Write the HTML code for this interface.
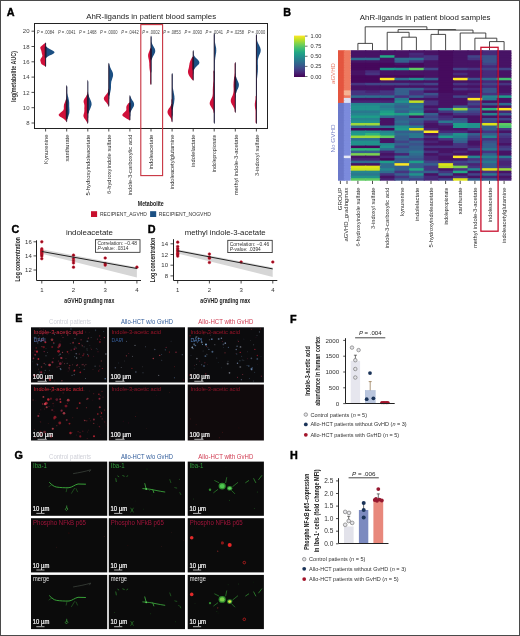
<!DOCTYPE html>
<html><head><meta charset="utf-8"><title>Figure</title>
<style>
html,body{margin:0;padding:0;background:#fff;}
body{width:520px;height:636px;overflow:hidden;}
svg{display:block;}
text{font-family:'Liberation Sans', Arial, Helvetica, sans-serif;}
</style></head><body>
<svg width="520" height="636" viewBox="0 0 520 636">
<rect x="0" y="0" width="520" height="636" fill="#fff"/>
<g id="panelA">
<text x="6.8" y="15.9" font-size="10.8" fill="#000" text-anchor="start" font-weight="bold" stroke="#000" stroke-width="0.4">A</text>
<text x="151.2" y="19" font-size="7.6" fill="#222" text-anchor="middle" textLength="130" lengthAdjust="spacingAndGlyphs">AhR-ligands in patient blood samples</text>
<rect x="34.5" y="23.5" width="233" height="105" fill="none" stroke="#222" stroke-width="1"/>
<line x1="31.5" y1="31.2" x2="34.5" y2="31.2" stroke="#222" stroke-width="0.8"/>
<text x="29.5" y="33.3" font-size="6" fill="#444" text-anchor="end">20</text>
<line x1="31.5" y1="46.5" x2="34.5" y2="46.5" stroke="#222" stroke-width="0.8"/>
<text x="29.5" y="48.6" font-size="6" fill="#444" text-anchor="end">18</text>
<line x1="31.5" y1="61.8" x2="34.5" y2="61.8" stroke="#222" stroke-width="0.8"/>
<text x="29.5" y="63.9" font-size="6" fill="#444" text-anchor="end">16</text>
<line x1="31.5" y1="77.1" x2="34.5" y2="77.1" stroke="#222" stroke-width="0.8"/>
<text x="29.5" y="79.2" font-size="6" fill="#444" text-anchor="end">14</text>
<line x1="31.5" y1="92.4" x2="34.5" y2="92.4" stroke="#222" stroke-width="0.8"/>
<text x="29.5" y="94.5" font-size="6" fill="#444" text-anchor="end">12</text>
<line x1="31.5" y1="107.7" x2="34.5" y2="107.7" stroke="#222" stroke-width="0.8"/>
<text x="29.5" y="109.8" font-size="6" fill="#444" text-anchor="end">10</text>
<line x1="31.5" y1="123.0" x2="34.5" y2="123.0" stroke="#222" stroke-width="0.8"/>
<text x="29.5" y="125.1" font-size="6" fill="#444" text-anchor="end">8</text>
<text x="16.3" y="76.6" font-size="6.6" fill="#333" text-anchor="middle" font-weight="bold" textLength="51" lengthAdjust="spacingAndGlyphs" transform="rotate(-90 16.3 76.6)">log(metabolite AUC)</text>
<line x1="45.6" y1="129" x2="45.6" y2="131.5" stroke="#222" stroke-width="0.8"/>
<text x="47.8" y="134.6" font-size="6.2" fill="#2a2a2a" text-anchor="end" textLength="29.3" lengthAdjust="spacingAndGlyphs" transform="rotate(-90 47.8 134.6)">Kynurenine</text>
<text x="45.6" y="33.7" font-size="5" fill="#444" text-anchor="middle" textLength="17.5" lengthAdjust="spacingAndGlyphs"><tspan font-style="italic">P</tspan> = .0084</text>
<line x1="66.7" y1="129" x2="66.7" y2="131.5" stroke="#222" stroke-width="0.8"/>
<text x="68.88" y="134.6" font-size="6.2" fill="#2a2a2a" text-anchor="end" textLength="27" lengthAdjust="spacingAndGlyphs" transform="rotate(-90 68.88 134.6)">xanthurate</text>
<text x="66.7" y="33.7" font-size="5" fill="#444" text-anchor="middle" textLength="17.5" lengthAdjust="spacingAndGlyphs"><tspan font-style="italic">P</tspan> = .0041</text>
<line x1="87.8" y1="129" x2="87.8" y2="131.5" stroke="#222" stroke-width="0.8"/>
<text x="89.96" y="134.6" font-size="6.2" fill="#2a2a2a" text-anchor="end" textLength="60.8" lengthAdjust="spacingAndGlyphs" transform="rotate(-90 89.96 134.6)">5-hydroxyindoleacetate</text>
<text x="87.8" y="33.7" font-size="5" fill="#444" text-anchor="middle" textLength="17.5" lengthAdjust="spacingAndGlyphs"><tspan font-style="italic">P</tspan> = .1468</text>
<line x1="108.8" y1="129" x2="108.8" y2="131.5" stroke="#222" stroke-width="0.8"/>
<text x="111.04" y="134.6" font-size="6.2" fill="#2a2a2a" text-anchor="end" textLength="59.3" lengthAdjust="spacingAndGlyphs" transform="rotate(-90 111.04 134.6)">6-hydroxyindole sulfate</text>
<text x="108.8" y="33.7" font-size="5" fill="#444" text-anchor="middle" textLength="17.5" lengthAdjust="spacingAndGlyphs"><tspan font-style="italic">P</tspan> = .0000</text>
<line x1="129.9" y1="129" x2="129.9" y2="131.5" stroke="#222" stroke-width="0.8"/>
<text x="132.12" y="134.6" font-size="6.2" fill="#2a2a2a" text-anchor="end" textLength="61" lengthAdjust="spacingAndGlyphs" transform="rotate(-90 132.12 134.6)">indole-3-carboxylic acid</text>
<text x="129.9" y="33.7" font-size="5" fill="#444" text-anchor="middle" textLength="17.5" lengthAdjust="spacingAndGlyphs"><tspan font-style="italic">P</tspan> = .0442</text>
<line x1="151.0" y1="129" x2="151.0" y2="131.5" stroke="#222" stroke-width="0.8"/>
<text x="153.2" y="134.6" font-size="6.2" fill="#2a2a2a" text-anchor="end" textLength="35" lengthAdjust="spacingAndGlyphs" transform="rotate(-90 153.2 134.6)">indoleacetate</text>
<text x="151.0" y="33.7" font-size="5" fill="#444" text-anchor="middle" textLength="17.5" lengthAdjust="spacingAndGlyphs"><tspan font-style="italic">P</tspan> = .0002</text>
<line x1="172.1" y1="129" x2="172.1" y2="131.5" stroke="#222" stroke-width="0.8"/>
<text x="174.28" y="134.6" font-size="6.2" fill="#2a2a2a" text-anchor="end" textLength="54.6" lengthAdjust="spacingAndGlyphs" transform="rotate(-90 174.28 134.6)">indoleacetylglutamine</text>
<text x="172.1" y="33.7" font-size="5" fill="#444" text-anchor="middle" textLength="17.5" lengthAdjust="spacingAndGlyphs"><tspan font-style="italic">P</tspan> = .0853</text>
<line x1="193.2" y1="129" x2="193.2" y2="131.5" stroke="#222" stroke-width="0.8"/>
<text x="195.36" y="134.6" font-size="6.2" fill="#2a2a2a" text-anchor="end" textLength="32.4" lengthAdjust="spacingAndGlyphs" transform="rotate(-90 195.36 134.6)">indolelactate</text>
<text x="193.2" y="33.7" font-size="5" fill="#444" text-anchor="middle" textLength="17.5" lengthAdjust="spacingAndGlyphs"><tspan font-style="italic">P</tspan> = .0093</text>
<line x1="214.2" y1="129" x2="214.2" y2="131.5" stroke="#222" stroke-width="0.8"/>
<text x="216.44" y="134.6" font-size="6.2" fill="#2a2a2a" text-anchor="end" textLength="37.4" lengthAdjust="spacingAndGlyphs" transform="rotate(-90 216.44 134.6)">indolepropionate</text>
<text x="214.2" y="33.7" font-size="5" fill="#444" text-anchor="middle" textLength="17.5" lengthAdjust="spacingAndGlyphs"><tspan font-style="italic">P</tspan> = .0041</text>
<line x1="235.3" y1="129" x2="235.3" y2="131.5" stroke="#222" stroke-width="0.8"/>
<text x="237.52" y="134.6" font-size="6.2" fill="#2a2a2a" text-anchor="end" textLength="60.7" lengthAdjust="spacingAndGlyphs" transform="rotate(-90 237.52 134.6)">methyl indole-3-acetate</text>
<text x="235.3" y="33.7" font-size="5" fill="#444" text-anchor="middle" textLength="17.5" lengthAdjust="spacingAndGlyphs"><tspan font-style="italic">P</tspan> = .0258</text>
<line x1="256.4" y1="129" x2="256.4" y2="131.5" stroke="#222" stroke-width="0.8"/>
<text x="258.6" y="134.6" font-size="6.2" fill="#2a2a2a" text-anchor="end" textLength="41.5" lengthAdjust="spacingAndGlyphs" transform="rotate(-90 258.6 134.6)">3-indoxyl sulfate</text>
<text x="256.4" y="33.7" font-size="5" fill="#444" text-anchor="middle" textLength="17.5" lengthAdjust="spacingAndGlyphs"><tspan font-style="italic">P</tspan> = .0000</text>
<path d="M45.6,42.4 45.6,43.3 45.6,44.3 45.6,45.2 45.6,46.2 45.6,47.1 45.6,48.1 45.6,49.0 45.6,50.0 45.6,50.9 45.6,51.9 45.6,52.8 45.6,53.8 45.6,54.7 45.6,55.6 45.6,56.6 45.6,57.5 45.6,58.5 45.6,59.4 45.6,60.4 45.6,61.3 45.6,62.3 45.6,63.2 45.6,64.2 45.6,65.1 45.6,66.1 45.6,67.0 45.6,67.0 45.6,66.1 45.6,65.1 45.6,64.2 45.6,63.2 45.6,62.3 45.6,61.3 45.6,60.4 45.6,59.4 45.6,58.5 46.4,57.5 47.9,56.6 49.5,55.6 51.5,54.7 53.3,53.8 54.4,52.8 54.5,51.9 53.4,50.9 51.6,50.0 49.7,49.0 48.0,48.1 46.7,47.1 45.7,46.2 45.6,45.2 45.6,44.3 45.6,43.3 45.6,42.4Z" fill="#1b4f82"/>
<path d="M45.6,42.4 44.9,43.3 43.5,44.3 42.4,45.2 41.2,46.2 40.4,47.1 40.3,48.1 40.6,49.0 41.0,50.0 41.4,50.9 41.5,51.9 41.7,52.8 41.9,53.8 42.2,54.7 42.4,55.6 42.2,56.6 41.6,57.5 40.9,58.5 40.4,59.4 40.3,60.4 40.5,61.3 40.8,62.3 41.0,63.2 41.7,64.2 42.9,65.1 44.8,66.1 45.6,67.0 45.6,67.0 45.6,66.1 45.6,65.1 45.6,64.2 45.6,63.2 45.6,62.3 45.6,61.3 45.6,60.4 45.6,59.4 45.6,58.5 45.6,57.5 45.6,56.6 45.6,55.6 45.6,54.7 45.6,53.8 45.6,52.8 45.6,51.9 45.6,50.9 45.6,50.0 45.6,49.0 45.6,48.1 45.6,47.1 45.6,46.2 45.6,45.2 45.6,44.3 45.6,43.3 45.6,42.4Z" fill="#d0103a"/>
<path d="M45.6,42.4 45.1,43.3 45.1,44.3 45.1,45.2 45.1,46.2 44.7,47.1 44.7,48.1 44.7,49.0 44.7,50.0 44.7,50.9 44.7,51.9 44.7,52.8 44.7,53.8 44.7,54.7 44.7,55.6 44.7,56.6 44.8,57.5 45.1,58.5 45.1,59.4 45.1,60.4 45.1,61.3 45.1,62.3 45.1,63.2 45.1,64.2 45.1,65.1 45.1,66.1 45.6,67.0 45.6,67.0 46.1,66.1 46.1,65.1 46.1,64.2 46.1,63.2 46.1,62.3 46.1,61.3 46.1,60.4 46.1,59.4 46.1,58.5 46.4,57.5 46.5,56.6 46.5,55.6 46.5,54.7 46.5,53.8 46.5,52.8 46.5,51.9 46.5,50.9 46.5,50.0 46.5,49.0 46.5,48.1 46.5,47.1 46.1,46.2 46.1,45.2 46.1,44.3 46.1,43.3 45.6,42.4Z" fill="#241630"/>
<path d="M66.7,85.0 66.7,85.9 66.7,86.9 66.7,87.8 66.7,88.7 66.7,89.7 66.7,90.6 66.7,91.5 66.7,92.5 66.7,93.4 66.7,94.3 66.7,95.3 66.7,96.2 66.7,97.1 66.7,98.1 66.7,99.0 66.7,99.9 66.7,100.9 66.7,101.8 66.7,102.7 66.7,103.7 66.7,104.6 66.7,105.5 66.7,106.4 66.7,107.4 66.7,108.3 66.7,109.2 66.7,110.2 66.7,111.1 66.7,112.0 66.7,113.0 66.7,113.9 66.7,114.8 66.7,115.8 66.7,116.7 66.7,117.6 66.7,118.6 66.7,119.5 66.7,120.4 66.7,121.4 66.7,122.3 66.7,122.3 66.7,121.4 66.7,120.4 67.1,119.5 67.5,118.6 67.8,117.6 68.2,116.7 68.5,115.8 68.8,114.8 69.1,113.9 69.3,113.0 69.4,112.0 69.4,111.1 69.4,110.2 69.4,109.2 69.3,108.3 69.3,107.4 69.2,106.4 69.2,105.5 69.2,104.6 69.2,103.7 69.2,102.7 69.1,101.8 69.0,100.9 68.8,99.9 68.6,99.0 68.4,98.1 68.2,97.1 67.9,96.2 67.7,95.3 67.5,94.3 67.3,93.4 67.2,92.5 67.2,91.5 67.2,90.6 67.2,89.7 67.2,88.7 67.2,87.8 67.2,86.9 67.0,85.9 66.7,85.0Z" fill="#1b4f82"/>
<path d="M66.7,85.0 66.7,85.9 66.7,86.9 66.7,87.8 66.7,88.7 66.7,89.7 66.7,90.6 66.7,91.5 66.7,92.5 66.7,93.4 66.7,94.3 66.7,95.3 66.7,96.2 66.6,97.1 66.2,98.1 66.1,99.0 65.8,99.9 65.5,100.9 65.1,101.8 64.7,102.7 64.3,103.7 64.0,104.6 63.9,105.5 63.8,106.4 63.8,107.4 63.9,108.3 63.7,109.2 63.3,110.2 62.5,111.1 61.3,112.0 60.1,113.0 59.1,113.9 58.6,114.8 59.0,115.8 60.1,116.7 61.6,117.6 63.2,118.6 64.5,119.5 65.5,120.4 66.3,121.4 66.7,122.3 66.7,122.3 66.7,121.4 66.7,120.4 66.7,119.5 66.7,118.6 66.7,117.6 66.7,116.7 66.7,115.8 66.7,114.8 66.7,113.9 66.7,113.0 66.7,112.0 66.7,111.1 66.7,110.2 66.7,109.2 66.7,108.3 66.7,107.4 66.7,106.4 66.7,105.5 66.7,104.6 66.7,103.7 66.7,102.7 66.7,101.8 66.7,100.9 66.7,99.9 66.7,99.0 66.7,98.1 66.7,97.1 66.7,96.2 66.7,95.3 66.7,94.3 66.7,93.4 66.7,92.5 66.7,91.5 66.7,90.6 66.7,89.7 66.7,88.7 66.7,87.8 66.7,86.9 66.7,85.9 66.7,85.0Z" fill="#d0103a"/>
<path d="M66.7,85.0 66.4,85.9 66.2,86.9 66.2,87.8 66.2,88.7 66.2,89.7 66.2,90.6 66.2,91.5 66.2,92.5 66.2,93.4 66.2,94.3 66.2,95.3 66.2,96.2 66.2,97.1 66.2,98.1 66.1,99.0 65.8,99.9 65.8,100.9 65.8,101.8 65.8,102.7 65.8,103.7 65.8,104.6 65.8,105.5 65.8,106.4 65.8,107.4 65.8,108.3 65.8,109.2 65.8,110.2 65.8,111.1 65.8,112.0 65.8,113.0 65.8,113.9 65.8,114.8 65.8,115.8 65.8,116.7 65.8,117.6 65.8,118.6 66.2,119.5 66.2,120.4 66.3,121.4 66.7,122.3 66.7,122.3 67.1,121.4 67.2,120.4 67.2,119.5 67.5,118.6 67.6,117.6 67.6,116.7 67.6,115.8 67.6,114.8 67.6,113.9 67.6,113.0 67.6,112.0 67.6,111.1 67.6,110.2 67.6,109.2 67.6,108.3 67.6,107.4 67.6,106.4 67.6,105.5 67.6,104.6 67.6,103.7 67.6,102.7 67.6,101.8 67.6,100.9 67.6,99.9 67.3,99.0 67.2,98.1 67.2,97.1 67.2,96.2 67.2,95.3 67.2,94.3 67.2,93.4 67.2,92.5 67.2,91.5 67.2,90.6 67.2,89.7 67.2,88.7 67.2,87.8 67.2,86.9 67.0,85.9 66.7,85.0Z" fill="#241630"/>
<path d="M87.8,79.8 87.8,80.7 87.8,81.7 87.8,82.6 87.8,83.6 87.8,84.5 87.8,85.4 87.8,86.4 87.8,87.3 87.8,88.3 87.8,89.2 87.8,90.1 87.8,91.1 87.8,92.0 87.8,93.0 87.8,93.9 87.8,94.8 87.8,95.8 87.8,96.7 87.8,97.7 87.8,98.6 87.8,99.5 87.8,100.5 87.8,101.4 87.8,102.4 87.8,103.3 87.8,104.3 87.8,105.2 87.8,106.1 87.8,107.1 87.8,108.0 87.8,109.0 87.8,109.9 87.8,110.8 87.8,111.8 87.8,112.7 87.8,113.7 87.8,114.6 87.8,115.5 87.8,116.5 87.8,117.4 87.8,118.4 87.8,119.3 87.8,120.2 87.8,121.2 87.8,122.1 87.8,123.1 87.8,124.0 87.8,124.0 87.8,123.1 87.8,122.1 87.8,121.2 87.8,120.2 87.8,119.3 87.9,118.4 88.2,117.4 88.2,116.5 88.2,115.5 88.2,114.6 88.3,113.7 88.6,112.7 88.9,111.8 89.3,110.8 89.7,109.9 90.1,109.0 90.5,108.0 90.9,107.1 91.2,106.1 91.5,105.2 91.6,104.3 91.5,103.3 91.4,102.4 91.1,101.4 90.7,100.5 90.3,99.5 89.9,98.6 89.5,97.7 89.1,96.7 88.7,95.8 88.5,94.8 88.3,93.9 88.2,93.0 88.2,92.0 88.2,91.1 88.2,90.1 88.2,89.2 88.2,88.3 88.2,87.3 88.2,86.4 88.2,85.4 88.2,84.5 88.2,83.6 88.2,82.6 88.2,81.7 88.0,80.7 87.8,79.8Z" fill="#1b4f82"/>
<path d="M87.8,79.8 87.8,80.7 87.8,81.7 87.8,82.6 87.8,83.6 87.8,84.5 87.8,85.4 87.8,86.4 87.8,87.3 87.8,88.3 87.8,89.2 87.8,90.1 87.8,91.1 87.6,92.0 87.3,93.0 87.2,93.9 86.9,94.8 86.4,95.8 85.9,96.7 85.2,97.7 84.6,98.6 84.1,99.5 83.7,100.5 83.6,101.4 83.7,102.4 84.0,103.3 84.2,104.3 84.4,105.2 84.4,106.1 84.4,107.1 84.3,108.0 84.3,109.0 84.4,109.9 84.3,110.8 84.3,111.8 84.1,112.7 83.8,113.7 83.6,114.6 83.4,115.5 83.5,116.5 83.9,117.4 84.4,118.4 85.1,119.3 85.7,120.2 86.4,121.2 86.8,122.1 87.4,123.1 87.8,124.0 87.8,124.0 87.8,123.1 87.8,122.1 87.8,121.2 87.8,120.2 87.8,119.3 87.8,118.4 87.8,117.4 87.8,116.5 87.8,115.5 87.8,114.6 87.8,113.7 87.8,112.7 87.8,111.8 87.8,110.8 87.8,109.9 87.8,109.0 87.8,108.0 87.8,107.1 87.8,106.1 87.8,105.2 87.8,104.3 87.8,103.3 87.8,102.4 87.8,101.4 87.8,100.5 87.8,99.5 87.8,98.6 87.8,97.7 87.8,96.7 87.8,95.8 87.8,94.8 87.8,93.9 87.8,93.0 87.8,92.0 87.8,91.1 87.8,90.1 87.8,89.2 87.8,88.3 87.8,87.3 87.8,86.4 87.8,85.4 87.8,84.5 87.8,83.6 87.8,82.6 87.8,81.7 87.8,80.7 87.8,79.8Z" fill="#d0103a"/>
<path d="M87.8,79.8 87.5,80.7 87.4,81.7 87.4,82.6 87.4,83.6 87.4,84.5 87.4,85.4 87.4,86.4 87.4,87.3 87.4,88.3 87.4,89.2 87.4,90.1 87.4,91.1 87.4,92.0 87.3,93.0 87.3,93.9 87.0,94.8 86.9,95.8 86.9,96.7 86.9,97.7 86.9,98.6 86.9,99.5 86.9,100.5 86.9,101.4 86.9,102.4 86.9,103.3 86.9,104.3 86.9,105.2 86.9,106.1 86.9,107.1 86.9,108.0 86.9,109.0 86.9,109.9 86.9,110.8 86.9,111.8 86.9,112.7 87.2,113.7 87.3,114.6 87.3,115.5 87.3,116.5 87.3,117.4 87.3,118.4 87.3,119.3 87.3,120.2 87.3,121.2 87.3,122.1 87.4,123.1 87.8,124.0 87.8,124.0 88.1,123.1 88.3,122.1 88.3,121.2 88.3,120.2 88.3,119.3 88.3,118.4 88.3,117.4 88.3,116.5 88.3,115.5 88.3,114.6 88.3,113.7 88.6,112.7 88.7,111.8 88.7,110.8 88.7,109.9 88.7,109.0 88.7,108.0 88.7,107.1 88.7,106.1 88.7,105.2 88.7,104.3 88.7,103.3 88.7,102.4 88.7,101.4 88.7,100.5 88.7,99.5 88.7,98.6 88.7,97.7 88.7,96.7 88.7,95.8 88.5,94.8 88.3,93.9 88.3,93.0 88.2,92.0 88.2,91.1 88.2,90.1 88.2,89.2 88.2,88.3 88.2,87.3 88.2,86.4 88.2,85.4 88.2,84.5 88.2,83.6 88.2,82.6 88.2,81.7 88.0,80.7 87.8,79.8Z" fill="#241630"/>
<path d="M108.8,62.8 108.8,63.7 108.8,64.7 108.8,65.6 108.8,66.6 108.8,67.5 108.8,68.4 108.8,69.4 108.8,70.3 108.8,71.3 108.8,72.2 108.8,73.1 108.8,74.1 108.8,75.0 108.8,76.0 108.8,76.9 108.8,77.8 108.8,78.8 108.8,79.7 108.8,80.7 108.8,81.6 108.8,82.5 108.8,83.5 108.8,84.4 108.8,85.4 108.8,86.3 108.8,87.3 108.8,88.2 108.8,89.1 108.8,90.1 108.8,91.0 108.8,92.0 108.8,92.9 108.8,93.8 108.8,94.8 108.8,95.7 108.8,96.7 108.8,97.6 108.8,98.5 108.8,99.5 108.8,100.4 108.8,101.4 108.8,102.3 108.8,103.2 108.8,104.2 108.8,105.1 108.8,106.1 108.8,107.0 108.8,107.0 108.8,106.1 108.8,105.1 108.8,104.2 108.8,103.2 108.8,102.3 108.8,101.4 108.8,100.4 109.0,99.5 109.3,98.5 109.3,97.6 109.3,96.7 109.4,95.7 109.6,94.8 109.9,93.8 110.1,92.9 110.3,92.0 110.5,91.0 110.7,90.1 110.9,89.1 110.9,88.2 111.0,87.3 111.0,86.3 111.0,85.4 111.0,84.4 111.1,83.5 111.2,82.5 111.3,81.6 111.6,80.7 111.9,79.7 112.2,78.8 112.5,77.8 112.8,76.9 113.0,76.0 113.1,75.0 113.0,74.1 112.9,73.1 112.6,72.2 112.2,71.3 111.7,70.3 111.2,69.4 110.8,68.4 110.3,67.5 110.0,66.6 109.6,65.6 109.4,64.7 109.2,63.7 108.8,62.8Z" fill="#1b4f82"/>
<path d="M108.8,62.8 108.8,63.7 108.8,64.7 108.8,65.6 108.8,66.6 108.8,67.5 108.8,68.4 108.8,69.4 108.8,70.3 108.8,71.3 108.8,72.2 108.8,73.1 108.8,74.1 108.8,75.0 108.8,76.0 108.8,76.9 108.8,77.8 108.8,78.8 108.8,79.7 108.8,80.7 108.8,81.6 108.8,82.5 108.8,83.5 108.8,84.4 108.8,85.4 108.8,86.3 108.8,87.3 108.8,88.2 108.5,89.1 108.2,90.1 108.2,91.0 108.0,92.0 107.5,92.9 106.8,93.8 106.0,94.8 105.2,95.7 104.5,96.7 104.0,97.6 103.8,98.5 104.0,99.5 104.5,100.4 105.3,101.4 106.1,102.3 106.8,103.2 107.5,104.2 108.0,105.1 108.5,106.1 108.8,107.0 108.8,107.0 108.8,106.1 108.8,105.1 108.8,104.2 108.8,103.2 108.8,102.3 108.8,101.4 108.8,100.4 108.8,99.5 108.8,98.5 108.8,97.6 108.8,96.7 108.8,95.7 108.8,94.8 108.8,93.8 108.8,92.9 108.8,92.0 108.8,91.0 108.8,90.1 108.8,89.1 108.8,88.2 108.8,87.3 108.8,86.3 108.8,85.4 108.8,84.4 108.8,83.5 108.8,82.5 108.8,81.6 108.8,80.7 108.8,79.7 108.8,78.8 108.8,77.8 108.8,76.9 108.8,76.0 108.8,75.0 108.8,74.1 108.8,73.1 108.8,72.2 108.8,71.3 108.8,70.3 108.8,69.4 108.8,68.4 108.8,67.5 108.8,66.6 108.8,65.6 108.8,64.7 108.8,63.7 108.8,62.8Z" fill="#d0103a"/>
<path d="M108.8,62.8 108.5,63.7 108.3,64.7 108.3,65.6 108.3,66.6 108.3,67.5 108.3,68.4 108.3,69.4 108.3,70.3 108.3,71.3 108.3,72.2 108.3,73.1 108.3,74.1 108.3,75.0 108.3,76.0 108.3,76.9 108.3,77.8 108.3,78.8 108.3,79.7 108.3,80.7 108.3,81.6 108.3,82.5 108.3,83.5 108.3,84.4 108.3,85.4 108.3,86.3 108.3,87.3 108.3,88.2 108.3,89.1 108.2,90.1 108.2,91.0 108.0,92.0 107.9,92.9 107.9,93.8 108.0,94.8 108.2,95.7 108.3,96.7 108.3,97.6 108.3,98.5 108.3,99.5 108.3,100.4 108.3,101.4 108.3,102.3 108.3,103.2 108.3,104.2 108.3,105.1 108.5,106.1 108.8,107.0 108.8,107.0 109.2,106.1 109.3,105.1 109.3,104.2 109.3,103.2 109.3,102.3 109.3,101.4 109.3,100.4 109.3,99.5 109.3,98.5 109.3,97.6 109.3,96.7 109.4,95.7 109.6,94.8 109.7,93.8 109.7,92.9 109.7,92.0 109.4,91.0 109.4,90.1 109.3,89.1 109.3,88.2 109.3,87.3 109.3,86.3 109.3,85.4 109.3,84.4 109.3,83.5 109.3,82.5 109.3,81.6 109.3,80.7 109.3,79.7 109.3,78.8 109.3,77.8 109.3,76.9 109.3,76.0 109.3,75.0 109.3,74.1 109.3,73.1 109.3,72.2 109.3,71.3 109.3,70.3 109.3,69.4 109.3,68.4 109.3,67.5 109.3,66.6 109.3,65.6 109.3,64.7 109.2,63.7 108.8,62.8Z" fill="#241630"/>
<path d="M129.9,95.0 129.9,95.9 129.9,96.9 129.9,97.8 129.9,98.8 129.9,99.7 129.9,100.7 129.9,101.6 129.9,102.6 129.9,103.5 129.9,104.5 129.9,105.4 129.9,106.4 129.9,107.3 129.9,108.3 129.9,109.2 129.9,110.2 129.9,111.1 129.9,112.1 129.9,113.0 129.9,114.0 129.9,114.9 129.9,115.9 129.9,116.8 129.9,117.8 129.9,118.7 129.9,119.7 129.9,120.6 129.9,120.6 129.9,119.7 129.9,118.7 129.9,117.8 130.0,116.8 130.3,115.9 130.4,114.9 130.4,114.0 130.4,113.0 130.6,112.1 131.0,111.1 131.5,110.2 132.0,109.2 132.6,108.3 133.2,107.3 133.7,106.4 134.0,105.4 134.1,104.5 134.0,103.5 133.7,102.6 133.2,101.6 132.6,100.7 132.0,99.7 131.4,98.8 131.0,97.8 130.6,96.9 130.2,95.9 129.9,95.0Z" fill="#1b4f82"/>
<path d="M129.9,95.0 129.9,95.9 129.9,96.9 129.9,97.8 129.9,98.8 129.9,99.7 129.9,100.7 129.9,101.6 129.5,102.6 128.1,103.5 127.5,104.5 126.8,105.4 126.4,106.4 126.3,107.3 126.3,108.3 126.4,109.2 126.2,110.2 125.7,111.1 124.7,112.1 123.6,113.0 122.7,114.0 122.3,114.9 122.7,115.9 123.8,116.8 125.3,117.8 126.8,118.7 128.7,119.7 129.9,120.6 129.9,120.6 129.9,119.7 129.9,118.7 129.9,117.8 129.9,116.8 129.9,115.9 129.9,114.9 129.9,114.0 129.9,113.0 129.9,112.1 129.9,111.1 129.9,110.2 129.9,109.2 129.9,108.3 129.9,107.3 129.9,106.4 129.9,105.4 129.9,104.5 129.9,103.5 129.9,102.6 129.9,101.6 129.9,100.7 129.9,99.7 129.9,98.8 129.9,97.8 129.9,96.9 129.9,95.9 129.9,95.0Z" fill="#d0103a"/>
<path d="M129.9,95.0 129.6,95.9 129.4,96.9 129.4,97.8 129.4,98.8 129.4,99.7 129.4,100.7 129.4,101.6 129.4,102.6 129.0,103.5 129.0,104.5 129.0,105.4 129.0,106.4 129.0,107.3 129.0,108.3 129.0,109.2 129.0,110.2 129.0,111.1 129.2,112.1 129.4,113.0 129.4,114.0 129.4,114.9 129.4,115.9 129.4,116.8 129.4,117.8 129.4,118.7 129.4,119.7 129.9,120.6 129.9,120.6 130.4,119.7 130.4,118.7 130.4,117.8 130.4,116.8 130.4,115.9 130.4,114.9 130.4,114.0 130.4,113.0 130.6,112.1 130.8,111.1 130.8,110.2 130.8,109.2 130.8,108.3 130.8,107.3 130.8,106.4 130.8,105.4 130.8,104.5 130.8,103.5 130.4,102.6 130.4,101.6 130.4,100.7 130.4,99.7 130.4,98.8 130.4,97.8 130.4,96.9 130.2,95.9 129.9,95.0Z" fill="#241630"/>
<path d="M151.0,35.6 151.0,36.5 151.0,37.5 151.0,38.4 151.0,39.3 151.0,40.3 151.0,41.2 151.0,42.1 151.0,43.1 151.0,44.0 151.0,44.9 151.0,45.9 151.0,46.8 151.0,47.7 151.0,48.6 151.0,49.6 151.0,50.5 151.0,51.4 151.0,52.4 151.0,53.3 151.0,54.2 151.0,55.2 151.0,56.1 151.0,57.0 151.0,58.0 151.0,58.9 151.0,59.8 151.0,60.8 151.0,61.7 151.0,62.6 151.0,63.6 151.0,64.5 151.0,65.4 151.0,66.4 151.0,67.3 151.0,68.2 151.0,69.2 151.0,70.1 151.0,71.0 151.0,72.0 151.0,72.9 151.0,73.8 151.0,74.7 151.0,75.7 151.0,76.6 151.0,77.5 151.0,78.5 151.0,79.4 151.0,80.3 151.0,81.3 151.0,82.2 151.0,83.1 151.0,84.1 151.0,85.0 151.0,85.0 151.0,84.1 151.0,83.1 151.0,82.2 151.0,81.3 151.0,80.3 151.0,79.4 151.0,78.5 151.0,77.5 151.0,76.6 151.0,75.7 151.0,74.7 151.0,73.8 151.0,72.9 151.3,72.0 151.5,71.0 151.5,70.1 151.5,69.2 151.5,68.2 151.5,67.3 151.5,66.4 151.5,65.4 151.5,64.5 151.5,63.6 151.5,62.6 151.5,61.7 151.5,60.8 151.6,59.8 151.9,58.9 152.3,58.0 152.7,57.0 153.2,56.1 153.7,55.2 154.2,54.2 154.7,53.3 155.0,52.4 155.2,51.4 155.2,50.5 155.0,49.6 154.7,48.6 154.2,47.7 153.7,46.8 153.2,45.9 152.7,44.9 152.2,44.0 151.9,43.1 151.6,42.1 151.5,41.2 151.5,40.3 151.5,39.3 151.5,38.4 151.5,37.5 151.3,36.5 151.0,35.6Z" fill="#1b4f82"/>
<path d="M151.0,35.6 151.0,36.5 151.0,37.5 151.0,38.4 151.0,39.3 151.0,40.3 151.0,41.2 151.0,42.1 151.0,43.1 151.0,44.0 151.0,44.9 151.0,45.9 151.0,46.8 150.9,47.7 150.4,48.6 149.9,49.6 149.6,50.5 149.2,51.4 148.8,52.4 148.5,53.3 148.2,54.2 148.1,55.2 148.1,56.1 148.2,57.0 148.4,58.0 148.6,58.9 148.8,59.8 149.0,60.8 149.1,61.7 149.2,62.6 149.3,63.6 149.3,64.5 149.3,65.4 149.4,66.4 149.4,67.3 149.5,68.2 149.6,69.2 149.7,70.1 149.9,71.0 150.0,72.0 150.2,72.9 150.2,73.8 150.2,74.7 150.2,75.7 150.2,76.6 150.2,77.5 150.2,78.5 150.2,79.4 150.2,80.3 150.2,81.3 150.2,82.2 150.2,83.1 150.5,84.1 151.0,85.0 151.0,85.0 151.0,84.1 151.0,83.1 151.0,82.2 151.0,81.3 151.0,80.3 151.0,79.4 151.0,78.5 151.0,77.5 151.0,76.6 151.0,75.7 151.0,74.7 151.0,73.8 151.0,72.9 151.0,72.0 151.0,71.0 151.0,70.1 151.0,69.2 151.0,68.2 151.0,67.3 151.0,66.4 151.0,65.4 151.0,64.5 151.0,63.6 151.0,62.6 151.0,61.7 151.0,60.8 151.0,59.8 151.0,58.9 151.0,58.0 151.0,57.0 151.0,56.1 151.0,55.2 151.0,54.2 151.0,53.3 151.0,52.4 151.0,51.4 151.0,50.5 151.0,49.6 151.0,48.6 151.0,47.7 151.0,46.8 151.0,45.9 151.0,44.9 151.0,44.0 151.0,43.1 151.0,42.1 151.0,41.2 151.0,40.3 151.0,39.3 151.0,38.4 151.0,37.5 151.0,36.5 151.0,35.6Z" fill="#d0103a"/>
<path d="M151.0,35.6 150.7,36.5 150.5,37.5 150.5,38.4 150.5,39.3 150.5,40.3 150.5,41.2 150.5,42.1 150.5,43.1 150.5,44.0 150.5,44.9 150.5,45.9 150.5,46.8 150.5,47.7 150.4,48.6 150.1,49.6 150.1,50.5 150.1,51.4 150.1,52.4 150.1,53.3 150.1,54.2 150.1,55.2 150.1,56.1 150.1,57.0 150.1,58.0 150.1,58.9 150.4,59.8 150.5,60.8 150.5,61.7 150.5,62.6 150.5,63.6 150.5,64.5 150.5,65.4 150.5,66.4 150.5,67.3 150.5,68.2 150.5,69.2 150.5,70.1 150.5,71.0 150.5,72.0 150.5,72.9 150.5,73.8 150.5,74.7 150.5,75.7 150.5,76.6 150.5,77.5 150.5,78.5 150.5,79.4 150.5,80.3 150.5,81.3 150.5,82.2 150.5,83.1 150.5,84.1 151.0,85.0 151.0,85.0 151.5,84.1 151.5,83.1 151.5,82.2 151.5,81.3 151.5,80.3 151.5,79.4 151.5,78.5 151.5,77.5 151.5,76.6 151.5,75.7 151.5,74.7 151.5,73.8 151.5,72.9 151.5,72.0 151.5,71.0 151.5,70.1 151.5,69.2 151.5,68.2 151.5,67.3 151.5,66.4 151.5,65.4 151.5,64.5 151.5,63.6 151.5,62.6 151.5,61.7 151.5,60.8 151.6,59.8 151.9,58.9 151.9,58.0 151.9,57.0 151.9,56.1 151.9,55.2 151.9,54.2 151.9,53.3 151.9,52.4 151.9,51.4 151.9,50.5 151.9,49.6 151.6,48.6 151.5,47.7 151.5,46.8 151.5,45.9 151.5,44.9 151.5,44.0 151.5,43.1 151.5,42.1 151.5,41.2 151.5,40.3 151.5,39.3 151.5,38.4 151.5,37.5 151.3,36.5 151.0,35.6Z" fill="#241630"/>
<path d="M172.1,73.0 172.1,73.9 172.1,74.9 172.1,75.8 172.1,76.7 172.1,77.7 172.1,78.6 172.1,79.5 172.1,80.4 172.1,81.4 172.1,82.3 172.1,83.2 172.1,84.2 172.1,85.1 172.1,86.0 172.1,87.0 172.1,87.9 172.1,88.8 172.1,89.7 172.1,90.7 172.1,91.6 172.1,92.5 172.1,93.5 172.1,94.4 172.1,95.3 172.1,96.3 172.1,97.2 172.1,98.1 172.1,99.0 172.1,100.0 172.1,100.9 172.1,101.8 172.1,102.8 172.1,103.7 172.1,104.6 172.1,105.6 172.1,106.5 172.1,107.4 172.1,108.3 172.1,109.3 172.1,110.2 172.1,111.1 172.1,112.1 172.1,113.0 172.1,113.9 172.1,114.9 172.1,115.8 172.1,116.7 172.1,117.6 172.1,118.6 172.1,119.5 172.1,120.4 172.1,121.4 172.1,122.3 172.1,122.3 172.1,121.4 172.1,120.4 172.1,119.5 172.1,118.6 172.1,117.6 172.3,116.7 172.6,115.8 172.7,114.9 172.7,113.9 172.7,113.0 172.7,112.1 172.7,111.1 172.7,110.2 172.8,109.3 173.0,108.3 173.1,107.4 173.3,106.5 173.5,105.6 173.7,104.6 173.9,103.7 174.1,102.8 174.2,101.8 174.3,100.9 174.4,100.0 174.5,99.0 174.5,98.1 174.4,97.2 174.4,96.3 174.2,95.3 174.1,94.4 173.9,93.5 173.7,92.5 173.6,91.6 173.4,90.7 173.2,89.7 173.0,88.8 172.8,87.9 172.7,87.0 172.7,86.0 172.7,85.1 172.7,84.2 172.7,83.2 172.7,82.3 172.7,81.4 172.7,80.4 172.7,79.5 172.7,78.6 172.7,77.7 172.7,76.7 172.7,75.8 172.7,74.9 172.5,73.9 172.1,73.0Z" fill="#1b4f82"/>
<path d="M172.1,73.0 172.1,73.9 172.1,74.9 172.1,75.8 172.1,76.7 172.1,77.7 172.1,78.6 172.1,79.5 172.1,80.4 172.1,81.4 172.1,82.3 172.1,83.2 172.1,84.2 172.1,85.1 172.1,86.0 172.1,87.0 172.1,87.9 172.1,88.8 172.1,89.7 172.1,90.7 172.1,91.6 172.1,92.5 172.1,93.5 172.1,94.4 172.1,95.3 172.1,96.3 172.1,97.2 172.1,98.1 171.9,99.0 171.5,100.0 171.5,100.9 171.5,101.8 171.5,102.8 171.5,103.7 171.2,104.6 170.8,105.6 170.3,106.5 169.7,107.4 169.0,108.3 168.4,109.3 167.9,110.2 167.6,111.1 167.5,112.1 167.6,113.0 168.0,113.9 168.5,114.9 169.1,115.8 169.8,116.7 170.4,117.6 170.9,118.6 171.3,119.5 171.5,120.4 171.7,121.4 172.1,122.3 172.1,122.3 172.1,121.4 172.1,120.4 172.1,119.5 172.1,118.6 172.1,117.6 172.1,116.7 172.1,115.8 172.1,114.9 172.1,113.9 172.1,113.0 172.1,112.1 172.1,111.1 172.1,110.2 172.1,109.3 172.1,108.3 172.1,107.4 172.1,106.5 172.1,105.6 172.1,104.6 172.1,103.7 172.1,102.8 172.1,101.8 172.1,100.9 172.1,100.0 172.1,99.0 172.1,98.1 172.1,97.2 172.1,96.3 172.1,95.3 172.1,94.4 172.1,93.5 172.1,92.5 172.1,91.6 172.1,90.7 172.1,89.7 172.1,88.8 172.1,87.9 172.1,87.0 172.1,86.0 172.1,85.1 172.1,84.2 172.1,83.2 172.1,82.3 172.1,81.4 172.1,80.4 172.1,79.5 172.1,78.6 172.1,77.7 172.1,76.7 172.1,75.8 172.1,74.9 172.1,73.9 172.1,73.0Z" fill="#d0103a"/>
<path d="M172.1,73.0 171.7,73.9 171.6,74.9 171.6,75.8 171.6,76.7 171.6,77.7 171.6,78.6 171.6,79.5 171.6,80.4 171.6,81.4 171.6,82.3 171.6,83.2 171.6,84.2 171.6,85.1 171.6,86.0 171.6,87.0 171.6,87.9 171.6,88.8 171.6,89.7 171.6,90.7 171.6,91.6 171.6,92.5 171.6,93.5 171.6,94.4 171.6,95.3 171.6,96.3 171.6,97.2 171.6,98.1 171.6,99.0 171.5,100.0 171.5,100.9 171.5,101.8 171.5,102.8 171.5,103.7 171.2,104.6 171.2,105.6 171.2,106.5 171.2,107.4 171.2,108.3 171.3,109.3 171.5,110.2 171.5,111.1 171.5,112.1 171.5,113.0 171.5,113.9 171.5,114.9 171.5,115.8 171.6,116.7 171.6,117.6 171.6,118.6 171.6,119.5 171.6,120.4 171.7,121.4 172.1,122.3 172.1,122.3 172.5,121.4 172.6,120.4 172.6,119.5 172.6,118.6 172.6,117.6 172.6,116.7 172.6,115.8 172.7,114.9 172.7,113.9 172.7,113.0 172.7,112.1 172.7,111.1 172.7,110.2 172.8,109.3 173.0,108.3 173.0,107.4 173.0,106.5 173.0,105.6 172.9,104.6 172.7,103.7 172.7,102.8 172.7,101.8 172.7,100.9 172.7,100.0 172.6,99.0 172.6,98.1 172.6,97.2 172.6,96.3 172.6,95.3 172.6,94.4 172.6,93.5 172.6,92.5 172.6,91.6 172.6,90.7 172.6,89.7 172.6,88.8 172.6,87.9 172.6,87.0 172.6,86.0 172.6,85.1 172.6,84.2 172.6,83.2 172.6,82.3 172.6,81.4 172.6,80.4 172.6,79.5 172.6,78.6 172.6,77.7 172.6,76.7 172.6,75.8 172.6,74.9 172.5,73.9 172.1,73.0Z" fill="#241630"/>
<path d="M193.2,50.0 193.2,51.0 193.2,51.9 193.2,52.9 193.2,53.8 193.2,54.8 193.2,55.8 193.2,56.7 193.2,57.7 193.2,58.6 193.2,59.6 193.2,60.6 193.2,61.5 193.2,62.5 193.2,63.4 193.2,64.4 193.2,65.3 193.2,66.3 193.2,67.3 193.2,68.2 193.2,69.2 193.2,70.1 193.2,71.1 193.2,72.1 193.2,73.0 193.2,74.0 193.2,74.9 193.2,75.9 193.2,76.9 193.2,77.8 193.2,78.8 193.2,79.7 193.2,80.7 193.2,80.7 193.2,79.7 193.2,78.8 193.2,77.8 193.2,76.9 193.2,75.9 193.2,74.9 193.4,74.0 193.7,73.0 193.7,72.1 193.7,71.1 193.8,70.1 194.3,69.2 194.9,68.2 195.7,67.3 196.7,66.3 197.7,65.3 198.6,64.4 199.2,63.4 199.4,62.5 199.1,61.5 198.5,60.6 197.6,59.6 196.6,58.6 195.7,57.7 194.9,56.7 194.2,55.8 193.8,54.8 193.7,53.8 193.7,52.9 193.7,51.9 193.5,51.0 193.2,50.0Z" fill="#1b4f82"/>
<path d="M193.2,50.0 193.2,51.0 193.2,51.9 193.2,52.9 193.2,53.8 193.2,54.8 193.2,55.8 192.7,56.7 191.9,57.7 191.5,58.6 191.0,59.6 190.5,60.6 190.1,61.5 189.8,62.5 189.5,63.4 189.4,64.4 189.2,65.3 189.1,66.3 188.9,67.3 188.7,68.2 188.4,69.2 188.2,70.1 188.0,71.1 188.0,72.1 188.1,73.0 188.4,74.0 188.8,74.9 189.4,75.9 190.0,76.9 190.7,77.8 191.3,78.8 192.3,79.7 193.2,80.7 193.2,80.7 193.2,79.7 193.2,78.8 193.2,77.8 193.2,76.9 193.2,75.9 193.2,74.9 193.2,74.0 193.2,73.0 193.2,72.1 193.2,71.1 193.2,70.1 193.2,69.2 193.2,68.2 193.2,67.3 193.2,66.3 193.2,65.3 193.2,64.4 193.2,63.4 193.2,62.5 193.2,61.5 193.2,60.6 193.2,59.6 193.2,58.6 193.2,57.7 193.2,56.7 193.2,55.8 193.2,54.8 193.2,53.8 193.2,52.9 193.2,51.9 193.2,51.0 193.2,50.0Z" fill="#d0103a"/>
<path d="M193.2,50.0 192.8,51.0 192.7,51.9 192.7,52.9 192.7,53.8 192.7,54.8 192.7,55.8 192.7,56.7 192.3,57.7 192.3,58.6 192.3,59.6 192.3,60.6 192.3,61.5 192.3,62.5 192.3,63.4 192.3,64.4 192.3,65.3 192.3,66.3 192.3,67.3 192.3,68.2 192.3,69.2 192.5,70.1 192.7,71.1 192.7,72.1 192.7,73.0 192.7,74.0 192.7,74.9 192.7,75.9 192.7,76.9 192.7,77.8 192.7,78.8 192.7,79.7 193.2,80.7 193.2,80.7 193.7,79.7 193.7,78.8 193.7,77.8 193.7,76.9 193.7,75.9 193.7,74.9 193.7,74.0 193.7,73.0 193.7,72.1 193.7,71.1 193.8,70.1 194.1,69.2 194.1,68.2 194.1,67.3 194.1,66.3 194.1,65.3 194.1,64.4 194.1,63.4 194.1,62.5 194.1,61.5 194.1,60.6 194.1,59.6 194.1,58.6 194.1,57.7 193.7,56.7 193.7,55.8 193.7,54.8 193.7,53.8 193.7,52.9 193.7,51.9 193.5,51.0 193.2,50.0Z" fill="#241630"/>
<path d="M214.2,33.0 214.2,33.9 214.2,34.8 214.2,35.8 214.2,36.7 214.2,37.6 214.2,38.5 214.2,39.4 214.2,40.4 214.2,41.3 214.2,42.2 214.2,43.1 214.2,44.0 214.2,44.9 214.2,45.9 214.2,46.8 214.2,47.7 214.2,48.6 214.2,49.5 214.2,50.5 214.2,51.4 214.2,52.3 214.2,53.2 214.2,54.1 214.2,55.1 214.2,56.0 214.2,56.9 214.2,57.8 214.2,58.7 214.2,59.7 214.2,60.6 214.2,61.5 214.2,62.4 214.2,63.3 214.2,64.3 214.2,65.2 214.2,66.1 214.2,67.0 214.2,67.9 214.2,68.8 214.2,69.8 214.2,70.7 214.2,71.6 214.2,72.5 214.2,73.4 214.2,74.4 214.2,75.3 214.2,76.2 214.2,77.1 214.2,78.0 214.2,79.0 214.2,79.9 214.2,80.8 214.2,81.7 214.2,82.6 214.2,83.6 214.2,84.5 214.2,85.4 214.2,86.3 214.2,87.2 214.2,88.2 214.2,89.1 214.2,90.0 214.2,90.9 214.2,91.8 214.2,92.7 214.2,93.7 214.2,94.6 214.2,95.5 214.2,96.4 214.2,97.3 214.2,98.3 214.2,99.2 214.2,100.1 214.2,101.0 214.2,101.9 214.2,102.9 214.2,103.8 214.2,104.7 214.2,105.6 214.2,106.5 214.2,107.5 214.2,108.4 214.2,109.3 214.2,110.2 214.2,111.1 214.2,112.1 214.2,113.0 214.2,113.9 214.2,114.8 214.2,115.7 214.2,116.6 214.2,117.6 214.2,118.5 214.2,119.4 214.2,120.3 214.2,121.2 214.2,122.2 214.2,123.1 214.2,124.0 214.2,124.0 214.6,123.1 214.8,122.2 214.8,121.2 214.8,120.3 214.8,119.4 214.8,118.5 214.8,117.6 214.8,116.6 214.8,115.7 214.8,114.8 214.8,113.9 214.8,113.0 214.8,112.1 214.8,111.1 214.8,110.2 214.8,109.3 214.8,108.4 214.8,107.5 214.8,106.5 214.8,105.6 214.8,104.7 214.8,103.8 214.8,102.9 214.8,101.9 214.8,101.0 214.8,100.1 214.8,99.2 214.8,98.3 214.8,97.3 214.8,96.4 214.8,95.5 214.8,94.6 214.8,93.7 214.8,92.7 214.8,91.8 214.8,90.9 214.8,90.0 214.8,89.1 214.8,88.2 214.8,87.2 214.8,86.3 214.8,85.4 214.8,84.5 214.8,83.6 214.8,82.6 214.8,81.7 214.8,80.8 214.9,79.9 214.9,79.0 214.9,78.0 214.9,77.1 214.9,76.2 214.9,75.3 214.9,74.4 214.9,73.4 214.9,72.5 214.9,71.6 214.9,70.7 214.9,69.8 214.9,68.8 214.9,67.9 214.9,67.0 214.9,66.1 214.9,65.2 214.9,64.3 214.9,63.3 215.0,62.4 215.0,61.5 215.0,60.6 215.1,59.7 215.2,58.7 215.3,57.8 215.4,56.9 215.6,56.0 215.7,55.1 215.9,54.1 216.0,53.2 216.2,52.3 216.2,51.4 216.3,50.5 216.2,49.5 216.2,48.6 216.1,47.7 215.9,46.8 215.7,45.9 215.5,44.9 215.3,44.0 215.1,43.1 215.0,42.2 214.8,41.3 214.8,40.4 214.8,39.4 214.8,38.5 214.8,37.6 214.8,36.7 214.8,35.8 214.8,34.8 214.6,33.9 214.2,33.0Z" fill="#1b4f82"/>
<path d="M214.2,33.0 214.2,33.9 214.2,34.8 214.2,35.8 214.2,36.7 214.2,37.6 214.2,38.5 214.2,39.4 214.2,40.4 214.2,41.3 214.2,42.2 214.2,43.1 214.2,44.0 214.2,44.9 214.2,45.9 214.2,46.8 214.2,47.7 214.2,48.6 214.2,49.5 214.2,50.5 214.2,51.4 214.2,52.3 214.2,53.2 214.2,54.1 214.2,55.1 214.2,56.0 214.2,56.9 214.2,57.8 214.2,58.7 214.2,59.7 214.2,60.6 214.2,61.5 214.2,62.4 214.2,63.3 214.2,64.3 214.2,65.2 214.2,66.1 214.2,67.0 214.2,67.9 214.2,68.8 214.2,69.8 213.7,70.7 213.5,71.6 213.5,72.5 213.5,73.4 213.5,74.4 213.5,75.3 213.5,76.2 213.5,77.1 213.5,78.0 213.5,79.0 213.5,79.9 213.5,80.8 213.4,81.7 213.3,82.6 213.2,83.6 213.1,84.5 213.1,85.4 213.0,86.3 212.9,87.2 212.9,88.2 212.8,89.1 212.8,90.0 212.8,90.9 212.8,91.8 212.8,92.7 212.8,93.7 212.7,94.6 212.6,95.5 212.4,96.4 212.1,97.3 211.7,98.3 211.2,99.2 210.7,100.1 210.3,101.0 209.9,101.9 209.7,102.9 209.7,103.8 209.9,104.7 210.3,105.6 210.9,106.5 211.5,107.5 212.1,108.4 212.6,109.3 213.1,110.2 213.5,111.1 213.5,112.1 213.9,113.0 214.2,113.9 214.2,114.8 214.2,115.7 214.2,116.6 214.2,117.6 214.2,118.5 214.2,119.4 214.2,120.3 214.2,121.2 214.2,122.2 214.2,123.1 214.2,124.0 214.2,124.0 214.2,123.1 214.2,122.2 214.2,121.2 214.2,120.3 214.2,119.4 214.2,118.5 214.2,117.6 214.2,116.6 214.2,115.7 214.2,114.8 214.2,113.9 214.2,113.0 214.2,112.1 214.2,111.1 214.2,110.2 214.2,109.3 214.2,108.4 214.2,107.5 214.2,106.5 214.2,105.6 214.2,104.7 214.2,103.8 214.2,102.9 214.2,101.9 214.2,101.0 214.2,100.1 214.2,99.2 214.2,98.3 214.2,97.3 214.2,96.4 214.2,95.5 214.2,94.6 214.2,93.7 214.2,92.7 214.2,91.8 214.2,90.9 214.2,90.0 214.2,89.1 214.2,88.2 214.2,87.2 214.2,86.3 214.2,85.4 214.2,84.5 214.2,83.6 214.2,82.6 214.2,81.7 214.2,80.8 214.2,79.9 214.2,79.0 214.2,78.0 214.2,77.1 214.2,76.2 214.2,75.3 214.2,74.4 214.2,73.4 214.2,72.5 214.2,71.6 214.2,70.7 214.2,69.8 214.2,68.8 214.2,67.9 214.2,67.0 214.2,66.1 214.2,65.2 214.2,64.3 214.2,63.3 214.2,62.4 214.2,61.5 214.2,60.6 214.2,59.7 214.2,58.7 214.2,57.8 214.2,56.9 214.2,56.0 214.2,55.1 214.2,54.1 214.2,53.2 214.2,52.3 214.2,51.4 214.2,50.5 214.2,49.5 214.2,48.6 214.2,47.7 214.2,46.8 214.2,45.9 214.2,44.9 214.2,44.0 214.2,43.1 214.2,42.2 214.2,41.3 214.2,40.4 214.2,39.4 214.2,38.5 214.2,37.6 214.2,36.7 214.2,35.8 214.2,34.8 214.2,33.9 214.2,33.0Z" fill="#d0103a"/>
<path d="M214.2,33.0 213.9,33.9 213.7,34.8 213.7,35.8 213.7,36.7 213.7,37.6 213.7,38.5 213.7,39.4 213.7,40.4 213.7,41.3 213.7,42.2 213.7,43.1 213.7,44.0 213.7,44.9 213.7,45.9 213.7,46.8 213.7,47.7 213.7,48.6 213.7,49.5 213.7,50.5 213.7,51.4 213.7,52.3 213.7,53.2 213.7,54.1 213.7,55.1 213.7,56.0 213.7,56.9 213.7,57.8 213.7,58.7 213.7,59.7 213.7,60.6 213.7,61.5 213.7,62.4 213.7,63.3 213.7,64.3 213.7,65.2 213.7,66.1 213.7,67.0 213.7,67.9 213.7,68.8 213.7,69.8 213.7,70.7 213.5,71.6 213.5,72.5 213.6,73.4 213.6,74.4 213.6,75.3 213.6,76.2 213.6,77.1 213.6,78.0 213.6,79.0 213.6,79.9 213.6,80.8 213.6,81.7 213.6,82.6 213.6,83.6 213.6,84.5 213.6,85.4 213.6,86.3 213.6,87.2 213.6,88.2 213.6,89.1 213.6,90.0 213.6,90.9 213.6,91.8 213.6,92.7 213.6,93.7 213.6,94.6 213.6,95.5 213.6,96.4 213.6,97.3 213.6,98.3 213.6,99.2 213.6,100.1 213.6,101.0 213.6,101.9 213.6,102.9 213.6,103.8 213.6,104.7 213.6,105.6 213.6,106.5 213.6,107.5 213.6,108.4 213.6,109.3 213.6,110.2 213.6,111.1 213.6,112.1 213.7,113.0 213.7,113.9 213.7,114.8 213.7,115.7 213.7,116.6 213.7,117.6 213.7,118.5 213.7,119.4 213.7,120.3 213.7,121.2 213.7,122.2 213.9,123.1 214.2,124.0 214.2,124.0 214.6,123.1 214.7,122.2 214.7,121.2 214.7,120.3 214.7,119.4 214.7,118.5 214.7,117.6 214.7,116.6 214.7,115.7 214.7,114.8 214.7,113.9 214.7,113.0 214.8,112.1 214.8,111.1 214.8,110.2 214.8,109.3 214.8,108.4 214.8,107.5 214.8,106.5 214.8,105.6 214.8,104.7 214.8,103.8 214.8,102.9 214.8,101.9 214.8,101.0 214.8,100.1 214.8,99.2 214.8,98.3 214.8,97.3 214.8,96.4 214.8,95.5 214.8,94.6 214.8,93.7 214.8,92.7 214.8,91.8 214.8,90.9 214.8,90.0 214.8,89.1 214.8,88.2 214.8,87.2 214.8,86.3 214.8,85.4 214.8,84.5 214.8,83.6 214.8,82.6 214.8,81.7 214.8,80.8 214.9,79.9 214.9,79.0 214.9,78.0 214.9,77.1 214.9,76.2 214.9,75.3 214.9,74.4 214.9,73.4 214.9,72.5 214.9,71.6 214.7,70.7 214.7,69.8 214.7,68.8 214.7,67.9 214.7,67.0 214.7,66.1 214.7,65.2 214.7,64.3 214.7,63.3 214.7,62.4 214.7,61.5 214.7,60.6 214.7,59.7 214.7,58.7 214.7,57.8 214.7,56.9 214.7,56.0 214.7,55.1 214.7,54.1 214.7,53.2 214.7,52.3 214.7,51.4 214.7,50.5 214.7,49.5 214.7,48.6 214.7,47.7 214.7,46.8 214.7,45.9 214.7,44.9 214.7,44.0 214.7,43.1 214.7,42.2 214.7,41.3 214.7,40.4 214.7,39.4 214.7,38.5 214.7,37.6 214.7,36.7 214.7,35.8 214.7,34.8 214.6,33.9 214.2,33.0Z" fill="#241630"/>
<path d="M235.3,62.0 235.3,62.9 235.3,63.9 235.3,64.8 235.3,65.7 235.3,66.6 235.3,67.6 235.3,68.5 235.3,69.4 235.3,70.3 235.3,71.3 235.3,72.2 235.3,73.1 235.3,74.1 235.3,75.0 235.3,75.9 235.3,76.8 235.3,77.8 235.3,78.7 235.3,79.6 235.3,80.5 235.3,81.5 235.3,82.4 235.3,83.3 235.3,84.3 235.3,85.2 235.3,86.1 235.3,87.0 235.3,88.0 235.3,88.9 235.3,89.8 235.3,90.7 235.3,91.7 235.3,92.6 235.3,93.5 235.3,94.5 235.3,95.4 235.3,96.3 235.3,97.2 235.3,98.2 235.3,99.1 235.3,100.0 235.3,100.9 235.3,101.9 235.3,102.8 235.3,103.7 235.3,104.7 235.3,105.6 235.3,106.5 235.3,107.4 235.3,108.4 235.3,109.3 235.3,110.2 235.3,111.1 235.3,112.1 235.3,113.0 235.3,113.0 235.3,112.1 235.3,111.1 235.3,110.2 235.3,109.3 235.3,108.4 235.3,107.4 235.3,106.5 235.3,105.6 235.3,104.7 235.3,103.7 235.3,102.8 235.3,101.9 235.3,100.9 235.3,100.0 235.3,99.1 235.4,98.2 235.7,97.2 235.8,96.3 235.8,95.4 235.8,94.5 235.9,93.5 236.2,92.6 236.5,91.7 236.9,90.7 237.3,89.8 237.8,88.9 238.2,88.0 238.6,87.0 238.8,86.1 238.9,85.2 238.9,84.3 238.7,83.3 238.4,82.4 238.0,81.5 237.5,80.5 237.1,79.6 236.7,78.7 236.3,77.8 236.0,76.8 235.8,75.9 235.8,75.0 235.7,74.1 235.4,73.1 235.3,72.2 235.3,71.3 235.3,70.3 235.3,69.4 235.3,68.5 235.3,67.6 235.3,66.6 235.3,65.7 235.3,64.8 235.3,63.9 235.3,62.9 235.3,62.0Z" fill="#1b4f82"/>
<path d="M235.3,62.0 234.9,62.9 234.7,63.9 234.7,64.8 234.7,65.7 234.7,66.6 234.7,67.6 234.7,68.5 234.7,69.4 234.7,70.3 234.7,71.3 234.7,72.2 234.7,73.1 234.6,74.1 234.5,75.0 234.4,75.9 234.3,76.8 234.1,77.8 234.0,78.7 233.9,79.6 233.8,80.5 233.7,81.5 233.6,82.4 233.6,83.3 233.5,84.3 233.5,85.2 233.5,86.1 233.5,87.0 233.6,88.0 233.6,88.9 233.6,89.8 233.6,90.7 233.5,91.7 233.4,92.6 233.2,93.5 232.9,94.5 232.6,95.4 232.2,96.3 231.7,97.2 231.3,98.2 231.0,99.1 230.8,100.0 230.8,100.9 230.9,101.9 231.2,102.8 231.6,103.7 232.1,104.7 232.7,105.6 233.2,106.5 233.7,107.4 234.2,108.4 234.5,109.3 234.7,110.2 234.7,111.1 234.9,112.1 235.3,113.0 235.3,113.0 235.3,112.1 235.3,111.1 235.3,110.2 235.3,109.3 235.3,108.4 235.3,107.4 235.3,106.5 235.3,105.6 235.3,104.7 235.3,103.7 235.3,102.8 235.3,101.9 235.3,100.9 235.3,100.0 235.3,99.1 235.3,98.2 235.3,97.2 235.3,96.3 235.3,95.4 235.3,94.5 235.3,93.5 235.3,92.6 235.3,91.7 235.3,90.7 235.3,89.8 235.3,88.9 235.3,88.0 235.3,87.0 235.3,86.1 235.3,85.2 235.3,84.3 235.3,83.3 235.3,82.4 235.3,81.5 235.3,80.5 235.3,79.6 235.3,78.7 235.3,77.8 235.3,76.8 235.3,75.9 235.3,75.0 235.3,74.1 235.3,73.1 235.3,72.2 235.3,71.3 235.3,70.3 235.3,69.4 235.3,68.5 235.3,67.6 235.3,66.6 235.3,65.7 235.3,64.8 235.3,63.9 235.3,62.9 235.3,62.0Z" fill="#d0103a"/>
<path d="M235.3,62.0 234.9,62.9 234.8,63.9 234.8,64.8 234.8,65.7 234.8,66.6 234.8,67.6 234.8,68.5 234.8,69.4 234.8,70.3 234.8,71.3 234.8,72.2 234.8,73.1 234.8,74.1 234.8,75.0 234.8,75.9 234.6,76.8 234.4,77.8 234.4,78.7 234.4,79.6 234.4,80.5 234.4,81.5 234.4,82.4 234.4,83.3 234.4,84.3 234.4,85.2 234.4,86.1 234.4,87.0 234.4,88.0 234.4,88.9 234.4,89.8 234.4,90.7 234.4,91.7 234.5,92.6 234.7,93.5 234.8,94.5 234.8,95.4 234.8,96.3 234.8,97.2 234.8,98.2 234.8,99.1 234.8,100.0 234.8,100.9 234.8,101.9 234.8,102.8 234.8,103.7 234.8,104.7 234.8,105.6 234.8,106.5 234.8,107.4 234.8,108.4 234.8,109.3 234.8,110.2 234.8,111.1 234.9,112.1 235.3,113.0 235.3,113.0 235.7,112.1 235.8,111.1 235.8,110.2 235.8,109.3 235.8,108.4 235.8,107.4 235.8,106.5 235.8,105.6 235.8,104.7 235.8,103.7 235.8,102.8 235.8,101.9 235.8,100.9 235.8,100.0 235.8,99.1 235.8,98.2 235.8,97.2 235.8,96.3 235.8,95.4 235.8,94.5 235.9,93.5 236.2,92.6 236.2,91.7 236.2,90.7 236.2,89.8 236.2,88.9 236.2,88.0 236.2,87.0 236.2,86.1 236.2,85.2 236.2,84.3 236.2,83.3 236.2,82.4 236.2,81.5 236.2,80.5 236.2,79.6 236.2,78.7 236.2,77.8 236.0,76.8 235.8,75.9 235.8,75.0 235.8,74.1 235.8,73.1 235.8,72.2 235.8,71.3 235.8,70.3 235.8,69.4 235.8,68.5 235.8,67.6 235.8,66.6 235.8,65.7 235.8,64.8 235.8,63.9 235.7,62.9 235.3,62.0Z" fill="#241630"/>
<path d="M256.4,34.0 256.4,34.9 256.4,35.8 256.4,36.8 256.4,37.7 256.4,38.6 256.4,39.5 256.4,40.4 256.4,41.3 256.4,42.3 256.4,43.2 256.4,44.1 256.4,45.0 256.4,45.9 256.4,46.9 256.4,47.8 256.4,48.7 256.4,49.6 256.4,50.5 256.4,51.4 256.4,52.4 256.4,53.3 256.4,54.2 256.4,55.1 256.4,56.0 256.4,57.0 256.4,57.9 256.4,58.8 256.4,59.7 256.4,60.6 256.4,61.6 256.4,62.5 256.4,63.4 256.4,64.3 256.4,65.2 256.4,66.1 256.4,67.1 256.4,68.0 256.4,68.9 256.4,69.8 256.4,70.7 256.4,71.7 256.4,72.6 256.4,73.5 256.4,74.4 256.4,75.3 256.4,76.2 256.4,77.2 256.4,78.1 256.4,79.0 256.4,79.9 256.4,80.8 256.4,81.8 256.4,82.7 256.4,83.6 256.4,84.5 256.4,85.4 256.4,86.3 256.4,87.3 256.4,88.2 256.4,89.1 256.4,90.0 256.4,90.9 256.4,91.9 256.4,92.8 256.4,93.7 256.4,94.6 256.4,95.5 256.4,96.4 256.4,97.4 256.4,98.3 256.4,99.2 256.4,100.1 256.4,101.0 256.4,102.0 256.4,102.9 256.4,103.8 256.4,104.7 256.4,105.6 256.4,106.6 256.4,107.5 256.4,108.4 256.4,109.3 256.4,110.2 256.4,111.1 256.4,112.1 256.4,113.0 256.4,113.9 256.4,114.8 256.4,115.7 256.4,116.7 256.4,117.6 256.4,118.5 256.4,119.4 256.4,120.3 256.4,121.2 256.4,122.2 256.4,123.1 256.4,124.0 256.4,124.0 256.4,123.1 256.4,122.2 256.4,121.2 256.4,120.3 256.4,119.4 256.4,118.5 256.4,117.6 256.4,116.7 256.4,115.7 256.4,114.8 256.4,113.9 256.4,113.0 256.4,112.1 256.4,111.1 256.4,110.2 256.4,109.3 256.4,108.4 256.4,107.5 256.4,106.6 256.4,105.6 256.4,104.7 256.4,103.8 256.4,102.9 256.4,102.0 256.4,101.0 256.4,100.1 256.4,99.2 256.4,98.3 256.4,97.4 256.6,96.4 257.0,95.5 257.0,94.6 257.0,93.7 257.0,92.8 257.0,91.9 257.0,90.9 257.0,90.0 257.0,89.1 257.0,88.2 257.0,87.3 257.0,86.3 257.0,85.4 257.0,84.5 257.0,83.6 257.0,82.7 257.0,81.8 257.0,80.8 257.0,79.9 257.0,79.0 257.1,78.1 257.2,77.2 257.3,76.2 257.4,75.3 257.5,74.4 257.6,73.5 257.7,72.6 257.8,71.7 257.8,70.7 257.9,69.8 257.9,68.9 257.9,68.0 257.9,67.1 257.9,66.1 257.9,65.2 257.8,64.3 257.8,63.4 257.8,62.5 257.8,61.6 257.8,60.6 257.9,59.7 258.1,58.8 258.3,57.9 258.6,57.0 258.9,56.0 259.3,55.1 259.7,54.2 260.1,53.3 260.4,52.4 260.6,51.4 260.7,50.5 260.7,49.6 260.5,48.7 260.3,47.8 259.9,46.9 259.5,45.9 259.0,45.0 258.5,44.1 258.1,43.2 257.7,42.3 257.3,41.3 257.1,40.4 257.0,39.5 257.0,38.6 257.0,37.7 257.0,36.8 257.0,35.8 256.8,34.9 256.4,34.0Z" fill="#1b4f82"/>
<path d="M256.4,34.0 256.4,34.9 256.4,35.8 256.4,36.8 256.4,37.7 256.4,38.6 256.4,39.5 256.4,40.4 256.4,41.3 256.4,42.3 256.4,43.2 256.4,44.1 256.4,45.0 256.4,45.9 256.4,46.9 256.4,47.8 256.4,48.7 256.4,49.6 256.4,50.5 256.4,51.4 256.4,52.4 256.4,53.3 256.4,54.2 256.4,55.1 256.4,56.0 256.4,57.0 256.4,57.9 256.4,58.8 256.4,59.7 256.4,60.6 256.4,61.6 256.4,62.5 256.4,63.4 256.4,64.3 256.4,65.2 256.4,66.1 256.4,67.1 256.4,68.0 256.4,68.9 256.4,69.8 256.4,70.7 256.4,71.7 256.4,72.6 256.4,73.5 256.4,74.4 256.4,75.3 256.4,76.2 256.4,77.2 256.4,78.1 256.4,79.0 256.4,79.9 256.4,80.8 256.4,81.8 256.4,82.7 256.4,83.6 256.4,84.5 256.4,85.4 256.4,86.3 256.4,87.3 256.4,88.2 256.4,89.1 256.4,90.0 256.4,90.9 256.4,91.9 256.4,92.8 256.4,93.7 256.4,94.6 256.1,95.5 255.6,96.4 255.6,97.4 255.6,98.3 255.6,99.2 255.4,100.1 255.2,101.0 255.1,102.0 254.9,102.9 254.8,103.8 254.8,104.7 254.8,105.6 254.9,106.6 255.0,107.5 255.1,108.4 255.3,109.3 255.5,110.2 255.6,111.1 255.6,112.1 255.6,113.0 255.6,113.9 255.6,114.8 255.6,115.7 255.6,116.7 255.6,117.6 255.6,118.5 255.6,119.4 255.6,120.3 255.6,121.2 255.6,122.2 255.9,123.1 256.4,124.0 256.4,124.0 256.4,123.1 256.4,122.2 256.4,121.2 256.4,120.3 256.4,119.4 256.4,118.5 256.4,117.6 256.4,116.7 256.4,115.7 256.4,114.8 256.4,113.9 256.4,113.0 256.4,112.1 256.4,111.1 256.4,110.2 256.4,109.3 256.4,108.4 256.4,107.5 256.4,106.6 256.4,105.6 256.4,104.7 256.4,103.8 256.4,102.9 256.4,102.0 256.4,101.0 256.4,100.1 256.4,99.2 256.4,98.3 256.4,97.4 256.4,96.4 256.4,95.5 256.4,94.6 256.4,93.7 256.4,92.8 256.4,91.9 256.4,90.9 256.4,90.0 256.4,89.1 256.4,88.2 256.4,87.3 256.4,86.3 256.4,85.4 256.4,84.5 256.4,83.6 256.4,82.7 256.4,81.8 256.4,80.8 256.4,79.9 256.4,79.0 256.4,78.1 256.4,77.2 256.4,76.2 256.4,75.3 256.4,74.4 256.4,73.5 256.4,72.6 256.4,71.7 256.4,70.7 256.4,69.8 256.4,68.9 256.4,68.0 256.4,67.1 256.4,66.1 256.4,65.2 256.4,64.3 256.4,63.4 256.4,62.5 256.4,61.6 256.4,60.6 256.4,59.7 256.4,58.8 256.4,57.9 256.4,57.0 256.4,56.0 256.4,55.1 256.4,54.2 256.4,53.3 256.4,52.4 256.4,51.4 256.4,50.5 256.4,49.6 256.4,48.7 256.4,47.8 256.4,46.9 256.4,45.9 256.4,45.0 256.4,44.1 256.4,43.2 256.4,42.3 256.4,41.3 256.4,40.4 256.4,39.5 256.4,38.6 256.4,37.7 256.4,36.8 256.4,35.8 256.4,34.9 256.4,34.0Z" fill="#d0103a"/>
<path d="M256.4,34.0 256.0,34.9 255.9,35.8 255.9,36.8 255.9,37.7 255.9,38.6 255.9,39.5 255.9,40.4 255.9,41.3 255.9,42.3 255.9,43.2 255.9,44.1 255.9,45.0 255.9,45.9 255.9,46.9 255.9,47.8 255.9,48.7 255.9,49.6 255.9,50.5 255.9,51.4 255.9,52.4 255.9,53.3 255.9,54.2 255.9,55.1 255.9,56.0 255.9,57.0 255.9,57.9 255.9,58.8 255.9,59.7 255.9,60.6 255.9,61.6 255.9,62.5 255.9,63.4 255.9,64.3 255.9,65.2 255.9,66.1 255.9,67.1 255.9,68.0 255.9,68.9 255.9,69.8 255.9,70.7 255.9,71.7 255.9,72.6 255.9,73.5 255.9,74.4 255.9,75.3 255.9,76.2 255.9,77.2 255.9,78.1 255.9,79.0 255.9,79.9 255.9,80.8 255.9,81.8 255.9,82.7 255.9,83.6 255.9,84.5 255.9,85.4 255.9,86.3 255.9,87.3 255.9,88.2 255.9,89.1 255.9,90.0 255.9,90.9 255.9,91.9 255.9,92.8 255.9,93.7 255.9,94.6 255.9,95.5 255.9,96.4 255.9,97.4 255.9,98.3 255.9,99.2 255.9,100.1 255.9,101.0 255.9,102.0 255.9,102.9 255.9,103.8 255.9,104.7 255.9,105.6 255.9,106.6 255.9,107.5 255.9,108.4 255.9,109.3 255.9,110.2 255.9,111.1 255.9,112.1 255.9,113.0 255.9,113.9 255.9,114.8 255.9,115.7 255.9,116.7 255.9,117.6 255.9,118.5 255.9,119.4 255.9,120.3 255.9,121.2 255.9,122.2 255.9,123.1 256.4,124.0 256.4,124.0 256.9,123.1 256.9,122.2 256.9,121.2 256.9,120.3 256.9,119.4 256.9,118.5 256.9,117.6 256.9,116.7 256.9,115.7 256.9,114.8 256.9,113.9 256.9,113.0 256.9,112.1 256.9,111.1 256.9,110.2 256.9,109.3 256.9,108.4 256.9,107.5 256.9,106.6 256.9,105.6 256.9,104.7 256.9,103.8 256.9,102.9 256.9,102.0 256.9,101.0 256.9,100.1 256.9,99.2 256.9,98.3 256.9,97.4 256.9,96.4 256.9,95.5 256.9,94.6 256.9,93.7 256.9,92.8 256.9,91.9 256.9,90.9 256.9,90.0 256.9,89.1 256.9,88.2 256.9,87.3 256.9,86.3 256.9,85.4 256.9,84.5 256.9,83.6 256.9,82.7 256.9,81.8 256.9,80.8 256.9,79.9 256.9,79.0 256.9,78.1 256.9,77.2 256.9,76.2 256.9,75.3 256.9,74.4 256.9,73.5 256.9,72.6 256.9,71.7 256.9,70.7 256.9,69.8 256.9,68.9 256.9,68.0 256.9,67.1 256.9,66.1 256.9,65.2 256.9,64.3 256.9,63.4 256.9,62.5 256.9,61.6 256.9,60.6 256.9,59.7 256.9,58.8 256.9,57.9 256.9,57.0 256.9,56.0 256.9,55.1 256.9,54.2 256.9,53.3 256.9,52.4 256.9,51.4 256.9,50.5 256.9,49.6 256.9,48.7 256.9,47.8 256.9,46.9 256.9,45.9 256.9,45.0 256.9,44.1 256.9,43.2 256.9,42.3 256.9,41.3 256.9,40.4 256.9,39.5 256.9,38.6 256.9,37.7 256.9,36.8 256.9,35.8 256.8,34.9 256.4,34.0Z" fill="#241630"/>
<rect x="140.8" y="24.6" width="21.8" height="151" fill="none" stroke="#c8323f" stroke-width="1.1"/>
<text x="150.8" y="206" font-size="7" fill="#222" text-anchor="middle" font-weight="bold" textLength="26" lengthAdjust="spacingAndGlyphs">Metabolite</text>
<rect x="91" y="211.2" width="6.1" height="5.8" fill="#c8102e"/>
<text x="99.9" y="216.2" font-size="5.7" fill="#333" text-anchor="start" textLength="47" lengthAdjust="spacingAndGlyphs">RECIPIENT_AGVHD</text>
<rect x="150.1" y="211.2" width="6.1" height="5.8" fill="#1b4f82"/>
<text x="158.8" y="216.2" font-size="5.7" fill="#333" text-anchor="start" textLength="52" lengthAdjust="spacingAndGlyphs">RECIPIENT_NOGVHD</text>
</g>
<g id="panelB">
<text x="283.2" y="15.8" font-size="10.8" fill="#000" text-anchor="start" font-weight="bold" stroke="#000" stroke-width="0.4">B</text>
<text x="425.2" y="19.5" font-size="7.6" fill="#222" text-anchor="middle" textLength="130.7" lengthAdjust="spacingAndGlyphs">AhR-ligands in patient blood samples</text>
<defs><linearGradient id="vgrad" x1="0" y1="1" x2="0" y2="0">
<stop offset="0.00" stop-color="#440154"/>
<stop offset="0.10" stop-color="#482475"/>
<stop offset="0.20" stop-color="#414487"/>
<stop offset="0.30" stop-color="#355f8d"/>
<stop offset="0.40" stop-color="#2a788e"/>
<stop offset="0.50" stop-color="#21918c"/>
<stop offset="0.60" stop-color="#22a884"/>
<stop offset="0.70" stop-color="#44bf70"/>
<stop offset="0.80" stop-color="#7ad151"/>
<stop offset="0.90" stop-color="#bddf26"/>
<stop offset="1.00" stop-color="#fde725"/>
</linearGradient></defs>
<rect x="294" y="35.6" width="11" height="41.4" fill="url(#vgrad)"/>
<line x1="305" y1="76.5" x2="307.5" y2="76.5" stroke="#333" stroke-width="0.7"/>
<text x="310.5" y="78.5" font-size="5.6" fill="#333" text-anchor="start">0.00</text>
<line x1="305" y1="66.4" x2="307.5" y2="66.4" stroke="#333" stroke-width="0.7"/>
<text x="310.5" y="68.4" font-size="5.6" fill="#333" text-anchor="start">0.25</text>
<line x1="305" y1="56.3" x2="307.5" y2="56.3" stroke="#333" stroke-width="0.7"/>
<text x="310.5" y="58.3" font-size="5.6" fill="#333" text-anchor="start">0.50</text>
<line x1="305" y1="46.2" x2="307.5" y2="46.2" stroke="#333" stroke-width="0.7"/>
<text x="310.5" y="48.2" font-size="5.6" fill="#333" text-anchor="start">0.75</text>
<line x1="305" y1="36.1" x2="307.5" y2="36.1" stroke="#333" stroke-width="0.7"/>
<text x="310.5" y="38.1" font-size="5.6" fill="#333" text-anchor="start">1.00</text>
<rect x="350.60" y="50.20" width="15.62" height="3.51" fill="#471365"/>
<rect x="365.22" y="50.20" width="15.62" height="3.51" fill="#471365"/>
<rect x="379.84" y="50.20" width="15.62" height="3.51" fill="#471365"/>
<rect x="394.46" y="50.20" width="15.62" height="3.51" fill="#471365"/>
<rect x="409.08" y="50.20" width="15.62" height="3.51" fill="#471365"/>
<rect x="423.70" y="50.20" width="15.62" height="3.51" fill="#471365"/>
<rect x="438.32" y="50.20" width="15.62" height="3.51" fill="#460b5e"/>
<rect x="452.94" y="50.20" width="15.62" height="3.51" fill="#471365"/>
<rect x="467.56" y="50.20" width="15.62" height="3.51" fill="#471365"/>
<rect x="482.18" y="50.20" width="15.62" height="3.51" fill="#472a7a"/>
<rect x="496.80" y="50.20" width="14.62" height="3.51" fill="#471365"/>
<rect x="350.60" y="52.71" width="15.62" height="3.51" fill="#471365"/>
<rect x="365.22" y="52.71" width="15.62" height="3.51" fill="#471365"/>
<rect x="379.84" y="52.71" width="15.62" height="3.51" fill="#471365"/>
<rect x="394.46" y="52.71" width="15.62" height="3.51" fill="#471365"/>
<rect x="409.08" y="52.71" width="15.62" height="3.51" fill="#472a7a"/>
<rect x="423.70" y="52.71" width="15.62" height="3.51" fill="#471365"/>
<rect x="438.32" y="52.71" width="15.62" height="3.51" fill="#460b5e"/>
<rect x="452.94" y="52.71" width="15.62" height="3.51" fill="#471365"/>
<rect x="467.56" y="52.71" width="15.62" height="3.51" fill="#471365"/>
<rect x="482.18" y="52.71" width="15.62" height="3.51" fill="#472a7a"/>
<rect x="496.80" y="52.71" width="14.62" height="3.51" fill="#471365"/>
<rect x="350.60" y="55.22" width="15.62" height="3.51" fill="#471365"/>
<rect x="365.22" y="55.22" width="15.62" height="3.51" fill="#471365"/>
<rect x="379.84" y="55.22" width="15.62" height="3.51" fill="#22a884"/>
<rect x="394.46" y="55.22" width="15.62" height="3.51" fill="#471365"/>
<rect x="409.08" y="55.22" width="15.62" height="3.51" fill="#482475"/>
<rect x="423.70" y="55.22" width="15.62" height="3.51" fill="#463480"/>
<rect x="438.32" y="55.22" width="15.62" height="3.51" fill="#460b5e"/>
<rect x="452.94" y="55.22" width="15.62" height="3.51" fill="#471365"/>
<rect x="467.56" y="55.22" width="15.62" height="3.51" fill="#414487"/>
<rect x="482.18" y="55.22" width="15.62" height="3.51" fill="#3b528b"/>
<rect x="496.80" y="55.22" width="14.62" height="3.51" fill="#471365"/>
<rect x="350.60" y="57.73" width="15.62" height="3.51" fill="#2f6c8e"/>
<rect x="365.22" y="57.73" width="15.62" height="3.51" fill="#2f6c8e"/>
<rect x="379.84" y="57.73" width="15.62" height="3.51" fill="#471365"/>
<rect x="394.46" y="57.73" width="15.62" height="3.51" fill="#2f6c8e"/>
<rect x="409.08" y="57.73" width="15.62" height="3.51" fill="#2f6c8e"/>
<rect x="423.70" y="57.73" width="15.62" height="3.51" fill="#463480"/>
<rect x="438.32" y="57.73" width="15.62" height="3.51" fill="#460b5e"/>
<rect x="452.94" y="57.73" width="15.62" height="3.51" fill="#471365"/>
<rect x="467.56" y="57.73" width="15.62" height="3.51" fill="#463480"/>
<rect x="482.18" y="57.73" width="15.62" height="3.51" fill="#3b528b"/>
<rect x="496.80" y="57.73" width="14.62" height="3.51" fill="#471365"/>
<rect x="350.60" y="60.24" width="15.62" height="3.51" fill="#471365"/>
<rect x="365.22" y="60.24" width="15.62" height="3.51" fill="#471365"/>
<rect x="379.84" y="60.24" width="15.62" height="3.51" fill="#471365"/>
<rect x="394.46" y="60.24" width="15.62" height="3.51" fill="#355f8d"/>
<rect x="409.08" y="60.24" width="15.62" height="3.51" fill="#463480"/>
<rect x="423.70" y="60.24" width="15.62" height="3.51" fill="#471365"/>
<rect x="438.32" y="60.24" width="15.62" height="3.51" fill="#460b5e"/>
<rect x="452.94" y="60.24" width="15.62" height="3.51" fill="#471365"/>
<rect x="467.56" y="60.24" width="15.62" height="3.51" fill="#471365"/>
<rect x="482.18" y="60.24" width="15.62" height="3.51" fill="#3b528b"/>
<rect x="496.80" y="60.24" width="14.62" height="3.51" fill="#471365"/>
<rect x="350.60" y="62.75" width="15.62" height="3.51" fill="#46085c"/>
<rect x="365.22" y="62.75" width="15.62" height="3.51" fill="#46085c"/>
<rect x="379.84" y="62.75" width="15.62" height="3.51" fill="#46085c"/>
<rect x="394.46" y="62.75" width="15.62" height="3.51" fill="#471365"/>
<rect x="409.08" y="62.75" width="15.62" height="3.51" fill="#46085c"/>
<rect x="423.70" y="62.75" width="15.62" height="3.51" fill="#471365"/>
<rect x="438.32" y="62.75" width="15.62" height="3.51" fill="#460b5e"/>
<rect x="452.94" y="62.75" width="15.62" height="3.51" fill="#471365"/>
<rect x="467.56" y="62.75" width="15.62" height="3.51" fill="#471365"/>
<rect x="482.18" y="62.75" width="15.62" height="3.51" fill="#414487"/>
<rect x="496.80" y="62.75" width="14.62" height="3.51" fill="#471365"/>
<rect x="350.60" y="65.26" width="15.62" height="3.51" fill="#46085c"/>
<rect x="365.22" y="65.26" width="15.62" height="3.51" fill="#46085c"/>
<rect x="379.84" y="65.26" width="15.62" height="3.51" fill="#46085c"/>
<rect x="394.46" y="65.26" width="15.62" height="3.51" fill="#46085c"/>
<rect x="409.08" y="65.26" width="15.62" height="3.51" fill="#46085c"/>
<rect x="423.70" y="65.26" width="15.62" height="3.51" fill="#471365"/>
<rect x="438.32" y="65.26" width="15.62" height="3.51" fill="#460b5e"/>
<rect x="452.94" y="65.26" width="15.62" height="3.51" fill="#471365"/>
<rect x="467.56" y="65.26" width="15.62" height="3.51" fill="#471365"/>
<rect x="482.18" y="65.26" width="15.62" height="3.51" fill="#472a7a"/>
<rect x="496.80" y="65.26" width="14.62" height="3.51" fill="#471365"/>
<rect x="350.60" y="67.77" width="15.62" height="3.51" fill="#46085c"/>
<rect x="365.22" y="67.77" width="15.62" height="3.51" fill="#46085c"/>
<rect x="379.84" y="67.77" width="15.62" height="3.51" fill="#1e9c89"/>
<rect x="394.46" y="67.77" width="15.62" height="3.51" fill="#21918c"/>
<rect x="409.08" y="67.77" width="15.62" height="3.51" fill="#5ec962"/>
<rect x="423.70" y="67.77" width="15.62" height="3.51" fill="#414487"/>
<rect x="438.32" y="67.77" width="15.62" height="3.51" fill="#460b5e"/>
<rect x="452.94" y="67.77" width="15.62" height="3.51" fill="#414487"/>
<rect x="467.56" y="67.77" width="15.62" height="3.51" fill="#463480"/>
<rect x="482.18" y="67.77" width="15.62" height="3.51" fill="#414487"/>
<rect x="496.80" y="67.77" width="14.62" height="3.51" fill="#414487"/>
<rect x="350.60" y="70.28" width="15.62" height="3.51" fill="#471365"/>
<rect x="365.22" y="70.28" width="15.62" height="3.51" fill="#472a7a"/>
<rect x="379.84" y="70.28" width="15.62" height="3.51" fill="#471365"/>
<rect x="394.46" y="70.28" width="15.62" height="3.51" fill="#471365"/>
<rect x="409.08" y="70.28" width="15.62" height="3.51" fill="#471365"/>
<rect x="423.70" y="70.28" width="15.62" height="3.51" fill="#471365"/>
<rect x="438.32" y="70.28" width="15.62" height="3.51" fill="#460b5e"/>
<rect x="452.94" y="70.28" width="15.62" height="3.51" fill="#471365"/>
<rect x="467.56" y="70.28" width="15.62" height="3.51" fill="#471365"/>
<rect x="482.18" y="70.28" width="15.62" height="3.51" fill="#472a7a"/>
<rect x="496.80" y="70.28" width="14.62" height="3.51" fill="#471365"/>
<rect x="350.60" y="72.79" width="15.62" height="3.51" fill="#471365"/>
<rect x="365.22" y="72.79" width="15.62" height="3.51" fill="#463480"/>
<rect x="379.84" y="72.79" width="15.62" height="3.51" fill="#471365"/>
<rect x="394.46" y="72.79" width="15.62" height="3.51" fill="#471365"/>
<rect x="409.08" y="72.79" width="15.62" height="3.51" fill="#471365"/>
<rect x="423.70" y="72.79" width="15.62" height="3.51" fill="#471365"/>
<rect x="438.32" y="72.79" width="15.62" height="3.51" fill="#460b5e"/>
<rect x="452.94" y="72.79" width="15.62" height="3.51" fill="#472a7a"/>
<rect x="467.56" y="72.79" width="15.62" height="3.51" fill="#471365"/>
<rect x="482.18" y="72.79" width="15.62" height="3.51" fill="#472a7a"/>
<rect x="496.80" y="72.79" width="14.62" height="3.51" fill="#471365"/>
<rect x="350.60" y="75.30" width="15.62" height="3.51" fill="#46085c"/>
<rect x="365.22" y="75.30" width="15.62" height="3.51" fill="#46085c"/>
<rect x="379.84" y="75.30" width="15.62" height="3.51" fill="#46085c"/>
<rect x="394.46" y="75.30" width="15.62" height="3.51" fill="#46085c"/>
<rect x="409.08" y="75.30" width="15.62" height="3.51" fill="#46085c"/>
<rect x="423.70" y="75.30" width="15.62" height="3.51" fill="#471365"/>
<rect x="438.32" y="75.30" width="15.62" height="3.51" fill="#460b5e"/>
<rect x="452.94" y="75.30" width="15.62" height="3.51" fill="#471365"/>
<rect x="467.56" y="75.30" width="15.62" height="3.51" fill="#471365"/>
<rect x="482.18" y="75.30" width="15.62" height="3.51" fill="#472a7a"/>
<rect x="496.80" y="75.30" width="14.62" height="3.51" fill="#471365"/>
<rect x="350.60" y="77.81" width="15.62" height="3.51" fill="#46085c"/>
<rect x="365.22" y="77.81" width="15.62" height="3.51" fill="#46085c"/>
<rect x="379.84" y="77.81" width="15.62" height="3.51" fill="#fde725"/>
<rect x="394.46" y="77.81" width="15.62" height="3.51" fill="#2f6c8e"/>
<rect x="409.08" y="77.81" width="15.62" height="3.51" fill="#21918c"/>
<rect x="423.70" y="77.81" width="15.62" height="3.51" fill="#355f8d"/>
<rect x="438.32" y="77.81" width="15.62" height="3.51" fill="#460b5e"/>
<rect x="452.94" y="77.81" width="15.62" height="3.51" fill="#fde725"/>
<rect x="467.56" y="77.81" width="15.62" height="3.51" fill="#3b528b"/>
<rect x="482.18" y="77.81" width="15.62" height="3.51" fill="#2f6c8e"/>
<rect x="496.80" y="77.81" width="14.62" height="3.51" fill="#44bf70"/>
<rect x="350.60" y="80.32" width="15.62" height="3.51" fill="#46085c"/>
<rect x="365.22" y="80.32" width="15.62" height="3.51" fill="#46085c"/>
<rect x="379.84" y="80.32" width="15.62" height="3.51" fill="#471365"/>
<rect x="394.46" y="80.32" width="15.62" height="3.51" fill="#471365"/>
<rect x="409.08" y="80.32" width="15.62" height="3.51" fill="#471365"/>
<rect x="423.70" y="80.32" width="15.62" height="3.51" fill="#471365"/>
<rect x="438.32" y="80.32" width="15.62" height="3.51" fill="#460b5e"/>
<rect x="452.94" y="80.32" width="15.62" height="3.51" fill="#471365"/>
<rect x="467.56" y="80.32" width="15.62" height="3.51" fill="#471365"/>
<rect x="482.18" y="80.32" width="15.62" height="3.51" fill="#472a7a"/>
<rect x="496.80" y="80.32" width="14.62" height="3.51" fill="#471365"/>
<rect x="350.60" y="82.83" width="15.62" height="3.51" fill="#463480"/>
<rect x="365.22" y="82.83" width="15.62" height="3.51" fill="#414487"/>
<rect x="379.84" y="82.83" width="15.62" height="3.51" fill="#414487"/>
<rect x="394.46" y="82.83" width="15.62" height="3.51" fill="#414487"/>
<rect x="409.08" y="82.83" width="15.62" height="3.51" fill="#463480"/>
<rect x="423.70" y="82.83" width="15.62" height="3.51" fill="#414487"/>
<rect x="438.32" y="82.83" width="15.62" height="3.51" fill="#460b5e"/>
<rect x="452.94" y="82.83" width="15.62" height="3.51" fill="#463480"/>
<rect x="467.56" y="82.83" width="15.62" height="3.51" fill="#482475"/>
<rect x="482.18" y="82.83" width="15.62" height="3.51" fill="#414487"/>
<rect x="496.80" y="82.83" width="14.62" height="3.51" fill="#463480"/>
<rect x="350.60" y="85.34" width="15.62" height="3.51" fill="#471365"/>
<rect x="365.22" y="85.34" width="15.62" height="3.51" fill="#471365"/>
<rect x="379.84" y="85.34" width="15.62" height="3.51" fill="#471365"/>
<rect x="394.46" y="85.34" width="15.62" height="3.51" fill="#471365"/>
<rect x="409.08" y="85.34" width="15.62" height="3.51" fill="#471365"/>
<rect x="423.70" y="85.34" width="15.62" height="3.51" fill="#471365"/>
<rect x="438.32" y="85.34" width="15.62" height="3.51" fill="#460b5e"/>
<rect x="452.94" y="85.34" width="15.62" height="3.51" fill="#471365"/>
<rect x="467.56" y="85.34" width="15.62" height="3.51" fill="#471365"/>
<rect x="482.18" y="85.34" width="15.62" height="3.51" fill="#472a7a"/>
<rect x="496.80" y="85.34" width="14.62" height="3.51" fill="#471365"/>
<rect x="350.60" y="87.85" width="15.62" height="3.51" fill="#471365"/>
<rect x="365.22" y="87.85" width="15.62" height="3.51" fill="#471365"/>
<rect x="379.84" y="87.85" width="15.62" height="3.51" fill="#471365"/>
<rect x="394.46" y="87.85" width="15.62" height="3.51" fill="#355f8d"/>
<rect x="409.08" y="87.85" width="15.62" height="3.51" fill="#355f8d"/>
<rect x="423.70" y="87.85" width="15.62" height="3.51" fill="#463480"/>
<rect x="438.32" y="87.85" width="15.62" height="3.51" fill="#460b5e"/>
<rect x="452.94" y="87.85" width="15.62" height="3.51" fill="#463480"/>
<rect x="467.56" y="87.85" width="15.62" height="3.51" fill="#482475"/>
<rect x="482.18" y="87.85" width="15.62" height="3.51" fill="#3b528b"/>
<rect x="496.80" y="87.85" width="14.62" height="3.51" fill="#471365"/>
<rect x="350.60" y="90.36" width="15.62" height="3.51" fill="#463480"/>
<rect x="365.22" y="90.36" width="15.62" height="3.51" fill="#482475"/>
<rect x="379.84" y="90.36" width="15.62" height="3.51" fill="#463480"/>
<rect x="394.46" y="90.36" width="15.62" height="3.51" fill="#355f8d"/>
<rect x="409.08" y="90.36" width="15.62" height="3.51" fill="#463480"/>
<rect x="423.70" y="90.36" width="15.62" height="3.51" fill="#471365"/>
<rect x="438.32" y="90.36" width="15.62" height="3.51" fill="#460b5e"/>
<rect x="452.94" y="90.36" width="15.62" height="3.51" fill="#471365"/>
<rect x="467.56" y="90.36" width="15.62" height="3.51" fill="#471365"/>
<rect x="482.18" y="90.36" width="15.62" height="3.51" fill="#3b528b"/>
<rect x="496.80" y="90.36" width="14.62" height="3.51" fill="#471365"/>
<rect x="350.60" y="92.87" width="15.62" height="3.51" fill="#463480"/>
<rect x="365.22" y="92.87" width="15.62" height="3.51" fill="#463480"/>
<rect x="379.84" y="92.87" width="15.62" height="3.51" fill="#463480"/>
<rect x="394.46" y="92.87" width="15.62" height="3.51" fill="#355f8d"/>
<rect x="409.08" y="92.87" width="15.62" height="3.51" fill="#463480"/>
<rect x="423.70" y="92.87" width="15.62" height="3.51" fill="#3b528b"/>
<rect x="438.32" y="92.87" width="15.62" height="3.51" fill="#471365"/>
<rect x="452.94" y="92.87" width="15.62" height="3.51" fill="#471365"/>
<rect x="467.56" y="92.87" width="15.62" height="3.51" fill="#482475"/>
<rect x="482.18" y="92.87" width="15.62" height="3.51" fill="#463480"/>
<rect x="496.80" y="92.87" width="14.62" height="3.51" fill="#482475"/>
<rect x="350.60" y="95.38" width="15.62" height="3.51" fill="#2f6c8e"/>
<rect x="365.22" y="95.38" width="15.62" height="3.51" fill="#2f6c8e"/>
<rect x="379.84" y="95.38" width="15.62" height="3.51" fill="#2f6c8e"/>
<rect x="394.46" y="95.38" width="15.62" height="3.51" fill="#463480"/>
<rect x="409.08" y="95.38" width="15.62" height="3.51" fill="#355f8d"/>
<rect x="423.70" y="95.38" width="15.62" height="3.51" fill="#463480"/>
<rect x="438.32" y="95.38" width="15.62" height="3.51" fill="#471365"/>
<rect x="452.94" y="95.38" width="15.62" height="3.51" fill="#414487"/>
<rect x="467.56" y="95.38" width="15.62" height="3.51" fill="#482475"/>
<rect x="482.18" y="95.38" width="15.62" height="3.51" fill="#25848e"/>
<rect x="496.80" y="95.38" width="14.62" height="3.51" fill="#1e9c89"/>
<rect x="350.60" y="97.89" width="15.62" height="3.51" fill="#471365"/>
<rect x="365.22" y="97.89" width="15.62" height="3.51" fill="#471365"/>
<rect x="379.84" y="97.89" width="15.62" height="3.51" fill="#471365"/>
<rect x="394.46" y="97.89" width="15.62" height="3.51" fill="#2a788e"/>
<rect x="409.08" y="97.89" width="15.62" height="3.51" fill="#471365"/>
<rect x="423.70" y="97.89" width="15.62" height="3.51" fill="#471365"/>
<rect x="438.32" y="97.89" width="15.62" height="3.51" fill="#471365"/>
<rect x="452.94" y="97.89" width="15.62" height="3.51" fill="#471365"/>
<rect x="467.56" y="97.89" width="15.62" height="3.51" fill="#fde725"/>
<rect x="482.18" y="97.89" width="15.62" height="3.51" fill="#2a788e"/>
<rect x="496.80" y="97.89" width="14.62" height="3.51" fill="#471365"/>
<rect x="350.60" y="100.40" width="15.62" height="3.51" fill="#482475"/>
<rect x="365.22" y="100.40" width="15.62" height="3.51" fill="#482475"/>
<rect x="379.84" y="100.40" width="15.62" height="3.51" fill="#482475"/>
<rect x="394.46" y="100.40" width="15.62" height="3.51" fill="#21918c"/>
<rect x="409.08" y="100.40" width="15.62" height="3.51" fill="#bddf26"/>
<rect x="423.70" y="100.40" width="15.62" height="3.51" fill="#463480"/>
<rect x="438.32" y="100.40" width="15.62" height="3.51" fill="#471365"/>
<rect x="452.94" y="100.40" width="15.62" height="3.51" fill="#471365"/>
<rect x="467.56" y="100.40" width="15.62" height="3.51" fill="#463480"/>
<rect x="482.18" y="100.40" width="15.62" height="3.51" fill="#471365"/>
<rect x="496.80" y="100.40" width="14.62" height="3.51" fill="#471365"/>
<rect x="350.60" y="102.91" width="15.62" height="3.51" fill="#25848e"/>
<rect x="365.22" y="102.91" width="15.62" height="3.51" fill="#25848e"/>
<rect x="379.84" y="102.91" width="15.62" height="3.51" fill="#25848e"/>
<rect x="394.46" y="102.91" width="15.62" height="3.51" fill="#2f6c8e"/>
<rect x="409.08" y="102.91" width="15.62" height="3.51" fill="#2f6c8e"/>
<rect x="423.70" y="102.91" width="15.62" height="3.51" fill="#463480"/>
<rect x="438.32" y="102.91" width="15.62" height="3.51" fill="#471365"/>
<rect x="452.94" y="102.91" width="15.62" height="3.51" fill="#471365"/>
<rect x="467.56" y="102.91" width="15.62" height="3.51" fill="#414487"/>
<rect x="482.18" y="102.91" width="15.62" height="3.51" fill="#355f8d"/>
<rect x="496.80" y="102.91" width="14.62" height="3.51" fill="#2f6c8e"/>
<rect x="350.60" y="105.42" width="15.62" height="3.51" fill="#21918c"/>
<rect x="365.22" y="105.42" width="15.62" height="3.51" fill="#21918c"/>
<rect x="379.84" y="105.42" width="15.62" height="3.51" fill="#2a788e"/>
<rect x="394.46" y="105.42" width="15.62" height="3.51" fill="#355f8d"/>
<rect x="409.08" y="105.42" width="15.62" height="3.51" fill="#2a788e"/>
<rect x="423.70" y="105.42" width="15.62" height="3.51" fill="#471365"/>
<rect x="438.32" y="105.42" width="15.62" height="3.51" fill="#471365"/>
<rect x="452.94" y="105.42" width="15.62" height="3.51" fill="#3b528b"/>
<rect x="467.56" y="105.42" width="15.62" height="3.51" fill="#482475"/>
<rect x="482.18" y="105.42" width="15.62" height="3.51" fill="#471365"/>
<rect x="496.80" y="105.42" width="14.62" height="3.51" fill="#471365"/>
<rect x="350.60" y="107.93" width="15.62" height="3.51" fill="#21918c"/>
<rect x="365.22" y="107.93" width="15.62" height="3.51" fill="#21918c"/>
<rect x="379.84" y="107.93" width="15.62" height="3.51" fill="#25848e"/>
<rect x="394.46" y="107.93" width="15.62" height="3.51" fill="#2f6c8e"/>
<rect x="409.08" y="107.93" width="15.62" height="3.51" fill="#2f6c8e"/>
<rect x="423.70" y="107.93" width="15.62" height="3.51" fill="#482475"/>
<rect x="438.32" y="107.93" width="15.62" height="3.51" fill="#25848e"/>
<rect x="452.94" y="107.93" width="15.62" height="3.51" fill="#9bd93c"/>
<rect x="467.56" y="107.93" width="15.62" height="3.51" fill="#355f8d"/>
<rect x="482.18" y="107.93" width="15.62" height="3.51" fill="#2fb47c"/>
<rect x="496.80" y="107.93" width="14.62" height="3.51" fill="#fde725"/>
<rect x="350.60" y="110.44" width="15.62" height="3.51" fill="#2a788e"/>
<rect x="365.22" y="110.44" width="15.62" height="3.51" fill="#2a788e"/>
<rect x="379.84" y="110.44" width="15.62" height="3.51" fill="#1e9c89"/>
<rect x="394.46" y="110.44" width="15.62" height="3.51" fill="#355f8d"/>
<rect x="409.08" y="110.44" width="15.62" height="3.51" fill="#25848e"/>
<rect x="423.70" y="110.44" width="15.62" height="3.51" fill="#471365"/>
<rect x="438.32" y="110.44" width="15.62" height="3.51" fill="#463480"/>
<rect x="452.94" y="110.44" width="15.62" height="3.51" fill="#355f8d"/>
<rect x="467.56" y="110.44" width="15.62" height="3.51" fill="#414487"/>
<rect x="482.18" y="110.44" width="15.62" height="3.51" fill="#471365"/>
<rect x="496.80" y="110.44" width="14.62" height="3.51" fill="#482475"/>
<rect x="350.60" y="112.95" width="15.62" height="3.51" fill="#25848e"/>
<rect x="365.22" y="112.95" width="15.62" height="3.51" fill="#25848e"/>
<rect x="379.84" y="112.95" width="15.62" height="3.51" fill="#22a884"/>
<rect x="394.46" y="112.95" width="15.62" height="3.51" fill="#1e9c89"/>
<rect x="409.08" y="112.95" width="15.62" height="3.51" fill="#2fb47c"/>
<rect x="423.70" y="112.95" width="15.62" height="3.51" fill="#355f8d"/>
<rect x="438.32" y="112.95" width="15.62" height="3.51" fill="#471365"/>
<rect x="452.94" y="112.95" width="15.62" height="3.51" fill="#463480"/>
<rect x="467.56" y="112.95" width="15.62" height="3.51" fill="#463480"/>
<rect x="482.18" y="112.95" width="15.62" height="3.51" fill="#25848e"/>
<rect x="496.80" y="112.95" width="14.62" height="3.51" fill="#355f8d"/>
<rect x="350.60" y="115.46" width="15.62" height="3.51" fill="#1e9c89"/>
<rect x="365.22" y="115.46" width="15.62" height="3.51" fill="#1e9c89"/>
<rect x="379.84" y="115.46" width="15.62" height="3.51" fill="#2f6c8e"/>
<rect x="394.46" y="115.46" width="15.62" height="3.51" fill="#355f8d"/>
<rect x="409.08" y="115.46" width="15.62" height="3.51" fill="#471365"/>
<rect x="423.70" y="115.46" width="15.62" height="3.51" fill="#414487"/>
<rect x="438.32" y="115.46" width="15.62" height="3.51" fill="#472a7a"/>
<rect x="452.94" y="115.46" width="15.62" height="3.51" fill="#471365"/>
<rect x="467.56" y="115.46" width="15.62" height="3.51" fill="#471365"/>
<rect x="482.18" y="115.46" width="15.62" height="3.51" fill="#471365"/>
<rect x="496.80" y="115.46" width="14.62" height="3.51" fill="#471365"/>
<rect x="350.60" y="117.97" width="15.62" height="3.51" fill="#25848e"/>
<rect x="365.22" y="117.97" width="15.62" height="3.51" fill="#25848e"/>
<rect x="379.84" y="117.97" width="15.62" height="3.51" fill="#471365"/>
<rect x="394.46" y="117.97" width="15.62" height="3.51" fill="#355f8d"/>
<rect x="409.08" y="117.97" width="15.62" height="3.51" fill="#355f8d"/>
<rect x="423.70" y="117.97" width="15.62" height="3.51" fill="#3b528b"/>
<rect x="438.32" y="117.97" width="15.62" height="3.51" fill="#463480"/>
<rect x="452.94" y="117.97" width="15.62" height="3.51" fill="#3b528b"/>
<rect x="467.56" y="117.97" width="15.62" height="3.51" fill="#471365"/>
<rect x="482.18" y="117.97" width="15.62" height="3.51" fill="#3b528b"/>
<rect x="496.80" y="117.97" width="14.62" height="3.51" fill="#414487"/>
<rect x="350.60" y="120.48" width="15.62" height="3.51" fill="#21918c"/>
<rect x="365.22" y="120.48" width="15.62" height="3.51" fill="#21918c"/>
<rect x="379.84" y="120.48" width="15.62" height="3.51" fill="#471365"/>
<rect x="394.46" y="120.48" width="15.62" height="3.51" fill="#2f6c8e"/>
<rect x="409.08" y="120.48" width="15.62" height="3.51" fill="#3b528b"/>
<rect x="423.70" y="120.48" width="15.62" height="3.51" fill="#482475"/>
<rect x="438.32" y="120.48" width="15.62" height="3.51" fill="#2a788e"/>
<rect x="452.94" y="120.48" width="15.62" height="3.51" fill="#355f8d"/>
<rect x="467.56" y="120.48" width="15.62" height="3.51" fill="#471365"/>
<rect x="482.18" y="120.48" width="15.62" height="3.51" fill="#414487"/>
<rect x="496.80" y="120.48" width="14.62" height="3.51" fill="#471365"/>
<rect x="350.60" y="122.99" width="15.62" height="3.51" fill="#9bd93c"/>
<rect x="365.22" y="122.99" width="15.62" height="3.51" fill="#9bd93c"/>
<rect x="379.84" y="122.99" width="15.62" height="3.51" fill="#471365"/>
<rect x="394.46" y="122.99" width="15.62" height="3.51" fill="#355f8d"/>
<rect x="409.08" y="122.99" width="15.62" height="3.51" fill="#414487"/>
<rect x="423.70" y="122.99" width="15.62" height="3.51" fill="#471365"/>
<rect x="438.32" y="122.99" width="15.62" height="3.51" fill="#463480"/>
<rect x="452.94" y="122.99" width="15.62" height="3.51" fill="#1e9c89"/>
<rect x="467.56" y="122.99" width="15.62" height="3.51" fill="#21918c"/>
<rect x="482.18" y="122.99" width="15.62" height="3.51" fill="#dfe318"/>
<rect x="496.80" y="122.99" width="14.62" height="3.51" fill="#5ec962"/>
<rect x="350.60" y="125.50" width="15.62" height="3.51" fill="#2f6c8e"/>
<rect x="365.22" y="125.50" width="15.62" height="3.51" fill="#2f6c8e"/>
<rect x="379.84" y="125.50" width="15.62" height="3.51" fill="#2f6c8e"/>
<rect x="394.46" y="125.50" width="15.62" height="3.51" fill="#21918c"/>
<rect x="409.08" y="125.50" width="15.62" height="3.51" fill="#2a788e"/>
<rect x="423.70" y="125.50" width="15.62" height="3.51" fill="#471365"/>
<rect x="438.32" y="125.50" width="15.62" height="3.51" fill="#471365"/>
<rect x="452.94" y="125.50" width="15.62" height="3.51" fill="#1e9c89"/>
<rect x="467.56" y="125.50" width="15.62" height="3.51" fill="#21918c"/>
<rect x="482.18" y="125.50" width="15.62" height="3.51" fill="#355f8d"/>
<rect x="496.80" y="125.50" width="14.62" height="3.51" fill="#44bf70"/>
<rect x="350.60" y="128.01" width="15.62" height="3.51" fill="#46085c"/>
<rect x="365.22" y="128.01" width="15.62" height="3.51" fill="#46085c"/>
<rect x="379.84" y="128.01" width="15.62" height="3.51" fill="#46085c"/>
<rect x="394.46" y="128.01" width="15.62" height="3.51" fill="#1e9c89"/>
<rect x="409.08" y="128.01" width="15.62" height="3.51" fill="#dfe318"/>
<rect x="423.70" y="128.01" width="15.62" height="3.51" fill="#482475"/>
<rect x="438.32" y="128.01" width="15.62" height="3.51" fill="#471365"/>
<rect x="452.94" y="128.01" width="15.62" height="3.51" fill="#471365"/>
<rect x="467.56" y="128.01" width="15.62" height="3.51" fill="#463480"/>
<rect x="482.18" y="128.01" width="15.62" height="3.51" fill="#355f8d"/>
<rect x="496.80" y="128.01" width="14.62" height="3.51" fill="#463480"/>
<rect x="350.60" y="130.52" width="15.62" height="3.51" fill="#21918c"/>
<rect x="365.22" y="130.52" width="15.62" height="3.51" fill="#21918c"/>
<rect x="379.84" y="130.52" width="15.62" height="3.51" fill="#25848e"/>
<rect x="394.46" y="130.52" width="15.62" height="3.51" fill="#355f8d"/>
<rect x="409.08" y="130.52" width="15.62" height="3.51" fill="#355f8d"/>
<rect x="423.70" y="130.52" width="15.62" height="3.51" fill="#fde725"/>
<rect x="438.32" y="130.52" width="15.62" height="3.51" fill="#472a7a"/>
<rect x="452.94" y="130.52" width="15.62" height="3.51" fill="#472a7a"/>
<rect x="467.56" y="130.52" width="15.62" height="3.51" fill="#471365"/>
<rect x="482.18" y="130.52" width="15.62" height="3.51" fill="#463480"/>
<rect x="496.80" y="130.52" width="14.62" height="3.51" fill="#471365"/>
<rect x="350.60" y="133.03" width="15.62" height="3.51" fill="#1e9c89"/>
<rect x="365.22" y="133.03" width="15.62" height="3.51" fill="#2fb47c"/>
<rect x="379.84" y="133.03" width="15.62" height="3.51" fill="#21918c"/>
<rect x="394.46" y="133.03" width="15.62" height="3.51" fill="#2f6c8e"/>
<rect x="409.08" y="133.03" width="15.62" height="3.51" fill="#2a788e"/>
<rect x="423.70" y="133.03" width="15.62" height="3.51" fill="#471365"/>
<rect x="438.32" y="133.03" width="15.62" height="3.51" fill="#355f8d"/>
<rect x="452.94" y="133.03" width="15.62" height="3.51" fill="#21918c"/>
<rect x="467.56" y="133.03" width="15.62" height="3.51" fill="#355f8d"/>
<rect x="482.18" y="133.03" width="15.62" height="3.51" fill="#355f8d"/>
<rect x="496.80" y="133.03" width="14.62" height="3.51" fill="#414487"/>
<rect x="350.60" y="135.54" width="15.62" height="3.51" fill="#9bd93c"/>
<rect x="365.22" y="135.54" width="15.62" height="3.51" fill="#9bd93c"/>
<rect x="379.84" y="135.54" width="15.62" height="3.51" fill="#5ec962"/>
<rect x="394.46" y="135.54" width="15.62" height="3.51" fill="#355f8d"/>
<rect x="409.08" y="135.54" width="15.62" height="3.51" fill="#2a788e"/>
<rect x="423.70" y="135.54" width="15.62" height="3.51" fill="#463480"/>
<rect x="438.32" y="135.54" width="15.62" height="3.51" fill="#1e9c89"/>
<rect x="452.94" y="135.54" width="15.62" height="3.51" fill="#25848e"/>
<rect x="467.56" y="135.54" width="15.62" height="3.51" fill="#414487"/>
<rect x="482.18" y="135.54" width="15.62" height="3.51" fill="#25848e"/>
<rect x="496.80" y="135.54" width="14.62" height="3.51" fill="#463480"/>
<rect x="350.60" y="138.05" width="15.62" height="3.51" fill="#2f6c8e"/>
<rect x="365.22" y="138.05" width="15.62" height="3.51" fill="#2f6c8e"/>
<rect x="379.84" y="138.05" width="15.62" height="3.51" fill="#471365"/>
<rect x="394.46" y="138.05" width="15.62" height="3.51" fill="#355f8d"/>
<rect x="409.08" y="138.05" width="15.62" height="3.51" fill="#463480"/>
<rect x="423.70" y="138.05" width="15.62" height="3.51" fill="#471365"/>
<rect x="438.32" y="138.05" width="15.62" height="3.51" fill="#463480"/>
<rect x="452.94" y="138.05" width="15.62" height="3.51" fill="#2f6c8e"/>
<rect x="467.56" y="138.05" width="15.62" height="3.51" fill="#463480"/>
<rect x="482.18" y="138.05" width="15.62" height="3.51" fill="#463480"/>
<rect x="496.80" y="138.05" width="14.62" height="3.51" fill="#482475"/>
<rect x="350.60" y="140.56" width="15.62" height="3.51" fill="#21918c"/>
<rect x="365.22" y="140.56" width="15.62" height="3.51" fill="#21918c"/>
<rect x="379.84" y="140.56" width="15.62" height="3.51" fill="#471365"/>
<rect x="394.46" y="140.56" width="15.62" height="3.51" fill="#414487"/>
<rect x="409.08" y="140.56" width="15.62" height="3.51" fill="#355f8d"/>
<rect x="423.70" y="140.56" width="15.62" height="3.51" fill="#482475"/>
<rect x="438.32" y="140.56" width="15.62" height="3.51" fill="#471365"/>
<rect x="452.94" y="140.56" width="15.62" height="3.51" fill="#355f8d"/>
<rect x="467.56" y="140.56" width="15.62" height="3.51" fill="#471365"/>
<rect x="482.18" y="140.56" width="15.62" height="3.51" fill="#3b528b"/>
<rect x="496.80" y="140.56" width="14.62" height="3.51" fill="#482475"/>
<rect x="350.60" y="143.07" width="15.62" height="3.51" fill="#21918c"/>
<rect x="365.22" y="143.07" width="15.62" height="3.51" fill="#21918c"/>
<rect x="379.84" y="143.07" width="15.62" height="3.51" fill="#25848e"/>
<rect x="394.46" y="143.07" width="15.62" height="3.51" fill="#355f8d"/>
<rect x="409.08" y="143.07" width="15.62" height="3.51" fill="#3b528b"/>
<rect x="423.70" y="143.07" width="15.62" height="3.51" fill="#471365"/>
<rect x="438.32" y="143.07" width="15.62" height="3.51" fill="#471365"/>
<rect x="452.94" y="143.07" width="15.62" height="3.51" fill="#463480"/>
<rect x="467.56" y="143.07" width="15.62" height="3.51" fill="#471365"/>
<rect x="482.18" y="143.07" width="15.62" height="3.51" fill="#355f8d"/>
<rect x="496.80" y="143.07" width="14.62" height="3.51" fill="#471365"/>
<rect x="350.60" y="145.58" width="15.62" height="3.51" fill="#46085c"/>
<rect x="365.22" y="145.58" width="15.62" height="3.51" fill="#46085c"/>
<rect x="379.84" y="145.58" width="15.62" height="3.51" fill="#21918c"/>
<rect x="394.46" y="145.58" width="15.62" height="3.51" fill="#414487"/>
<rect x="409.08" y="145.58" width="15.62" height="3.51" fill="#355f8d"/>
<rect x="423.70" y="145.58" width="15.62" height="3.51" fill="#463480"/>
<rect x="438.32" y="145.58" width="15.62" height="3.51" fill="#463480"/>
<rect x="452.94" y="145.58" width="15.62" height="3.51" fill="#463480"/>
<rect x="467.56" y="145.58" width="15.62" height="3.51" fill="#482475"/>
<rect x="482.18" y="145.58" width="15.62" height="3.51" fill="#355f8d"/>
<rect x="496.80" y="145.58" width="14.62" height="3.51" fill="#463480"/>
<rect x="350.60" y="148.09" width="15.62" height="3.51" fill="#2fb47c"/>
<rect x="365.22" y="148.09" width="15.62" height="3.51" fill="#2fb47c"/>
<rect x="379.84" y="148.09" width="15.62" height="3.51" fill="#2f6c8e"/>
<rect x="394.46" y="148.09" width="15.62" height="3.51" fill="#355f8d"/>
<rect x="409.08" y="148.09" width="15.62" height="3.51" fill="#355f8d"/>
<rect x="423.70" y="148.09" width="15.62" height="3.51" fill="#471365"/>
<rect x="438.32" y="148.09" width="15.62" height="3.51" fill="#471365"/>
<rect x="452.94" y="148.09" width="15.62" height="3.51" fill="#471365"/>
<rect x="467.56" y="148.09" width="15.62" height="3.51" fill="#414487"/>
<rect x="482.18" y="148.09" width="15.62" height="3.51" fill="#2a788e"/>
<rect x="496.80" y="148.09" width="14.62" height="3.51" fill="#414487"/>
<rect x="350.60" y="150.60" width="15.62" height="3.51" fill="#355f8d"/>
<rect x="365.22" y="150.60" width="15.62" height="3.51" fill="#355f8d"/>
<rect x="379.84" y="150.60" width="15.62" height="3.51" fill="#482475"/>
<rect x="394.46" y="150.60" width="15.62" height="3.51" fill="#355f8d"/>
<rect x="409.08" y="150.60" width="15.62" height="3.51" fill="#2a788e"/>
<rect x="423.70" y="150.60" width="15.62" height="3.51" fill="#463480"/>
<rect x="438.32" y="150.60" width="15.62" height="3.51" fill="#471365"/>
<rect x="452.94" y="150.60" width="15.62" height="3.51" fill="#482475"/>
<rect x="467.56" y="150.60" width="15.62" height="3.51" fill="#471365"/>
<rect x="482.18" y="150.60" width="15.62" height="3.51" fill="#463480"/>
<rect x="496.80" y="150.60" width="14.62" height="3.51" fill="#471365"/>
<rect x="350.60" y="153.11" width="15.62" height="3.51" fill="#7ad151"/>
<rect x="365.22" y="153.11" width="15.62" height="3.51" fill="#7ad151"/>
<rect x="379.84" y="153.11" width="15.62" height="3.51" fill="#471365"/>
<rect x="394.46" y="153.11" width="15.62" height="3.51" fill="#482475"/>
<rect x="409.08" y="153.11" width="15.62" height="3.51" fill="#2f6c8e"/>
<rect x="423.70" y="153.11" width="15.62" height="3.51" fill="#471365"/>
<rect x="438.32" y="153.11" width="15.62" height="3.51" fill="#482475"/>
<rect x="452.94" y="153.11" width="15.62" height="3.51" fill="#471365"/>
<rect x="467.56" y="153.11" width="15.62" height="3.51" fill="#471365"/>
<rect x="482.18" y="153.11" width="15.62" height="3.51" fill="#355f8d"/>
<rect x="496.80" y="153.11" width="14.62" height="3.51" fill="#471365"/>
<rect x="350.60" y="155.62" width="15.62" height="3.51" fill="#471365"/>
<rect x="365.22" y="155.62" width="15.62" height="3.51" fill="#471365"/>
<rect x="379.84" y="155.62" width="15.62" height="3.51" fill="#482475"/>
<rect x="394.46" y="155.62" width="15.62" height="3.51" fill="#2f6c8e"/>
<rect x="409.08" y="155.62" width="15.62" height="3.51" fill="#355f8d"/>
<rect x="423.70" y="155.62" width="15.62" height="3.51" fill="#482475"/>
<rect x="438.32" y="155.62" width="15.62" height="3.51" fill="#471365"/>
<rect x="452.94" y="155.62" width="15.62" height="3.51" fill="#fde725"/>
<rect x="467.56" y="155.62" width="15.62" height="3.51" fill="#25848e"/>
<rect x="482.18" y="155.62" width="15.62" height="3.51" fill="#25848e"/>
<rect x="496.80" y="155.62" width="14.62" height="3.51" fill="#2a788e"/>
<rect x="350.60" y="158.13" width="15.62" height="3.51" fill="#482475"/>
<rect x="365.22" y="158.13" width="15.62" height="3.51" fill="#482475"/>
<rect x="379.84" y="158.13" width="15.62" height="3.51" fill="#46085c"/>
<rect x="394.46" y="158.13" width="15.62" height="3.51" fill="#3b528b"/>
<rect x="409.08" y="158.13" width="15.62" height="3.51" fill="#3b528b"/>
<rect x="423.70" y="158.13" width="15.62" height="3.51" fill="#482475"/>
<rect x="438.32" y="158.13" width="15.62" height="3.51" fill="#471365"/>
<rect x="452.94" y="158.13" width="15.62" height="3.51" fill="#471365"/>
<rect x="467.56" y="158.13" width="15.62" height="3.51" fill="#463480"/>
<rect x="482.18" y="158.13" width="15.62" height="3.51" fill="#355f8d"/>
<rect x="496.80" y="158.13" width="14.62" height="3.51" fill="#463480"/>
<rect x="350.60" y="160.64" width="15.62" height="3.51" fill="#2f6c8e"/>
<rect x="365.22" y="160.64" width="15.62" height="3.51" fill="#2f6c8e"/>
<rect x="379.84" y="160.64" width="15.62" height="3.51" fill="#1e9c89"/>
<rect x="394.46" y="160.64" width="15.62" height="3.51" fill="#355f8d"/>
<rect x="409.08" y="160.64" width="15.62" height="3.51" fill="#1e9c89"/>
<rect x="423.70" y="160.64" width="15.62" height="3.51" fill="#414487"/>
<rect x="438.32" y="160.64" width="15.62" height="3.51" fill="#463480"/>
<rect x="452.94" y="160.64" width="15.62" height="3.51" fill="#414487"/>
<rect x="467.56" y="160.64" width="15.62" height="3.51" fill="#3b528b"/>
<rect x="482.18" y="160.64" width="15.62" height="3.51" fill="#2a788e"/>
<rect x="496.80" y="160.64" width="14.62" height="3.51" fill="#482475"/>
<rect x="350.60" y="163.15" width="15.62" height="3.51" fill="#471365"/>
<rect x="365.22" y="163.15" width="15.62" height="3.51" fill="#471365"/>
<rect x="379.84" y="163.15" width="15.62" height="3.51" fill="#2f6c8e"/>
<rect x="394.46" y="163.15" width="15.62" height="3.51" fill="#fde725"/>
<rect x="409.08" y="163.15" width="15.62" height="3.51" fill="#355f8d"/>
<rect x="423.70" y="163.15" width="15.62" height="3.51" fill="#355f8d"/>
<rect x="438.32" y="163.15" width="15.62" height="3.51" fill="#dfe318"/>
<rect x="452.94" y="163.15" width="15.62" height="3.51" fill="#463480"/>
<rect x="467.56" y="163.15" width="15.62" height="3.51" fill="#482475"/>
<rect x="482.18" y="163.15" width="15.62" height="3.51" fill="#355f8d"/>
<rect x="496.80" y="163.15" width="14.62" height="3.51" fill="#482475"/>
<rect x="350.60" y="165.66" width="15.62" height="3.51" fill="#dfe318"/>
<rect x="365.22" y="165.66" width="15.62" height="3.51" fill="#dfe318"/>
<rect x="379.84" y="165.66" width="15.62" height="3.51" fill="#2f6c8e"/>
<rect x="394.46" y="165.66" width="15.62" height="3.51" fill="#355f8d"/>
<rect x="409.08" y="165.66" width="15.62" height="3.51" fill="#355f8d"/>
<rect x="423.70" y="165.66" width="15.62" height="3.51" fill="#463480"/>
<rect x="438.32" y="165.66" width="15.62" height="3.51" fill="#bddf26"/>
<rect x="452.94" y="165.66" width="15.62" height="3.51" fill="#7ad151"/>
<rect x="467.56" y="165.66" width="15.62" height="3.51" fill="#463480"/>
<rect x="482.18" y="165.66" width="15.62" height="3.51" fill="#355f8d"/>
<rect x="496.80" y="165.66" width="14.62" height="3.51" fill="#463480"/>
<rect x="350.60" y="168.17" width="15.62" height="3.51" fill="#cae11f"/>
<rect x="365.22" y="168.17" width="15.62" height="3.51" fill="#cae11f"/>
<rect x="379.84" y="168.17" width="15.62" height="3.51" fill="#25848e"/>
<rect x="394.46" y="168.17" width="15.62" height="3.51" fill="#355f8d"/>
<rect x="409.08" y="168.17" width="15.62" height="3.51" fill="#22a884"/>
<rect x="423.70" y="168.17" width="15.62" height="3.51" fill="#463480"/>
<rect x="438.32" y="168.17" width="15.62" height="3.51" fill="#471365"/>
<rect x="452.94" y="168.17" width="15.62" height="3.51" fill="#463480"/>
<rect x="467.56" y="168.17" width="15.62" height="3.51" fill="#25848e"/>
<rect x="482.18" y="168.17" width="15.62" height="3.51" fill="#dfe318"/>
<rect x="496.80" y="168.17" width="14.62" height="3.51" fill="#9bd93c"/>
<rect x="350.60" y="170.68" width="15.62" height="3.51" fill="#25848e"/>
<rect x="365.22" y="170.68" width="15.62" height="3.51" fill="#25848e"/>
<rect x="379.84" y="170.68" width="15.62" height="3.51" fill="#2f6c8e"/>
<rect x="394.46" y="170.68" width="15.62" height="3.51" fill="#463480"/>
<rect x="409.08" y="170.68" width="15.62" height="3.51" fill="#355f8d"/>
<rect x="423.70" y="170.68" width="15.62" height="3.51" fill="#355f8d"/>
<rect x="438.32" y="170.68" width="15.62" height="3.51" fill="#463480"/>
<rect x="452.94" y="170.68" width="15.62" height="3.51" fill="#22a884"/>
<rect x="467.56" y="170.68" width="15.62" height="3.51" fill="#471365"/>
<rect x="482.18" y="170.68" width="15.62" height="3.51" fill="#463480"/>
<rect x="496.80" y="170.68" width="14.62" height="3.51" fill="#471365"/>
<rect x="350.60" y="173.19" width="15.62" height="3.51" fill="#2a788e"/>
<rect x="365.22" y="173.19" width="15.62" height="3.51" fill="#2a788e"/>
<rect x="379.84" y="173.19" width="15.62" height="3.51" fill="#463480"/>
<rect x="394.46" y="173.19" width="15.62" height="3.51" fill="#355f8d"/>
<rect x="409.08" y="173.19" width="15.62" height="3.51" fill="#21918c"/>
<rect x="423.70" y="173.19" width="15.62" height="3.51" fill="#471365"/>
<rect x="438.32" y="173.19" width="15.62" height="3.51" fill="#355f8d"/>
<rect x="452.94" y="173.19" width="15.62" height="3.51" fill="#471365"/>
<rect x="467.56" y="173.19" width="15.62" height="3.51" fill="#414487"/>
<rect x="482.18" y="173.19" width="15.62" height="3.51" fill="#2a788e"/>
<rect x="496.80" y="173.19" width="14.62" height="3.51" fill="#463480"/>
<rect x="350.60" y="175.70" width="15.62" height="3.51" fill="#21918c"/>
<rect x="365.22" y="175.70" width="15.62" height="3.51" fill="#21918c"/>
<rect x="379.84" y="175.70" width="15.62" height="3.51" fill="#471365"/>
<rect x="394.46" y="175.70" width="15.62" height="3.51" fill="#463480"/>
<rect x="409.08" y="175.70" width="15.62" height="3.51" fill="#355f8d"/>
<rect x="423.70" y="175.70" width="15.62" height="3.51" fill="#472a7a"/>
<rect x="438.32" y="175.70" width="15.62" height="3.51" fill="#471365"/>
<rect x="452.94" y="175.70" width="15.62" height="3.51" fill="#463480"/>
<rect x="467.56" y="175.70" width="15.62" height="3.51" fill="#471365"/>
<rect x="482.18" y="175.70" width="15.62" height="3.51" fill="#482475"/>
<rect x="496.80" y="175.70" width="14.62" height="3.51" fill="#471365"/>
<rect x="350.60" y="178.21" width="15.62" height="2.51" fill="#5ec962"/>
<rect x="365.22" y="178.21" width="15.62" height="2.51" fill="#5ec962"/>
<rect x="379.84" y="178.21" width="15.62" height="2.51" fill="#482475"/>
<rect x="394.46" y="178.21" width="15.62" height="2.51" fill="#3b528b"/>
<rect x="409.08" y="178.21" width="15.62" height="2.51" fill="#414487"/>
<rect x="423.70" y="178.21" width="15.62" height="2.51" fill="#472a7a"/>
<rect x="438.32" y="178.21" width="15.62" height="2.51" fill="#414487"/>
<rect x="452.94" y="178.21" width="15.62" height="2.51" fill="#dfe318"/>
<rect x="467.56" y="178.21" width="15.62" height="2.51" fill="#355f8d"/>
<rect x="482.18" y="178.21" width="15.62" height="2.51" fill="#355f8d"/>
<rect x="496.80" y="178.21" width="14.62" height="2.51" fill="#482475"/>
<rect x="338" y="50.20" width="6.8" height="3.51" fill="#e4553f"/>
<rect x="343.8" y="50.20" width="6.8" height="3.51" fill="#ee7a60"/>
<rect x="338" y="52.71" width="6.8" height="3.51" fill="#e4553f"/>
<rect x="343.8" y="52.71" width="6.8" height="3.51" fill="#ee7a60"/>
<rect x="338" y="55.22" width="6.8" height="3.51" fill="#e4553f"/>
<rect x="343.8" y="55.22" width="6.8" height="3.51" fill="#ee7a60"/>
<rect x="338" y="57.73" width="6.8" height="3.51" fill="#e4553f"/>
<rect x="343.8" y="57.73" width="6.8" height="3.51" fill="#ee7a60"/>
<rect x="338" y="60.24" width="6.8" height="3.51" fill="#e4553f"/>
<rect x="343.8" y="60.24" width="6.8" height="3.51" fill="#ee7a60"/>
<rect x="338" y="62.75" width="6.8" height="3.51" fill="#e4553f"/>
<rect x="343.8" y="62.75" width="6.8" height="3.51" fill="#ee7a60"/>
<rect x="338" y="65.26" width="6.8" height="3.51" fill="#e4553f"/>
<rect x="343.8" y="65.26" width="6.8" height="3.51" fill="#ee7a60"/>
<rect x="338" y="67.77" width="6.8" height="3.51" fill="#e4553f"/>
<rect x="343.8" y="67.77" width="6.8" height="3.51" fill="#ee7a60"/>
<rect x="338" y="70.28" width="6.8" height="3.51" fill="#e4553f"/>
<rect x="343.8" y="70.28" width="6.8" height="3.51" fill="#ee7a60"/>
<rect x="338" y="72.79" width="6.8" height="3.51" fill="#e4553f"/>
<rect x="343.8" y="72.79" width="6.8" height="3.51" fill="#ee7a60"/>
<rect x="338" y="75.30" width="6.8" height="3.51" fill="#e4553f"/>
<rect x="343.8" y="75.30" width="6.8" height="3.51" fill="#ee7a60"/>
<rect x="338" y="77.81" width="6.8" height="3.51" fill="#e4553f"/>
<rect x="343.8" y="77.81" width="6.8" height="3.51" fill="#ee7a60"/>
<rect x="338" y="80.32" width="6.8" height="3.51" fill="#e4553f"/>
<rect x="343.8" y="80.32" width="6.8" height="3.51" fill="#ee7a60"/>
<rect x="338" y="82.83" width="6.8" height="3.51" fill="#e4553f"/>
<rect x="343.8" y="82.83" width="6.8" height="3.51" fill="#ee7a60"/>
<rect x="338" y="85.34" width="6.8" height="3.51" fill="#e4553f"/>
<rect x="343.8" y="85.34" width="6.8" height="3.51" fill="#ee7a60"/>
<rect x="338" y="87.85" width="6.8" height="3.51" fill="#e4553f"/>
<rect x="343.8" y="87.85" width="6.8" height="3.51" fill="#ee7a60"/>
<rect x="338" y="90.36" width="6.8" height="3.51" fill="#e4553f"/>
<rect x="343.8" y="90.36" width="6.8" height="3.51" fill="#f6b494"/>
<rect x="338" y="92.87" width="6.8" height="3.51" fill="#e4553f"/>
<rect x="343.8" y="92.87" width="6.8" height="3.51" fill="#f6b494"/>
<rect x="338" y="95.38" width="6.8" height="3.51" fill="#e4553f"/>
<rect x="343.8" y="95.38" width="6.8" height="3.51" fill="#ee7a60"/>
<rect x="338" y="97.89" width="6.8" height="3.51" fill="#e4553f"/>
<rect x="343.8" y="97.89" width="6.8" height="3.51" fill="#dde0f2"/>
<rect x="338" y="100.40" width="6.8" height="3.51" fill="#e4553f"/>
<rect x="343.8" y="100.40" width="6.8" height="3.51" fill="#dde0f2"/>
<rect x="338" y="102.91" width="6.8" height="3.51" fill="#6a78c9"/>
<rect x="343.8" y="102.91" width="6.8" height="3.51" fill="#7c8bdc"/>
<rect x="338" y="105.42" width="6.8" height="3.51" fill="#6a78c9"/>
<rect x="343.8" y="105.42" width="6.8" height="3.51" fill="#7c8bdc"/>
<rect x="338" y="107.93" width="6.8" height="3.51" fill="#6a78c9"/>
<rect x="343.8" y="107.93" width="6.8" height="3.51" fill="#7c8bdc"/>
<rect x="338" y="110.44" width="6.8" height="3.51" fill="#6a78c9"/>
<rect x="343.8" y="110.44" width="6.8" height="3.51" fill="#7c8bdc"/>
<rect x="338" y="112.95" width="6.8" height="3.51" fill="#6a78c9"/>
<rect x="343.8" y="112.95" width="6.8" height="3.51" fill="#7c8bdc"/>
<rect x="338" y="115.46" width="6.8" height="3.51" fill="#6a78c9"/>
<rect x="343.8" y="115.46" width="6.8" height="3.51" fill="#7c8bdc"/>
<rect x="338" y="117.97" width="6.8" height="3.51" fill="#6a78c9"/>
<rect x="343.8" y="117.97" width="6.8" height="3.51" fill="#7c8bdc"/>
<rect x="338" y="120.48" width="6.8" height="3.51" fill="#6a78c9"/>
<rect x="343.8" y="120.48" width="6.8" height="3.51" fill="#7c8bdc"/>
<rect x="338" y="122.99" width="6.8" height="3.51" fill="#6a78c9"/>
<rect x="343.8" y="122.99" width="6.8" height="3.51" fill="#7c8bdc"/>
<rect x="338" y="125.50" width="6.8" height="3.51" fill="#6a78c9"/>
<rect x="343.8" y="125.50" width="6.8" height="3.51" fill="#7c8bdc"/>
<rect x="338" y="128.01" width="6.8" height="3.51" fill="#6a78c9"/>
<rect x="343.8" y="128.01" width="6.8" height="3.51" fill="#7c8bdc"/>
<rect x="338" y="130.52" width="6.8" height="3.51" fill="#6a78c9"/>
<rect x="343.8" y="130.52" width="6.8" height="3.51" fill="#7c8bdc"/>
<rect x="338" y="133.03" width="6.8" height="3.51" fill="#6a78c9"/>
<rect x="343.8" y="133.03" width="6.8" height="3.51" fill="#7c8bdc"/>
<rect x="338" y="135.54" width="6.8" height="3.51" fill="#6a78c9"/>
<rect x="343.8" y="135.54" width="6.8" height="3.51" fill="#7c8bdc"/>
<rect x="338" y="138.05" width="6.8" height="3.51" fill="#6a78c9"/>
<rect x="343.8" y="138.05" width="6.8" height="3.51" fill="#7c8bdc"/>
<rect x="338" y="140.56" width="6.8" height="3.51" fill="#6a78c9"/>
<rect x="343.8" y="140.56" width="6.8" height="3.51" fill="#7c8bdc"/>
<rect x="338" y="143.07" width="6.8" height="3.51" fill="#6a78c9"/>
<rect x="343.8" y="143.07" width="6.8" height="3.51" fill="#7c8bdc"/>
<rect x="338" y="145.58" width="6.8" height="3.51" fill="#6a78c9"/>
<rect x="343.8" y="145.58" width="6.8" height="3.51" fill="#7c8bdc"/>
<rect x="338" y="148.09" width="6.8" height="3.51" fill="#6a78c9"/>
<rect x="343.8" y="148.09" width="6.8" height="3.51" fill="#7c8bdc"/>
<rect x="338" y="150.60" width="6.8" height="3.51" fill="#6a78c9"/>
<rect x="343.8" y="150.60" width="6.8" height="3.51" fill="#7c8bdc"/>
<rect x="338" y="153.11" width="6.8" height="3.51" fill="#6a78c9"/>
<rect x="343.8" y="153.11" width="6.8" height="3.51" fill="#7c8bdc"/>
<rect x="338" y="155.62" width="6.8" height="3.51" fill="#6a78c9"/>
<rect x="343.8" y="155.62" width="6.8" height="3.51" fill="#e6e8f6"/>
<rect x="338" y="158.13" width="6.8" height="3.51" fill="#6a78c9"/>
<rect x="343.8" y="158.13" width="6.8" height="3.51" fill="#7c8bdc"/>
<rect x="338" y="160.64" width="6.8" height="3.51" fill="#6a78c9"/>
<rect x="343.8" y="160.64" width="6.8" height="3.51" fill="#7c8bdc"/>
<rect x="338" y="163.15" width="6.8" height="3.51" fill="#6a78c9"/>
<rect x="343.8" y="163.15" width="6.8" height="3.51" fill="#7c8bdc"/>
<rect x="338" y="165.66" width="6.8" height="3.51" fill="#6a78c9"/>
<rect x="343.8" y="165.66" width="6.8" height="3.51" fill="#7c8bdc"/>
<rect x="338" y="168.17" width="6.8" height="3.51" fill="#6a78c9"/>
<rect x="343.8" y="168.17" width="6.8" height="3.51" fill="#7c8bdc"/>
<rect x="338" y="170.68" width="6.8" height="3.51" fill="#6a78c9"/>
<rect x="343.8" y="170.68" width="6.8" height="3.51" fill="#7c8bdc"/>
<rect x="338" y="173.19" width="6.8" height="3.51" fill="#6a78c9"/>
<rect x="343.8" y="173.19" width="6.8" height="3.51" fill="#7c8bdc"/>
<rect x="338" y="175.70" width="6.8" height="3.51" fill="#6a78c9"/>
<rect x="343.8" y="175.70" width="6.8" height="3.51" fill="#7c8bdc"/>
<rect x="338" y="178.21" width="6.8" height="2.51" fill="#6a78c9"/>
<rect x="343.8" y="178.21" width="6.8" height="2.51" fill="#7c8bdc"/>
<text x="334.6" y="73.5" font-size="6.2" fill="#e8806e" text-anchor="middle" textLength="21" lengthAdjust="spacingAndGlyphs" transform="rotate(-90 334.6 73.5)">aGVHD</text>
<text x="334.6" y="138.5" font-size="6.2" fill="#7b86c8" text-anchor="middle" textLength="28" lengthAdjust="spacingAndGlyphs" transform="rotate(-90 334.6 138.5)">No GVHD</text>
<path d="M357.9,50.2 L357.9,43.4 M372.5,50.2 L372.5,43.4 M357.9,43.4 L372.5,43.4 M401.8,50.2 L401.8,37.2 M416.4,50.2 L416.4,37.2 M401.8,37.2 L416.4,37.2 M387.2,50.2 L387.2,32.3 M409.1,37.2 L409.1,32.3 M387.2,32.3 L409.1,32.3 M431.0,50.2 L431.0,34.4 M445.6,50.2 L445.6,34.4 M431.0,34.4 L445.6,34.4 M489.5,50.2 L489.5,41.6 M504.1,50.2 L504.1,41.6 M489.5,41.6 L504.1,41.6 M474.9,50.2 L474.9,38.2 M496.8,41.6 L496.8,38.2 M474.9,38.2 L496.8,38.2 M460.2,50.2 L460.2,33.0 M485.8,38.2 L485.8,33.0 M460.2,33.0 L485.8,33.0 M438.3,34.4 L438.3,30.1 M473.0,33.0 L473.0,30.1 M438.3,30.1 L473.0,30.1 M398.1,32.3 L398.1,29.6 M455.7,30.1 L455.7,29.6 M398.1,29.6 L455.7,29.6 M365.2,43.4 L365.2,26.8 M426.9,29.6 L426.9,26.8 M365.2,26.8 L426.9,26.8" stroke="#333" stroke-width="0.9" fill="none"/>
<line x1="340.4" y1="180.8" x2="340.4" y2="184" stroke="#222" stroke-width="0.8"/>
<text x="341.7" y="187.6" font-size="6.2" fill="#2a2a2a" text-anchor="end" textLength="22.7" lengthAdjust="spacingAndGlyphs" transform="rotate(-90 341.7 187.6)">GROUP</text>
<line x1="347.0" y1="180.8" x2="347.0" y2="184" stroke="#222" stroke-width="0.8"/>
<text x="348.3" y="187.6" font-size="6.2" fill="#2a2a2a" text-anchor="end" textLength="54" lengthAdjust="spacingAndGlyphs" transform="rotate(-90 348.3 187.6)">aGVHD_gradingmax</text>
<line x1="357.9" y1="180.8" x2="357.9" y2="184" stroke="#222" stroke-width="0.8"/>
<text x="360.11" y="187.6" font-size="6.2" fill="#2a2a2a" text-anchor="end" textLength="59" lengthAdjust="spacingAndGlyphs" transform="rotate(-90 360.11 187.6)">6-hydroxyindole sulfate</text>
<line x1="372.5" y1="180.8" x2="372.5" y2="184" stroke="#222" stroke-width="0.8"/>
<text x="374.73" y="187.6" font-size="6.2" fill="#2a2a2a" text-anchor="end" textLength="41.5" lengthAdjust="spacingAndGlyphs" transform="rotate(-90 374.73 187.6)">3-indoxyl sulfate</text>
<line x1="387.2" y1="180.8" x2="387.2" y2="184" stroke="#222" stroke-width="0.8"/>
<text x="389.35" y="187.6" font-size="6.2" fill="#2a2a2a" text-anchor="end" textLength="61" lengthAdjust="spacingAndGlyphs" transform="rotate(-90 389.35 187.6)">indole-3-carboxylic acid</text>
<line x1="401.8" y1="180.8" x2="401.8" y2="184" stroke="#222" stroke-width="0.8"/>
<text x="403.97" y="187.6" font-size="6.2" fill="#2a2a2a" text-anchor="end" textLength="28.3" lengthAdjust="spacingAndGlyphs" transform="rotate(-90 403.97 187.6)">kynurenine</text>
<line x1="416.4" y1="180.8" x2="416.4" y2="184" stroke="#222" stroke-width="0.8"/>
<text x="418.59" y="187.6" font-size="6.2" fill="#2a2a2a" text-anchor="end" textLength="33.4" lengthAdjust="spacingAndGlyphs" transform="rotate(-90 418.59 187.6)">indolelactate</text>
<line x1="431.0" y1="180.8" x2="431.0" y2="184" stroke="#222" stroke-width="0.8"/>
<text x="433.21" y="187.6" font-size="6.2" fill="#2a2a2a" text-anchor="end" textLength="59.8" lengthAdjust="spacingAndGlyphs" transform="rotate(-90 433.21 187.6)">5-hydroxyindoleacetate</text>
<line x1="445.6" y1="180.8" x2="445.6" y2="184" stroke="#222" stroke-width="0.8"/>
<text x="447.83" y="187.6" font-size="6.2" fill="#2a2a2a" text-anchor="end" textLength="37" lengthAdjust="spacingAndGlyphs" transform="rotate(-90 447.83 187.6)">indolepropionate</text>
<line x1="460.2" y1="180.8" x2="460.2" y2="184" stroke="#222" stroke-width="0.8"/>
<text x="462.45" y="187.6" font-size="6.2" fill="#2a2a2a" text-anchor="end" textLength="26.6" lengthAdjust="spacingAndGlyphs" transform="rotate(-90 462.45 187.6)">xanthurate</text>
<line x1="474.9" y1="180.8" x2="474.9" y2="184" stroke="#222" stroke-width="0.8"/>
<text x="477.07" y="187.6" font-size="6.2" fill="#2a2a2a" text-anchor="end" textLength="60.5" lengthAdjust="spacingAndGlyphs" transform="rotate(-90 477.07 187.6)">methyl indole-3-acetate</text>
<line x1="489.5" y1="180.8" x2="489.5" y2="184" stroke="#222" stroke-width="0.8"/>
<text x="491.69" y="187.6" font-size="6.2" fill="#2a2a2a" text-anchor="end" textLength="34.6" lengthAdjust="spacingAndGlyphs" transform="rotate(-90 491.69 187.6)">indoleacetate</text>
<line x1="504.1" y1="180.8" x2="504.1" y2="184" stroke="#222" stroke-width="0.8"/>
<text x="506.31" y="187.6" font-size="6.2" fill="#2a2a2a" text-anchor="end" textLength="55.5" lengthAdjust="spacingAndGlyphs" transform="rotate(-90 506.31 187.6)">indoleacetylglutamine</text>
<rect x="480.9" y="47.3" width="17.2" height="183.9" fill="none" stroke="#c8102e" stroke-width="1.3"/>
</g>
<text x="11.6" y="233.2" font-size="10.8" fill="#000" text-anchor="start" font-weight="bold" stroke="#000" stroke-width="0.4">C</text>
<text x="89.4" y="235" font-size="7.6" fill="#222" text-anchor="middle" textLength="47" lengthAdjust="spacingAndGlyphs">indoleacetate</text>
<path d="M41.8,249.3 L136.9,267.2 L136.9,277.5 L41.8,253.8 Z" fill="#d6d6d6"/>
<circle cx="41.8" cy="241.8" r="1.35" fill="#8e0a1c" stroke="#d21a30" stroke-width="0.5"/>
<circle cx="41.8" cy="248.9" r="1.35" fill="#8e0a1c" stroke="#d21a30" stroke-width="0.5"/>
<circle cx="41.8" cy="250.3" r="1.35" fill="#8e0a1c" stroke="#d21a30" stroke-width="0.5"/>
<circle cx="41.8" cy="251.3" r="1.35" fill="#8e0a1c" stroke="#d21a30" stroke-width="0.5"/>
<circle cx="41.8" cy="252.4" r="1.35" fill="#8e0a1c" stroke="#d21a30" stroke-width="0.5"/>
<circle cx="41.8" cy="253.4" r="1.35" fill="#8e0a1c" stroke="#d21a30" stroke-width="0.5"/>
<circle cx="41.8" cy="254.5" r="1.35" fill="#8e0a1c" stroke="#d21a30" stroke-width="0.5"/>
<circle cx="41.8" cy="255.9" r="1.35" fill="#8e0a1c" stroke="#d21a30" stroke-width="0.5"/>
<circle cx="41.8" cy="258.7" r="1.35" fill="#8e0a1c" stroke="#d21a30" stroke-width="0.5"/>
<circle cx="73.5" cy="255.2" r="1.35" fill="#8e0a1c" stroke="#d21a30" stroke-width="0.5"/>
<circle cx="73.5" cy="258.7" r="1.35" fill="#8e0a1c" stroke="#d21a30" stroke-width="0.5"/>
<circle cx="73.5" cy="260.8" r="1.35" fill="#8e0a1c" stroke="#d21a30" stroke-width="0.5"/>
<circle cx="73.5" cy="262.9" r="1.35" fill="#8e0a1c" stroke="#d21a30" stroke-width="0.5"/>
<circle cx="73.5" cy="267.2" r="1.35" fill="#8e0a1c" stroke="#d21a30" stroke-width="0.5"/>
<circle cx="105.2" cy="258.0" r="1.35" fill="#8e0a1c" stroke="#d21a30" stroke-width="0.5"/>
<circle cx="105.2" cy="263.7" r="1.35" fill="#8e0a1c" stroke="#d21a30" stroke-width="0.5"/>
<circle cx="105.2" cy="265.1" r="1.35" fill="#8e0a1c" stroke="#d21a30" stroke-width="0.5"/>
<circle cx="136.9" cy="267.2" r="1.35" fill="#8e0a1c" stroke="#d21a30" stroke-width="0.5"/>
<line x1="41.8" y1="251.5" x2="136.9" y2="268.5" stroke="#222" stroke-width="1"/>
<path d="M36.5,240.3 L36.5,280.5 L141,280.5" fill="none" stroke="#222" stroke-width="1"/>
<line x1="33.5" y1="241.8" x2="36.5" y2="241.8" stroke="#222" stroke-width="0.8"/>
<text x="31.8" y="243.9" font-size="6" fill="#333" text-anchor="end">16</text>
<line x1="33.5" y1="255.9" x2="36.5" y2="255.9" stroke="#222" stroke-width="0.8"/>
<text x="31.8" y="258.0" font-size="6" fill="#333" text-anchor="end">14</text>
<line x1="33.5" y1="270.0" x2="36.5" y2="270.0" stroke="#222" stroke-width="0.8"/>
<text x="31.8" y="272.1" font-size="6" fill="#333" text-anchor="end">12</text>
<line x1="41.8" y1="280.5" x2="41.8" y2="283.5" stroke="#222" stroke-width="0.8"/>
<text x="41.8" y="292.3" font-size="6" fill="#333" text-anchor="middle">1</text>
<line x1="73.5" y1="280.5" x2="73.5" y2="283.5" stroke="#222" stroke-width="0.8"/>
<text x="73.5" y="292.3" font-size="6" fill="#333" text-anchor="middle">2</text>
<line x1="105.2" y1="280.5" x2="105.2" y2="283.5" stroke="#222" stroke-width="0.8"/>
<text x="105.2" y="292.3" font-size="6" fill="#333" text-anchor="middle">3</text>
<line x1="136.9" y1="280.5" x2="136.9" y2="283.5" stroke="#222" stroke-width="0.8"/>
<text x="136.9" y="292.3" font-size="6" fill="#333" text-anchor="middle">4</text>
<text x="19.6" y="259.3" font-size="7.2" fill="#222" text-anchor="middle" font-weight="bold" textLength="44.4" lengthAdjust="spacingAndGlyphs" transform="rotate(-90 19.6 259.3)">Log concentration</text>
<text x="89.35" y="303.2" font-size="7" fill="#222" text-anchor="middle" font-weight="bold" textLength="50" lengthAdjust="spacingAndGlyphs">aGVHD grading max</text>
<rect x="95.4" y="239.7" width="44.6" height="12.6" fill="#fff" stroke="#222" stroke-width="0.8"/>
<text x="97.4" y="244.9" font-size="4.8" fill="#333" text-anchor="start" textLength="39.6" lengthAdjust="spacingAndGlyphs">Correlation: −0.48</text>
<text x="97.4" y="250.0" font-size="4.8" fill="#333"><tspan font-style="italic">P</tspan>-value: .0314</text>
<text x="147.8" y="233.2" font-size="10.8" fill="#000" text-anchor="start" font-weight="bold" stroke="#000" stroke-width="0.4">D</text>
<text x="225.2" y="235" font-size="7.6" fill="#222" text-anchor="middle" textLength="81" lengthAdjust="spacingAndGlyphs">methyl indole-3-acetate</text>
<path d="M177.7,249.5 L272.7,267.5 L272.7,277.0 L177.7,253.5 Z" fill="#d6d6d6"/>
<circle cx="177.7" cy="242.2" r="1.35" fill="#8e0a1c" stroke="#d21a30" stroke-width="0.5"/>
<circle cx="177.7" cy="246.5" r="1.35" fill="#8e0a1c" stroke="#d21a30" stroke-width="0.5"/>
<circle cx="177.7" cy="248.6" r="1.35" fill="#8e0a1c" stroke="#d21a30" stroke-width="0.5"/>
<circle cx="177.7" cy="250.2" r="1.35" fill="#8e0a1c" stroke="#d21a30" stroke-width="0.5"/>
<circle cx="177.7" cy="251.8" r="1.35" fill="#8e0a1c" stroke="#d21a30" stroke-width="0.5"/>
<circle cx="177.7" cy="253.4" r="1.35" fill="#8e0a1c" stroke="#d21a30" stroke-width="0.5"/>
<circle cx="177.7" cy="254.5" r="1.35" fill="#8e0a1c" stroke="#d21a30" stroke-width="0.5"/>
<circle cx="177.7" cy="256.1" r="1.35" fill="#8e0a1c" stroke="#d21a30" stroke-width="0.5"/>
<circle cx="209.4" cy="254.0" r="1.35" fill="#8e0a1c" stroke="#d21a30" stroke-width="0.5"/>
<circle cx="209.4" cy="257.2" r="1.35" fill="#8e0a1c" stroke="#d21a30" stroke-width="0.5"/>
<circle cx="209.4" cy="258.2" r="1.35" fill="#8e0a1c" stroke="#d21a30" stroke-width="0.5"/>
<circle cx="209.4" cy="262.5" r="1.35" fill="#8e0a1c" stroke="#d21a30" stroke-width="0.5"/>
<circle cx="241.1" cy="262.0" r="1.35" fill="#8e0a1c" stroke="#d21a30" stroke-width="0.5"/>
<circle cx="272.8" cy="262.0" r="1.35" fill="#8e0a1c" stroke="#d21a30" stroke-width="0.5"/>
<line x1="177.7" y1="250.8" x2="272.7" y2="268.9" stroke="#222" stroke-width="1"/>
<path d="M173.5,239.2 L173.5,280.5 L277.3,280.5" fill="none" stroke="#222" stroke-width="1"/>
<line x1="170.5" y1="243.8" x2="173.5" y2="243.8" stroke="#222" stroke-width="0.8"/>
<text x="168.0" y="245.9" font-size="6" fill="#333" text-anchor="end">14</text>
<line x1="170.5" y1="254.5" x2="173.5" y2="254.5" stroke="#222" stroke-width="0.8"/>
<text x="168.0" y="256.6" font-size="6" fill="#333" text-anchor="end">12</text>
<line x1="170.5" y1="265.2" x2="173.5" y2="265.2" stroke="#222" stroke-width="0.8"/>
<text x="168.0" y="267.3" font-size="6" fill="#333" text-anchor="end">10</text>
<line x1="170.5" y1="275.9" x2="173.5" y2="275.9" stroke="#222" stroke-width="0.8"/>
<text x="168.0" y="278.0" font-size="6" fill="#333" text-anchor="end">8</text>
<line x1="177.7" y1="280.5" x2="177.7" y2="283.5" stroke="#222" stroke-width="0.8"/>
<text x="177.7" y="292.3" font-size="6" fill="#333" text-anchor="middle">1</text>
<line x1="209.4" y1="280.5" x2="209.4" y2="283.5" stroke="#222" stroke-width="0.8"/>
<text x="209.4" y="292.3" font-size="6" fill="#333" text-anchor="middle">2</text>
<line x1="241.1" y1="280.5" x2="241.1" y2="283.5" stroke="#222" stroke-width="0.8"/>
<text x="241.1" y="292.3" font-size="6" fill="#333" text-anchor="middle">3</text>
<line x1="272.8" y1="280.5" x2="272.8" y2="283.5" stroke="#222" stroke-width="0.8"/>
<text x="272.8" y="292.3" font-size="6" fill="#333" text-anchor="middle">4</text>
<text x="154.6" y="259.9" font-size="7.2" fill="#222" text-anchor="middle" font-weight="bold" textLength="44.5" lengthAdjust="spacingAndGlyphs" transform="rotate(-90 154.6 259.9)">Log concentration</text>
<text x="225.25" y="303.2" font-size="7" fill="#222" text-anchor="middle" font-weight="bold" textLength="50" lengthAdjust="spacingAndGlyphs">aGVHD grading max</text>
<rect x="227.8" y="240.3" width="44.4" height="12.3" fill="#fff" stroke="#222" stroke-width="0.8"/>
<text x="229.8" y="245.5" font-size="4.8" fill="#333" text-anchor="start" textLength="39.4" lengthAdjust="spacingAndGlyphs">Correlation: −0.46</text>
<text x="229.8" y="250.6" font-size="4.8" fill="#333"><tspan font-style="italic">P</tspan>-value: .0394</text>
<defs><filter id="bl" x="-50%" y="-50%" width="200%" height="200%"><feGaussianBlur stdDeviation="0.55"/></filter><filter id="bl2" x="-50%" y="-50%" width="200%" height="200%"><feGaussianBlur stdDeviation="0.35"/></filter></defs>
<text x="15.3" y="322" font-size="10.8" fill="#000" text-anchor="start" font-weight="bold" stroke="#000" stroke-width="0.4">E</text>
<text x="70.1" y="324" font-size="6.8" fill="#cfd0d8" text-anchor="middle" textLength="42" lengthAdjust="spacingAndGlyphs">Control patients</text>
<text x="146.9" y="324" font-size="6.8" fill="#2f5b9a" text-anchor="middle" textLength="52" lengthAdjust="spacingAndGlyphs">Allo-HCT w/o GvHD</text>
<text x="225.8" y="324" font-size="6.8" fill="#d03a50" text-anchor="middle" textLength="55" lengthAdjust="spacingAndGlyphs">Allo-HCT with GvHD</text>
<rect x="31.0" y="327.3" width="76.2" height="55.2" fill="#0b0b0d"/>
<g filter="url(#bl)">
<circle cx="75.0" cy="338.6" r="0.72" fill="#a0b8d0" fill-opacity="0.37"/>
<circle cx="81.1" cy="339.7" r="0.72" fill="#b03050" fill-opacity="0.52"/>
<circle cx="89.9" cy="345.7" r="0.38" fill="#70a0c0" fill-opacity="0.36"/>
<circle cx="38.6" cy="369.1" r="0.43" fill="#e06070" fill-opacity="0.54"/>
<circle cx="49.7" cy="370.2" r="0.43" fill="#70a0c0" fill-opacity="0.43"/>
<circle cx="54.5" cy="334.2" r="0.62" fill="#a0b8d0" fill-opacity="0.42"/>
<circle cx="97.3" cy="349.2" r="0.44" fill="#70a0c0" fill-opacity="0.32"/>
<circle cx="87.1" cy="350.5" r="0.44" fill="#70a0c0" fill-opacity="0.33"/>
<circle cx="90.9" cy="348.0" r="0.35" fill="#e06070" fill-opacity="0.47"/>
<circle cx="43.3" cy="330.1" r="0.46" fill="#b03050" fill-opacity="0.62"/>
<circle cx="61.9" cy="380.8" r="0.71" fill="#e06070" fill-opacity="0.47"/>
<circle cx="44.3" cy="373.0" r="0.47" fill="#a0b8d0" fill-opacity="0.47"/>
<circle cx="83.1" cy="364.5" r="0.73" fill="#d04060" fill-opacity="0.37"/>
<circle cx="74.6" cy="356.6" r="0.69" fill="#70a0c0" fill-opacity="0.34"/>
<circle cx="84.2" cy="369.3" r="0.67" fill="#70a0c0" fill-opacity="0.34"/>
<circle cx="45.2" cy="370.3" r="0.53" fill="#a0b8d0" fill-opacity="0.47"/>
<circle cx="42.3" cy="379.0" r="0.49" fill="#e06070" fill-opacity="0.32"/>
<circle cx="72.6" cy="364.8" r="0.54" fill="#e06070" fill-opacity="0.36"/>
<circle cx="82.3" cy="345.7" r="0.72" fill="#e06070" fill-opacity="0.38"/>
<circle cx="47.1" cy="334.2" r="0.45" fill="#e06070" fill-opacity="0.38"/>
<circle cx="104.3" cy="337.6" r="0.60" fill="#d04060" fill-opacity="0.65"/>
<circle cx="66.0" cy="358.5" r="0.45" fill="#e06070" fill-opacity="0.38"/>
<circle cx="80.9" cy="357.6" r="0.48" fill="#a0b8d0" fill-opacity="0.25"/>
<circle cx="41.9" cy="346.6" r="0.71" fill="#e06070" fill-opacity="0.42"/>
<circle cx="36.0" cy="340.0" r="0.44" fill="#d04060" fill-opacity="0.58"/>
<circle cx="42.8" cy="334.7" r="0.53" fill="#d04060" fill-opacity="0.58"/>
<circle cx="82.1" cy="364.7" r="0.56" fill="#e06070" fill-opacity="0.49"/>
<circle cx="47.5" cy="352.6" r="0.48" fill="#a0b8d0" fill-opacity="0.42"/>
<circle cx="86.4" cy="341.1" r="0.43" fill="#70a0c0" fill-opacity="0.59"/>
<circle cx="87.6" cy="341.3" r="0.75" fill="#a0b8d0" fill-opacity="0.43"/>
<circle cx="64.5" cy="363.6" r="0.57" fill="#e06070" fill-opacity="0.36"/>
<circle cx="34.5" cy="376.0" r="0.72" fill="#a0b8d0" fill-opacity="0.26"/>
<circle cx="62.5" cy="352.3" r="0.66" fill="#e06070" fill-opacity="0.59"/>
<circle cx="68.1" cy="371.0" r="0.36" fill="#d04060" fill-opacity="0.65"/>
<circle cx="76.7" cy="334.7" r="0.74" fill="#d04060" fill-opacity="0.63"/>
<circle cx="57.1" cy="367.0" r="0.54" fill="#b03050" fill-opacity="0.69"/>
<circle cx="40.0" cy="328.6" r="0.44" fill="#e06070" fill-opacity="0.54"/>
<circle cx="39.1" cy="340.6" r="0.61" fill="#b03050" fill-opacity="0.41"/>
<circle cx="99.8" cy="369.8" r="0.53" fill="#b03050" fill-opacity="0.36"/>
<circle cx="46.0" cy="355.7" r="0.70" fill="#a0b8d0" fill-opacity="0.28"/>
<circle cx="71.0" cy="329.0" r="0.71" fill="#a0b8d0" fill-opacity="0.39"/>
<circle cx="67.6" cy="335.1" r="0.75" fill="#d04060" fill-opacity="0.51"/>
<circle cx="74.2" cy="374.6" r="0.59" fill="#a0b8d0" fill-opacity="0.50"/>
<circle cx="61.8" cy="335.4" r="0.40" fill="#d04060" fill-opacity="0.59"/>
<circle cx="36.6" cy="333.4" r="0.44" fill="#e06070" fill-opacity="0.52"/>
<circle cx="60.7" cy="357.9" r="0.67" fill="#b03050" fill-opacity="0.66"/>
<circle cx="84.4" cy="365.8" r="0.63" fill="#e06070" fill-opacity="0.37"/>
<circle cx="60.8" cy="341.1" r="0.43" fill="#b03050" fill-opacity="0.40"/>
<circle cx="44.2" cy="351.6" r="0.70" fill="#b03050" fill-opacity="0.62"/>
<circle cx="88.0" cy="338.4" r="0.44" fill="#d04060" fill-opacity="0.53"/>
<circle cx="34.5" cy="375.6" r="0.45" fill="#b03050" fill-opacity="0.64"/>
<circle cx="85.5" cy="378.6" r="0.50" fill="#a0b8d0" fill-opacity="0.45"/>
<circle cx="101.4" cy="361.0" r="0.69" fill="#e06070" fill-opacity="0.32"/>
<circle cx="81.7" cy="333.1" r="0.50" fill="#d04060" fill-opacity="0.65"/>
<circle cx="35.3" cy="378.5" r="0.49" fill="#d04060" fill-opacity="0.43"/>
<circle cx="60.1" cy="354.2" r="0.68" fill="#70a0c0" fill-opacity="0.58"/>
<circle cx="45.8" cy="364.7" r="0.46" fill="#70a0c0" fill-opacity="0.59"/>
<circle cx="85.9" cy="364.6" r="0.69" fill="#e06070" fill-opacity="0.34"/>
<circle cx="44.2" cy="363.5" r="0.72" fill="#e06070" fill-opacity="0.43"/>
<circle cx="95.6" cy="330.8" r="0.39" fill="#a0b8d0" fill-opacity="0.43"/>
<circle cx="87.7" cy="354.3" r="0.60" fill="#70a0c0" fill-opacity="0.49"/>
<circle cx="42.1" cy="378.3" r="0.66" fill="#b03050" fill-opacity="0.62"/>
<circle cx="87.0" cy="348.9" r="0.65" fill="#a0b8d0" fill-opacity="0.27"/>
<circle cx="72.1" cy="375.2" r="0.46" fill="#70a0c0" fill-opacity="0.40"/>
<circle cx="60.3" cy="368.7" r="0.66" fill="#a0b8d0" fill-opacity="0.47"/>
<circle cx="95.1" cy="366.2" r="0.66" fill="#a0b8d0" fill-opacity="0.35"/>
<circle cx="63.0" cy="337.5" r="0.50" fill="#d04060" fill-opacity="0.64"/>
<circle cx="39.6" cy="337.3" r="0.56" fill="#b03050" fill-opacity="0.55"/>
<circle cx="53.3" cy="358.3" r="0.57" fill="#b03050" fill-opacity="0.61"/>
<circle cx="38.5" cy="335.7" r="0.43" fill="#a0b8d0" fill-opacity="0.37"/>
<circle cx="76.8" cy="353.9" r="0.42" fill="#e06070" fill-opacity="0.36"/>
<circle cx="68.9" cy="353.8" r="0.42" fill="#d04060" fill-opacity="0.63"/>
<circle cx="37.5" cy="341.6" r="0.35" fill="#d04060" fill-opacity="0.46"/>
<circle cx="43.4" cy="340.5" r="0.75" fill="#b03050" fill-opacity="0.65"/>
<circle cx="62.3" cy="362.1" r="0.48" fill="#b03050" fill-opacity="0.62"/>
<circle cx="75.0" cy="346.9" r="0.48" fill="#70a0c0" fill-opacity="0.47"/>
<circle cx="53.8" cy="343.4" r="0.74" fill="#70a0c0" fill-opacity="0.35"/>
<circle cx="99.8" cy="366.1" r="0.50" fill="#d04060" fill-opacity="0.53"/>
<circle cx="93.0" cy="369.6" r="0.45" fill="#b03050" fill-opacity="0.51"/>
<circle cx="100.5" cy="339.4" r="0.38" fill="#d04060" fill-opacity="0.67"/>
<circle cx="91.4" cy="349.3" r="0.47" fill="#d04060" fill-opacity="0.57"/>
<circle cx="69.1" cy="367.9" r="0.72" fill="#d04060" fill-opacity="0.57"/>
<circle cx="77.5" cy="364.7" r="0.67" fill="#b03050" fill-opacity="0.54"/>
<circle cx="81.8" cy="344.6" r="0.42" fill="#d04060" fill-opacity="0.37"/>
<circle cx="59.0" cy="366.3" r="0.67" fill="#b03050" fill-opacity="0.57"/>
<circle cx="93.7" cy="356.3" r="0.44" fill="#b03050" fill-opacity="0.48"/>
<circle cx="32.9" cy="352.9" r="0.47" fill="#b03050" fill-opacity="0.50"/>
<circle cx="37.1" cy="363.7" r="0.63" fill="#e06070" fill-opacity="0.31"/>
<circle cx="79.2" cy="354.1" r="0.50" fill="#d04060" fill-opacity="0.55"/>
<circle cx="103.6" cy="331.4" r="0.50" fill="#70a0c0" fill-opacity="0.37"/>
<circle cx="91.1" cy="337.5" r="0.43" fill="#a0b8d0" fill-opacity="0.49"/>
<circle cx="70.2" cy="343.4" r="0.39" fill="#a0b8d0" fill-opacity="0.43"/>
<circle cx="58.4" cy="361.0" r="0.59" fill="#b03050" fill-opacity="0.58"/>
<circle cx="76.1" cy="348.1" r="0.65" fill="#e06070" fill-opacity="0.42"/>
<circle cx="69.6" cy="369.7" r="0.52" fill="#b03050" fill-opacity="0.37"/>
<circle cx="54.8" cy="381.0" r="0.44" fill="#b03050" fill-opacity="0.47"/>
<circle cx="44.6" cy="379.9" r="0.38" fill="#e06070" fill-opacity="0.46"/>
<circle cx="43.3" cy="329.3" r="0.45" fill="#b03050" fill-opacity="0.36"/>
<circle cx="32.4" cy="361.8" r="0.38" fill="#70a0c0" fill-opacity="0.40"/>
<circle cx="39.3" cy="372.0" r="0.50" fill="#70a0c0" fill-opacity="0.58"/>
<circle cx="85.8" cy="332.0" r="0.45" fill="#d04060" fill-opacity="0.54"/>
<circle cx="89.2" cy="332.2" r="0.41" fill="#b03050" fill-opacity="0.43"/>
<circle cx="43.8" cy="332.8" r="0.71" fill="#b03050" fill-opacity="0.56"/>
<circle cx="46.0" cy="348.5" r="0.38" fill="#70a0c0" fill-opacity="0.35"/>
<circle cx="53.0" cy="374.4" r="0.38" fill="#b03050" fill-opacity="0.42"/>
<circle cx="79.5" cy="367.7" r="0.37" fill="#e06070" fill-opacity="0.58"/>
<circle cx="84.1" cy="346.8" r="0.64" fill="#a0b8d0" fill-opacity="0.26"/>
<circle cx="34.4" cy="337.3" r="0.64" fill="#a0b8d0" fill-opacity="0.48"/>
<circle cx="97.4" cy="339.1" r="0.54" fill="#b03050" fill-opacity="0.61"/>
<circle cx="43.2" cy="337.6" r="0.60" fill="#a0b8d0" fill-opacity="0.45"/>
<circle cx="52.5" cy="362.3" r="1.02" fill="#c03050" fill-opacity="0.65"/>
<circle cx="41.2" cy="372.3" r="1.14" fill="#c03050" fill-opacity="0.63"/>
<circle cx="37.0" cy="351.7" r="1.08" fill="#d02838" fill-opacity="0.85"/>
<circle cx="60.3" cy="363.7" r="1.38" fill="#c03050" fill-opacity="0.58"/>
<circle cx="59.5" cy="345.8" r="1.28" fill="#d02838" fill-opacity="0.48"/>
<circle cx="34.5" cy="375.4" r="1.24" fill="#d02838" fill-opacity="0.60"/>
<circle cx="58.4" cy="347.3" r="1.15" fill="#a01828" fill-opacity="0.67"/>
<circle cx="61.5" cy="358.1" r="0.98" fill="#e04858" fill-opacity="0.62"/>
<circle cx="73.1" cy="342.7" r="0.92" fill="#e04858" fill-opacity="0.49"/>
<circle cx="45.4" cy="342.2" r="0.98" fill="#d02838" fill-opacity="0.83"/>
<circle cx="49.6" cy="378.6" r="0.85" fill="#d02838" fill-opacity="0.87"/>
<circle cx="35.2" cy="354.7" r="0.99" fill="#c03050" fill-opacity="0.55"/>
<circle cx="41.5" cy="367.0" r="0.76" fill="#e04858" fill-opacity="0.53"/>
<circle cx="74.5" cy="370.4" r="0.79" fill="#d02838" fill-opacity="0.77"/>
<circle cx="33.5" cy="358.4" r="0.82" fill="#c03050" fill-opacity="0.55"/>
<circle cx="52.2" cy="347.1" r="0.99" fill="#a01828" fill-opacity="0.62"/>
<circle cx="50.0" cy="379.9" r="0.89" fill="#d02838" fill-opacity="0.89"/>
<circle cx="67.5" cy="351.8" r="0.85" fill="#d02838" fill-opacity="0.63"/>
<circle cx="69.7" cy="365.6" r="0.73" fill="#d02838" fill-opacity="0.52"/>
<circle cx="52.0" cy="339.7" r="1.28" fill="#e04858" fill-opacity="0.55"/>
<circle cx="36.2" cy="347.9" r="0.71" fill="#a01828" fill-opacity="0.62"/>
<circle cx="59.8" cy="344.5" r="1.28" fill="#c03050" fill-opacity="0.40"/>
<circle cx="49.6" cy="365.0" r="1.34" fill="#e04858" fill-opacity="0.73"/>
<circle cx="43.7" cy="347.1" r="1.18" fill="#a01828" fill-opacity="0.62"/>
<circle cx="53.7" cy="342.5" r="0.77" fill="#d02838" fill-opacity="0.47"/>
<circle cx="74.4" cy="349.1" r="0.88" fill="#c03050" fill-opacity="0.64"/>
<circle cx="58.6" cy="351.3" r="1.35" fill="#a01828" fill-opacity="0.89"/>
<circle cx="38.4" cy="359.0" r="0.90" fill="#d02838" fill-opacity="0.86"/>
<circle cx="41.8" cy="340.0" r="0.99" fill="#e04858" fill-opacity="0.50"/>
<circle cx="35.0" cy="350.9" r="0.76" fill="#a01828" fill-opacity="0.51"/>
<circle cx="76.8" cy="365.4" r="0.74" fill="#e04858" fill-opacity="0.49"/>
<circle cx="98.7" cy="371.1" r="0.75" fill="#a01828" fill-opacity="0.56"/>
<circle cx="71.1" cy="350.1" r="0.53" fill="#c03050" fill-opacity="0.63"/>
<circle cx="79.1" cy="343.5" r="0.72" fill="#d02838" fill-opacity="0.90"/>
<circle cx="98.0" cy="351.8" r="0.52" fill="#c03050" fill-opacity="0.47"/>
<circle cx="88.4" cy="337.9" r="0.51" fill="#e04858" fill-opacity="0.70"/>
<circle cx="74.1" cy="371.1" r="0.73" fill="#d02838" fill-opacity="0.70"/>
<circle cx="83.0" cy="355.6" r="0.83" fill="#a01828" fill-opacity="0.66"/>
<circle cx="99.7" cy="335.9" r="0.60" fill="#a01828" fill-opacity="0.89"/>
<circle cx="102.3" cy="368.5" r="0.56" fill="#d02838" fill-opacity="0.66"/>
<circle cx="99.9" cy="342.0" r="0.94" fill="#a01828" fill-opacity="0.63"/>
<circle cx="83.8" cy="354.0" r="0.66" fill="#c03050" fill-opacity="0.52"/>
<circle cx="80.3" cy="372.3" r="0.86" fill="#a01828" fill-opacity="0.90"/>
<circle cx="88.4" cy="355.9" r="0.79" fill="#a01828" fill-opacity="0.59"/>
<circle cx="67.2" cy="363.3" r="0.57" fill="#b0b8c8" fill-opacity="0.41"/>
<circle cx="105.9" cy="354.0" r="0.81" fill="#b0b8c8" fill-opacity="0.51"/>
<circle cx="76.6" cy="358.0" r="0.71" fill="#b0b8c8" fill-opacity="0.59"/>
<circle cx="59.3" cy="346.4" r="0.43" fill="#6890c0" fill-opacity="0.73"/>
<circle cx="37.5" cy="364.8" r="0.74" fill="#90a8d0" fill-opacity="0.63"/>
<circle cx="38.5" cy="377.2" r="0.65" fill="#b0b8c8" fill-opacity="0.33"/>
<circle cx="105.2" cy="378.7" r="0.73" fill="#6890c0" fill-opacity="0.79"/>
<circle cx="72.0" cy="375.2" r="0.48" fill="#b0b8c8" fill-opacity="0.51"/>
<circle cx="35.8" cy="337.4" r="0.60" fill="#6890c0" fill-opacity="0.57"/>
<circle cx="76.2" cy="353.7" r="0.67" fill="#90a8d0" fill-opacity="0.57"/>
<circle cx="38.1" cy="338.5" r="0.53" fill="#b0b8c8" fill-opacity="0.58"/>
<circle cx="96.3" cy="348.8" r="0.46" fill="#90a8d0" fill-opacity="0.43"/>
<circle cx="59.0" cy="355.5" r="0.49" fill="#b0b8c8" fill-opacity="0.41"/>
<circle cx="95.7" cy="330.0" r="0.51" fill="#6890c0" fill-opacity="0.57"/>
<circle cx="60.8" cy="369.4" r="0.78" fill="#6890c0" fill-opacity="0.49"/>
<circle cx="37.8" cy="342.9" r="0.54" fill="#90a8d0" fill-opacity="0.47"/>
</g>
<text x="33.7" y="333.5" font-size="5.8" fill="#c8283e" text-anchor="start" textLength="49.5" lengthAdjust="spacingAndGlyphs">Indole-3-acetic acid</text>
<text x="33.7" y="342.1" font-size="5.8" fill="#5a7ab8" text-anchor="start" textLength="12" lengthAdjust="spacingAndGlyphs">DAPI</text>
<text x="32.8" y="378.75" font-size="6.5" fill="#f4f4f4" text-anchor="start" textLength="20.4" lengthAdjust="spacingAndGlyphs" stroke="#f4f4f4" stroke-width="0.22">100 µm</text>
<line x1="37.6" y1="381.3" x2="46.8" y2="381.3" stroke="#ddd" stroke-width="0.8"/>
<rect x="108.8" y="327.3" width="76.2" height="55.2" fill="#0b0b0d"/>
<g filter="url(#bl)">
<circle cx="131.9" cy="368.3" r="0.66" fill="#a01828" fill-opacity="0.75"/>
<circle cx="174.6" cy="366.7" r="0.45" fill="#a01828" fill-opacity="0.69"/>
<circle cx="128.8" cy="353.5" r="0.45" fill="#c03050" fill-opacity="0.59"/>
<circle cx="183.7" cy="380.0" r="0.43" fill="#a01828" fill-opacity="0.81"/>
<circle cx="176.0" cy="352.3" r="0.70" fill="#c03050" fill-opacity="0.68"/>
<circle cx="169.4" cy="352.1" r="0.59" fill="#a01828" fill-opacity="0.79"/>
<circle cx="153.3" cy="358.6" r="0.76" fill="#e04858" fill-opacity="0.66"/>
<circle cx="159.7" cy="355.4" r="0.68" fill="#e04858" fill-opacity="0.62"/>
<circle cx="166.2" cy="347.4" r="0.61" fill="#c03050" fill-opacity="0.45"/>
<circle cx="126.4" cy="355.8" r="0.58" fill="#e04858" fill-opacity="0.64"/>
<circle cx="121.3" cy="367.5" r="0.53" fill="#b0b8c8" fill-opacity="0.37"/>
<circle cx="165.3" cy="349.8" r="0.58" fill="#6890c0" fill-opacity="0.52"/>
<circle cx="161.7" cy="354.4" r="0.44" fill="#6890c0" fill-opacity="0.75"/>
<circle cx="135.9" cy="372.0" r="0.63" fill="#90a8d0" fill-opacity="0.57"/>
<circle cx="124.3" cy="361.0" r="0.45" fill="#b0b8c8" fill-opacity="0.30"/>
<circle cx="118.7" cy="362.9" r="0.38" fill="#6890c0" fill-opacity="0.48"/>
<circle cx="182.3" cy="354.7" r="0.66" fill="#90a8d0" fill-opacity="0.38"/>
<circle cx="158.7" cy="375.4" r="0.56" fill="#b0b8c8" fill-opacity="0.49"/>
<circle cx="126.5" cy="341.4" r="0.53" fill="#90a8d0" fill-opacity="0.42"/>
<circle cx="145.5" cy="346.7" r="0.53" fill="#90a8d0" fill-opacity="0.39"/>
<circle cx="171.1" cy="341.2" r="0.39" fill="#90a8d0" fill-opacity="0.41"/>
<circle cx="142.6" cy="366.8" r="0.38" fill="#b0b8c8" fill-opacity="0.44"/>
<circle cx="161.8" cy="360.3" r="0.46" fill="#90a8d0" fill-opacity="0.51"/>
<circle cx="143.0" cy="372.8" r="0.52" fill="#90a8d0" fill-opacity="0.43"/>
<circle cx="174.4" cy="377.7" r="0.55" fill="#6890c0" fill-opacity="0.60"/>
<circle cx="132.5" cy="356.3" r="0.49" fill="#b0b8c8" fill-opacity="0.60"/>
<circle cx="115.3" cy="367.8" r="0.68" fill="#90a8d0" fill-opacity="0.44"/>
<circle cx="135.0" cy="345.4" r="0.55" fill="#b0b8c8" fill-opacity="0.54"/>
<circle cx="120.5" cy="341.5" r="0.46" fill="#6890c0" fill-opacity="0.79"/>
<circle cx="154.8" cy="349.5" r="0.70" fill="#90a8d0" fill-opacity="0.39"/>
</g>
<text x="111.5" y="333.5" font-size="5.8" fill="#9a1428" text-anchor="start" textLength="49.5" lengthAdjust="spacingAndGlyphs">Indole-3-acetic acid</text>
<text x="111.5" y="342.1" font-size="5.8" fill="#345c98" text-anchor="start" textLength="12" lengthAdjust="spacingAndGlyphs">DAPI</text>
<text x="110.6" y="378.75" font-size="6.5" fill="#f4f4f4" text-anchor="start" textLength="20.4" lengthAdjust="spacingAndGlyphs" stroke="#f4f4f4" stroke-width="0.22">100 µm</text>
<line x1="115.4" y1="381.3" x2="124.6" y2="381.3" stroke="#ddd" stroke-width="0.8"/>
<rect x="187.7" y="327.3" width="76.2" height="55.2" fill="#0b0b0d"/>
<g filter="url(#bl)">
<circle cx="208.9" cy="349.4" r="0.70" fill="#8ab8e8" fill-opacity="0.45"/>
<circle cx="193.1" cy="348.6" r="0.55" fill="#8ab8e8" fill-opacity="0.52"/>
<circle cx="192.2" cy="347.6" r="0.82" fill="#b0d0f0" fill-opacity="0.74"/>
<circle cx="201.7" cy="342.2" r="0.97" fill="#b0d0f0" fill-opacity="0.47"/>
<circle cx="196.4" cy="336.9" r="0.77" fill="#b0d0f0" fill-opacity="0.50"/>
<circle cx="194.1" cy="344.8" r="0.52" fill="#8ab8e8" fill-opacity="0.80"/>
<circle cx="193.1" cy="338.7" r="0.67" fill="#b0d0f0" fill-opacity="0.43"/>
<circle cx="202.5" cy="344.4" r="0.52" fill="#8ab8e8" fill-opacity="0.75"/>
<circle cx="206.0" cy="344.5" r="0.96" fill="#8ab8e8" fill-opacity="0.90"/>
<circle cx="194.1" cy="344.1" r="0.77" fill="#8ab8e8" fill-opacity="0.46"/>
<circle cx="199.7" cy="361.1" r="0.47" fill="#b03050" fill-opacity="0.58"/>
<circle cx="202.2" cy="343.9" r="0.47" fill="#70a0c0" fill-opacity="0.31"/>
<circle cx="228.0" cy="361.3" r="0.57" fill="#a0b8d0" fill-opacity="0.30"/>
<circle cx="247.4" cy="351.8" r="0.34" fill="#a0b8d0" fill-opacity="0.45"/>
<circle cx="239.9" cy="360.7" r="0.57" fill="#70a0c0" fill-opacity="0.55"/>
<circle cx="241.7" cy="356.3" r="0.49" fill="#70a0c0" fill-opacity="0.49"/>
<circle cx="238.4" cy="341.4" r="0.55" fill="#d04060" fill-opacity="0.48"/>
<circle cx="203.1" cy="351.0" r="0.43" fill="#a0b8d0" fill-opacity="0.35"/>
<circle cx="256.0" cy="337.2" r="0.32" fill="#b03050" fill-opacity="0.43"/>
<circle cx="210.6" cy="335.1" r="0.43" fill="#a0b8d0" fill-opacity="0.42"/>
<circle cx="254.7" cy="372.2" r="0.49" fill="#70a0c0" fill-opacity="0.46"/>
<circle cx="253.5" cy="381.0" r="0.51" fill="#a0b8d0" fill-opacity="0.35"/>
<circle cx="243.8" cy="360.2" r="0.49" fill="#a0b8d0" fill-opacity="0.38"/>
<circle cx="261.0" cy="356.4" r="0.34" fill="#70a0c0" fill-opacity="0.44"/>
<circle cx="253.6" cy="344.7" r="0.56" fill="#a0b8d0" fill-opacity="0.35"/>
<circle cx="207.6" cy="364.7" r="0.36" fill="#b03050" fill-opacity="0.51"/>
<circle cx="237.9" cy="340.0" r="0.34" fill="#70a0c0" fill-opacity="0.48"/>
<circle cx="228.2" cy="328.8" r="0.42" fill="#b03050" fill-opacity="0.40"/>
<circle cx="197.5" cy="336.3" r="0.38" fill="#70a0c0" fill-opacity="0.38"/>
<circle cx="221.7" cy="367.8" r="0.36" fill="#70a0c0" fill-opacity="0.39"/>
<circle cx="243.9" cy="339.0" r="0.36" fill="#70a0c0" fill-opacity="0.53"/>
<circle cx="247.6" cy="358.7" r="0.49" fill="#b03050" fill-opacity="0.43"/>
<circle cx="195.6" cy="337.3" r="0.50" fill="#70a0c0" fill-opacity="0.53"/>
<circle cx="257.4" cy="364.5" r="0.30" fill="#b03050" fill-opacity="0.45"/>
<circle cx="204.9" cy="362.8" r="0.51" fill="#b03050" fill-opacity="0.69"/>
<circle cx="236.0" cy="353.6" r="0.38" fill="#b03050" fill-opacity="0.62"/>
<circle cx="242.7" cy="374.4" r="0.51" fill="#d04060" fill-opacity="0.58"/>
<circle cx="257.0" cy="335.5" r="0.42" fill="#a0b8d0" fill-opacity="0.44"/>
<circle cx="194.2" cy="368.8" r="0.34" fill="#a0b8d0" fill-opacity="0.48"/>
<circle cx="222.4" cy="341.5" r="0.51" fill="#b03050" fill-opacity="0.44"/>
<circle cx="261.4" cy="376.2" r="0.58" fill="#b03050" fill-opacity="0.52"/>
<circle cx="259.4" cy="331.9" r="0.53" fill="#a0b8d0" fill-opacity="0.49"/>
<circle cx="191.0" cy="355.3" r="0.47" fill="#a0b8d0" fill-opacity="0.29"/>
<circle cx="207.5" cy="333.6" r="0.59" fill="#b03050" fill-opacity="0.54"/>
<circle cx="194.6" cy="365.2" r="0.34" fill="#d04060" fill-opacity="0.63"/>
<circle cx="237.5" cy="377.2" r="0.51" fill="#d04060" fill-opacity="0.65"/>
<circle cx="218.2" cy="362.3" r="0.34" fill="#70a0c0" fill-opacity="0.40"/>
<circle cx="223.7" cy="347.4" r="0.37" fill="#70a0c0" fill-opacity="0.45"/>
<circle cx="203.9" cy="334.1" r="0.40" fill="#e06070" fill-opacity="0.46"/>
<circle cx="242.3" cy="360.0" r="0.60" fill="#70a0c0" fill-opacity="0.31"/>
<circle cx="260.3" cy="328.9" r="0.46" fill="#d02838" fill-opacity="0.89"/>
<circle cx="190.0" cy="375.1" r="0.74" fill="#a01828" fill-opacity="0.90"/>
<circle cx="206.5" cy="346.3" r="0.51" fill="#e04858" fill-opacity="0.51"/>
<circle cx="205.7" cy="373.9" r="0.72" fill="#e04858" fill-opacity="0.49"/>
<circle cx="257.3" cy="355.5" r="0.63" fill="#a01828" fill-opacity="0.83"/>
<circle cx="225.0" cy="352.8" r="0.58" fill="#e04858" fill-opacity="0.53"/>
<circle cx="240.2" cy="352.3" r="0.60" fill="#d02838" fill-opacity="0.88"/>
<circle cx="190.1" cy="335.8" r="0.65" fill="#a01828" fill-opacity="0.80"/>
<circle cx="251.3" cy="329.2" r="0.46" fill="#c03050" fill-opacity="0.65"/>
<circle cx="254.9" cy="349.3" r="0.59" fill="#d02838" fill-opacity="0.83"/>
<circle cx="216.7" cy="358.0" r="0.54" fill="#90a8d0" fill-opacity="0.35"/>
<circle cx="252.2" cy="367.9" r="0.78" fill="#6890c0" fill-opacity="0.40"/>
<circle cx="212.4" cy="351.7" r="0.97" fill="#6890c0" fill-opacity="0.64"/>
<circle cx="192.3" cy="346.8" r="0.55" fill="#b0b8c8" fill-opacity="0.57"/>
<circle cx="248.8" cy="366.0" r="0.68" fill="#6890c0" fill-opacity="0.64"/>
<circle cx="241.4" cy="379.7" r="0.62" fill="#90a8d0" fill-opacity="0.50"/>
<circle cx="196.9" cy="358.6" r="0.79" fill="#b0b8c8" fill-opacity="0.58"/>
<circle cx="211.8" cy="339.2" r="0.90" fill="#6890c0" fill-opacity="0.72"/>
<circle cx="228.4" cy="347.4" r="0.59" fill="#6890c0" fill-opacity="0.53"/>
<circle cx="223.4" cy="344.4" r="0.84" fill="#90a8d0" fill-opacity="0.35"/>
<circle cx="251.4" cy="358.4" r="0.82" fill="#90a8d0" fill-opacity="0.39"/>
<circle cx="250.7" cy="340.7" r="0.41" fill="#b0b8c8" fill-opacity="0.34"/>
<circle cx="207.4" cy="354.8" r="0.42" fill="#90a8d0" fill-opacity="0.37"/>
<circle cx="237.5" cy="363.3" r="0.71" fill="#90a8d0" fill-opacity="0.68"/>
<circle cx="247.1" cy="365.5" r="0.54" fill="#6890c0" fill-opacity="0.44"/>
<circle cx="197.4" cy="342.5" r="0.64" fill="#6890c0" fill-opacity="0.42"/>
<circle cx="251.4" cy="369.0" r="0.96" fill="#6890c0" fill-opacity="0.71"/>
<circle cx="201.7" cy="364.7" r="0.54" fill="#90a8d0" fill-opacity="0.55"/>
<circle cx="207.9" cy="347.8" r="0.46" fill="#6890c0" fill-opacity="0.46"/>
<circle cx="218.7" cy="339.0" r="0.93" fill="#90a8d0" fill-opacity="0.51"/>
<circle cx="209.4" cy="339.8" r="0.52" fill="#b0b8c8" fill-opacity="0.50"/>
<circle cx="257.3" cy="358.9" r="0.89" fill="#6890c0" fill-opacity="0.45"/>
<circle cx="236.2" cy="349.5" r="0.66" fill="#90a8d0" fill-opacity="0.64"/>
<circle cx="207.8" cy="375.3" r="0.66" fill="#90a8d0" fill-opacity="0.43"/>
<circle cx="204.0" cy="366.0" r="0.92" fill="#6890c0" fill-opacity="0.48"/>
<circle cx="221.4" cy="338.2" r="0.74" fill="#90a8d0" fill-opacity="0.69"/>
<circle cx="251.7" cy="369.6" r="0.84" fill="#90a8d0" fill-opacity="0.43"/>
<circle cx="237.1" cy="346.3" r="0.70" fill="#90a8d0" fill-opacity="0.52"/>
<circle cx="196.4" cy="364.5" r="0.46" fill="#b0b8c8" fill-opacity="0.50"/>
<circle cx="194.9" cy="340.8" r="0.84" fill="#90a8d0" fill-opacity="0.37"/>
<circle cx="214.8" cy="344.7" r="0.62" fill="#b0b8c8" fill-opacity="0.38"/>
<circle cx="195.4" cy="345.5" r="0.83" fill="#6890c0" fill-opacity="0.65"/>
<circle cx="206.7" cy="354.3" r="0.52" fill="#b0b8c8" fill-opacity="0.38"/>
<circle cx="236.8" cy="353.9" r="0.49" fill="#6890c0" fill-opacity="0.78"/>
<circle cx="240.5" cy="346.9" r="0.87" fill="#b0b8c8" fill-opacity="0.49"/>
<circle cx="229.5" cy="372.8" r="0.85" fill="#b0b8c8" fill-opacity="0.57"/>
<circle cx="227.7" cy="363.8" r="0.98" fill="#b0b8c8" fill-opacity="0.44"/>
<circle cx="225.3" cy="343.2" r="0.85" fill="#90a8d0" fill-opacity="0.67"/>
<circle cx="198.5" cy="338.3" r="0.84" fill="#90a8d0" fill-opacity="0.70"/>
<circle cx="249.3" cy="378.3" r="0.42" fill="#6890c0" fill-opacity="0.77"/>
<circle cx="240.3" cy="367.0" r="0.97" fill="#b0b8c8" fill-opacity="0.37"/>
<circle cx="205.4" cy="356.1" r="0.96" fill="#6890c0" fill-opacity="0.58"/>
</g>
<text x="190.4" y="333.5" font-size="5.8" fill="#9a1428" text-anchor="start" textLength="49.5" lengthAdjust="spacingAndGlyphs">Indole-3-acetic acid</text>
<text x="190.4" y="342.1" font-size="5.8" fill="#4a7ab8" text-anchor="start" textLength="12" lengthAdjust="spacingAndGlyphs">DAPI</text>
<text x="189.5" y="378.75" font-size="6.5" fill="#f4f4f4" text-anchor="start" textLength="20.4" lengthAdjust="spacingAndGlyphs" stroke="#f4f4f4" stroke-width="0.22">100 µm</text>
<line x1="194.3" y1="381.3" x2="203.5" y2="381.3" stroke="#ddd" stroke-width="0.8"/>
<rect x="31.0" y="384.5" width="76.2" height="56.0" fill="#0b0b0d"/>
<g filter="url(#bl)">
<circle cx="104.6" cy="410.1" r="0.59" fill="#a02030" fill-opacity="0.57"/>
<circle cx="86.8" cy="420.8" r="0.66" fill="#c03040" fill-opacity="0.47"/>
<circle cx="40.8" cy="389.9" r="0.55" fill="#a02030" fill-opacity="0.59"/>
<circle cx="35.3" cy="437.4" r="0.56" fill="#a02030" fill-opacity="0.39"/>
<circle cx="87.3" cy="432.0" r="0.43" fill="#c03040" fill-opacity="0.41"/>
<circle cx="89.2" cy="418.8" r="0.48" fill="#a02030" fill-opacity="0.47"/>
<circle cx="102.2" cy="418.9" r="0.64" fill="#c03040" fill-opacity="0.43"/>
<circle cx="99.3" cy="426.4" r="0.53" fill="#c03040" fill-opacity="0.43"/>
<circle cx="54.0" cy="411.5" r="0.40" fill="#a02030" fill-opacity="0.45"/>
<circle cx="100.2" cy="411.5" r="0.38" fill="#c03040" fill-opacity="0.45"/>
<circle cx="83.9" cy="390.4" r="0.58" fill="#c03040" fill-opacity="0.28"/>
<circle cx="99.7" cy="426.9" r="0.60" fill="#a02030" fill-opacity="0.39"/>
<circle cx="72.8" cy="417.7" r="0.48" fill="#c03040" fill-opacity="0.43"/>
<circle cx="51.4" cy="433.5" r="0.51" fill="#a02030" fill-opacity="0.31"/>
<circle cx="80.0" cy="432.6" r="0.55" fill="#a02030" fill-opacity="0.49"/>
<circle cx="49.0" cy="406.4" r="0.58" fill="#a02030" fill-opacity="0.41"/>
<circle cx="67.4" cy="403.4" r="0.59" fill="#a02030" fill-opacity="0.40"/>
<circle cx="82.8" cy="431.3" r="0.69" fill="#a02030" fill-opacity="0.39"/>
<circle cx="100.2" cy="395.3" r="0.54" fill="#c03040" fill-opacity="0.40"/>
<circle cx="83.9" cy="420.0" r="0.47" fill="#c03040" fill-opacity="0.33"/>
<circle cx="78.8" cy="389.1" r="0.57" fill="#a02030" fill-opacity="0.42"/>
<circle cx="86.5" cy="407.7" r="0.62" fill="#c03040" fill-opacity="0.45"/>
<circle cx="76.3" cy="435.1" r="0.49" fill="#c03040" fill-opacity="0.32"/>
<circle cx="34.5" cy="429.2" r="0.46" fill="#c03040" fill-opacity="0.45"/>
<circle cx="63.2" cy="392.9" r="0.66" fill="#c03040" fill-opacity="0.42"/>
<circle cx="72.6" cy="432.6" r="0.39" fill="#a02030" fill-opacity="0.58"/>
<circle cx="93.7" cy="393.7" r="0.60" fill="#c03040" fill-opacity="0.34"/>
<circle cx="40.7" cy="422.1" r="0.57" fill="#a02030" fill-opacity="0.34"/>
<circle cx="42.8" cy="404.4" r="0.61" fill="#a02030" fill-opacity="0.54"/>
<circle cx="50.8" cy="398.8" r="0.70" fill="#c03040" fill-opacity="0.27"/>
<circle cx="53.8" cy="406.0" r="0.45" fill="#c03040" fill-opacity="0.35"/>
<circle cx="100.9" cy="416.7" r="0.60" fill="#c03040" fill-opacity="0.49"/>
<circle cx="102.0" cy="391.3" r="0.59" fill="#c03040" fill-opacity="0.50"/>
<circle cx="70.1" cy="390.1" r="0.51" fill="#c03040" fill-opacity="0.44"/>
<circle cx="35.9" cy="400.6" r="0.40" fill="#a02030" fill-opacity="0.35"/>
<circle cx="89.3" cy="391.0" r="0.46" fill="#a02030" fill-opacity="0.41"/>
<circle cx="59.8" cy="396.2" r="0.37" fill="#a02030" fill-opacity="0.59"/>
<circle cx="88.7" cy="430.1" r="0.40" fill="#c03040" fill-opacity="0.47"/>
<circle cx="97.3" cy="424.1" r="0.38" fill="#c03040" fill-opacity="0.35"/>
<circle cx="40.1" cy="421.7" r="0.40" fill="#c03040" fill-opacity="0.43"/>
<circle cx="56.8" cy="425.7" r="0.64" fill="#c03040" fill-opacity="0.43"/>
<circle cx="79.6" cy="387.2" r="0.52" fill="#a02030" fill-opacity="0.35"/>
<circle cx="33.1" cy="400.0" r="0.68" fill="#c03040" fill-opacity="0.36"/>
<circle cx="51.8" cy="391.5" r="0.59" fill="#c03040" fill-opacity="0.39"/>
<circle cx="104.7" cy="421.9" r="0.70" fill="#c03040" fill-opacity="0.30"/>
<circle cx="53.1" cy="403.5" r="0.66" fill="#a02030" fill-opacity="0.52"/>
<circle cx="92.7" cy="400.1" r="0.42" fill="#a02030" fill-opacity="0.39"/>
<circle cx="103.0" cy="397.0" r="0.55" fill="#c03040" fill-opacity="0.44"/>
<circle cx="106.0" cy="425.1" r="0.46" fill="#c03040" fill-opacity="0.27"/>
<circle cx="44.6" cy="409.0" r="0.54" fill="#c03040" fill-opacity="0.36"/>
<circle cx="90.6" cy="420.7" r="0.56" fill="#c03040" fill-opacity="0.32"/>
<circle cx="87.2" cy="438.5" r="0.60" fill="#a02030" fill-opacity="0.37"/>
<circle cx="40.8" cy="409.7" r="0.55" fill="#c03040" fill-opacity="0.33"/>
<circle cx="48.2" cy="423.5" r="0.46" fill="#a02030" fill-opacity="0.37"/>
<circle cx="42.6" cy="403.8" r="0.70" fill="#c03040" fill-opacity="0.47"/>
<circle cx="100.7" cy="434.8" r="0.35" fill="#c03040" fill-opacity="0.31"/>
<circle cx="106.1" cy="423.1" r="0.42" fill="#c03040" fill-opacity="0.31"/>
<circle cx="39.3" cy="413.8" r="0.57" fill="#c03040" fill-opacity="0.40"/>
<circle cx="78.1" cy="431.7" r="0.67" fill="#a02030" fill-opacity="0.50"/>
<circle cx="74.4" cy="388.9" r="0.58" fill="#c03040" fill-opacity="0.28"/>
<circle cx="52.8" cy="428.8" r="1.07" fill="#e04858" fill-opacity="0.71"/>
<circle cx="59.8" cy="423.0" r="1.45" fill="#d02838" fill-opacity="0.56"/>
<circle cx="64.0" cy="413.3" r="1.28" fill="#e04858" fill-opacity="0.67"/>
<circle cx="60.5" cy="402.0" r="0.98" fill="#d02838" fill-opacity="0.81"/>
<circle cx="40.5" cy="431.8" r="1.10" fill="#a01828" fill-opacity="0.51"/>
<circle cx="60.2" cy="399.3" r="0.95" fill="#c03050" fill-opacity="0.68"/>
<circle cx="51.0" cy="436.4" r="1.31" fill="#a01828" fill-opacity="0.63"/>
<circle cx="52.2" cy="410.0" r="1.12" fill="#c03050" fill-opacity="0.37"/>
<circle cx="61.6" cy="410.7" r="1.12" fill="#c03050" fill-opacity="0.62"/>
<circle cx="66.0" cy="406.1" r="1.47" fill="#a01828" fill-opacity="0.69"/>
<circle cx="46.7" cy="407.2" r="1.02" fill="#e04858" fill-opacity="0.64"/>
<circle cx="54.1" cy="418.6" r="1.05" fill="#a01828" fill-opacity="0.59"/>
<circle cx="46.2" cy="403.3" r="1.45" fill="#d02838" fill-opacity="0.71"/>
<circle cx="43.4" cy="396.9" r="0.91" fill="#e04858" fill-opacity="0.70"/>
<circle cx="51.0" cy="398.7" r="1.09" fill="#a01828" fill-opacity="0.48"/>
<circle cx="70.5" cy="432.9" r="1.27" fill="#d02838" fill-opacity="0.69"/>
<circle cx="38.3" cy="415.9" r="1.01" fill="#c03050" fill-opacity="0.70"/>
<circle cx="69.5" cy="423.6" r="0.93" fill="#a01828" fill-opacity="0.89"/>
<circle cx="44.6" cy="432.1" r="1.39" fill="#e04858" fill-opacity="0.42"/>
<circle cx="68.2" cy="400.2" r="1.40" fill="#e04858" fill-opacity="0.66"/>
<circle cx="48.3" cy="399.5" r="1.23" fill="#d02838" fill-opacity="0.89"/>
<circle cx="41.5" cy="434.8" r="1.38" fill="#a01828" fill-opacity="0.47"/>
<circle cx="66.7" cy="420.0" r="1.03" fill="#c03050" fill-opacity="0.49"/>
<circle cx="56.8" cy="399.6" r="1.35" fill="#c03050" fill-opacity="0.43"/>
<circle cx="45.1" cy="404.1" r="1.26" fill="#e04858" fill-opacity="0.78"/>
<circle cx="55.0" cy="417.3" r="1.44" fill="#d02838" fill-opacity="0.60"/>
<circle cx="93.7" cy="423.4" r="0.70" fill="#e04858" fill-opacity="0.43"/>
<circle cx="99.8" cy="407.2" r="1.02" fill="#e04858" fill-opacity="0.56"/>
<circle cx="79.7" cy="403.1" r="0.96" fill="#d02838" fill-opacity="0.74"/>
<circle cx="93.9" cy="419.4" r="0.99" fill="#c03050" fill-opacity="0.61"/>
<circle cx="94.0" cy="436.2" r="1.02" fill="#d02838" fill-opacity="0.82"/>
<circle cx="87.7" cy="398.6" r="0.91" fill="#e04858" fill-opacity="0.49"/>
<circle cx="99.5" cy="398.7" r="0.98" fill="#c03050" fill-opacity="0.67"/>
<circle cx="98.9" cy="394.2" r="0.69" fill="#d02838" fill-opacity="0.77"/>
<circle cx="80.3" cy="436.4" r="1.09" fill="#a01828" fill-opacity="0.74"/>
<circle cx="86.8" cy="399.2" r="0.63" fill="#c03050" fill-opacity="0.70"/>
<circle cx="101.5" cy="413.1" r="0.78" fill="#d02838" fill-opacity="0.80"/>
<circle cx="77.2" cy="408.2" r="0.86" fill="#d02838" fill-opacity="0.53"/>
<circle cx="97.8" cy="414.0" r="0.77" fill="#d02838" fill-opacity="0.79"/>
<circle cx="84.8" cy="420.5" r="0.73" fill="#e04858" fill-opacity="0.62"/>
</g>
<text x="33.7" y="390.7" font-size="5.8" fill="#c82030" text-anchor="start" textLength="49.5" lengthAdjust="spacingAndGlyphs">Indole-3-acetic acid</text>
<text x="32.8" y="436.75" font-size="6.5" fill="#f4f4f4" text-anchor="start" textLength="20.4" lengthAdjust="spacingAndGlyphs" stroke="#f4f4f4" stroke-width="0.22">100 µm</text>
<line x1="37.6" y1="439.3" x2="46.8" y2="439.3" stroke="#ddd" stroke-width="0.8"/>
<rect x="108.8" y="384.5" width="76.2" height="56.0" fill="#0b0b0d"/>
<g filter="url(#bl)">
<circle cx="123.2" cy="421.2" r="0.37" fill="#802028" fill-opacity="0.59"/>
<circle cx="156.4" cy="395.4" r="0.44" fill="#802028" fill-opacity="0.38"/>
<circle cx="128.6" cy="422.9" r="0.46" fill="#802028" fill-opacity="0.53"/>
<circle cx="122.7" cy="437.7" r="0.35" fill="#802028" fill-opacity="0.36"/>
<circle cx="136.9" cy="412.9" r="0.36" fill="#802028" fill-opacity="0.39"/>
<circle cx="110.3" cy="438.2" r="0.53" fill="#802028" fill-opacity="0.42"/>
<circle cx="135.5" cy="416.5" r="0.55" fill="#802028" fill-opacity="0.48"/>
<circle cx="132.3" cy="391.7" r="0.47" fill="#802028" fill-opacity="0.45"/>
<circle cx="146.6" cy="428.4" r="0.36" fill="#802028" fill-opacity="0.49"/>
<circle cx="169.7" cy="392.6" r="0.47" fill="#802028" fill-opacity="0.57"/>
</g>
<text x="111.5" y="390.7" font-size="5.8" fill="#8a1428" text-anchor="start" textLength="49.5" lengthAdjust="spacingAndGlyphs">Indole-3-acetic acid</text>
<text x="110.6" y="436.75" font-size="6.5" fill="#f4f4f4" text-anchor="start" textLength="20.4" lengthAdjust="spacingAndGlyphs" stroke="#f4f4f4" stroke-width="0.22">100 µm</text>
<line x1="115.4" y1="439.3" x2="124.6" y2="439.3" stroke="#ddd" stroke-width="0.8"/>
<rect x="187.7" y="384.5" width="76.2" height="56.0" fill="#100a0c"/>
<g filter="url(#bl)">
<circle cx="238.9" cy="427.9" r="0.45" fill="#802028" fill-opacity="0.42"/>
<circle cx="262.7" cy="401.1" r="0.48" fill="#802028" fill-opacity="0.33"/>
<circle cx="219.3" cy="437.8" r="0.53" fill="#802028" fill-opacity="0.57"/>
<circle cx="190.4" cy="418.9" r="0.58" fill="#802028" fill-opacity="0.33"/>
<circle cx="222.5" cy="432.3" r="0.54" fill="#802028" fill-opacity="0.42"/>
<circle cx="196.1" cy="424.8" r="0.43" fill="#802028" fill-opacity="0.60"/>
</g>
<text x="190.4" y="390.7" font-size="5.8" fill="#8a1428" text-anchor="start" textLength="49.5" lengthAdjust="spacingAndGlyphs">Indole-3-acetic acid</text>
<text x="189.5" y="436.75" font-size="6.5" fill="#f4f4f4" text-anchor="start" textLength="20.4" lengthAdjust="spacingAndGlyphs" stroke="#f4f4f4" stroke-width="0.22">100 µm</text>
<line x1="194.3" y1="439.3" x2="203.5" y2="439.3" stroke="#ddd" stroke-width="0.8"/>
<text x="14.6" y="459.2" font-size="10.8" fill="#000" text-anchor="start" font-weight="bold" stroke="#000" stroke-width="0.4">G</text>
<text x="70.1" y="458.5" font-size="6.8" fill="#cfd0d8" text-anchor="middle" textLength="42" lengthAdjust="spacingAndGlyphs">Control patients</text>
<text x="146.9" y="458.5" font-size="6.8" fill="#2f5b9a" text-anchor="middle" textLength="52" lengthAdjust="spacingAndGlyphs">Allo-HCT w/o GvHD</text>
<text x="225.8" y="458.5" font-size="6.8" fill="#d03a50" text-anchor="middle" textLength="55" lengthAdjust="spacingAndGlyphs">Allo-HCT with GvHD</text>
<rect x="31.0" y="461.6" width="76.2" height="54.2" fill="#0b0b0b"/>
<g filter="url(#bl)">
</g>
<g filter="url(#bl2)" stroke-linecap="round" fill="none"><path d="M49.5,482.5 C52.0,485.1 54.0,486.6 56.3,487.0 C60.0,487.6 65.0,487.9 69.0,487.7 C72.0,487.4 75.0,484.6 78.0,484.0 L85.5,484.2" stroke="#3cb03c" stroke-width="0.9"/><path d="M67.0,488.1 L66.2,491.8 M74.5,488.3 L71.5,493.3 M76.0,488.6 L77.5,491.8 M52.0,484.6 L49.0,486.6" stroke="#2a702a" stroke-width="0.6"/><path d="M73.5,473.6 C79.0,472.6 85.0,471.6 90.7,469.8 L89.5,471.6" stroke="#4a524a" stroke-width="0.6"/><path d="M65.5,509.1 l1.2,-1.6 l1.2,1.6 l-1.2,1.2 z M66.7,507.5 l0,-1.6" stroke="#40a840" stroke-width="0.7"/></g>
<text x="33.0" y="467.7" font-size="6.6" fill="#2f9a3a" text-anchor="start" textLength="13.8" lengthAdjust="spacingAndGlyphs">Iba-1</text>
<text x="32.8" y="511.0" font-size="6.5" fill="#f4f4f4" text-anchor="start" textLength="16.5" lengthAdjust="spacingAndGlyphs" stroke="#f4f4f4" stroke-width="0.22">10 µm</text>
<line x1="36.3" y1="513.4" x2="44.5" y2="513.4" stroke="#ddd" stroke-width="0.8"/>
<rect x="108.8" y="461.6" width="76.2" height="54.2" fill="#0b0b0b"/>
<g filter="url(#bl)">
<circle cx="152.0" cy="495.1" r="0.44" fill="#2a9a2a" fill-opacity="0.47"/>
<circle cx="149.5" cy="490.3" r="0.59" fill="#2a9a2a" fill-opacity="0.38"/>
<circle cx="143.6" cy="509.1" r="0.39" fill="#3cc83c" fill-opacity="0.33"/>
<circle cx="147.0" cy="469.0" r="0.54" fill="#2a9a2a" fill-opacity="0.32"/>
<circle cx="135.2" cy="501.0" r="0.34" fill="#3cc83c" fill-opacity="0.26"/>
<circle cx="179.5" cy="479.4" r="0.60" fill="#3cc83c" fill-opacity="0.27"/>
</g>
<g filter="url(#bl2)" stroke-linecap="round" fill="none"><path d="M144.8,483.6 L146.2,489.0 M142.8,488.6 L149.8,489.2 C154.8,490.1 158.8,491.1 164.8,492.0 M152.8,489.6 L153.8,492.6" stroke="#3aa03a" stroke-width="0.9"/><circle cx="146.2" cy="489.0" r="0.9" fill="#5ad05a"/><path d="M117.8,476.0 L118.8,476.6 M122.8,475.6 L124.3,476.2 M126.8,476.4 L127.8,475.8 M115.8,478.6 L116.3,481.6" stroke="#2e8a2e" stroke-width="0.7"/><path d="M130.8,508.1 L133.3,512.1 M133.3,508.1 L130.8,512.1" stroke="#2e8a2e" stroke-width="0.6"/><path d="M169.8,479.6 L170.8,482.6 M174.8,487.6 L176.8,488.1 M179.8,492.6 L180.8,494.6" stroke="#2a7a2a" stroke-width="0.6"/></g>
<text x="110.8" y="467.7" font-size="6.6" fill="#2f9a3a" text-anchor="start" textLength="13.8" lengthAdjust="spacingAndGlyphs">Iba-1</text>
<text x="110.6" y="511.0" font-size="6.5" fill="#f4f4f4" text-anchor="start" textLength="16.5" lengthAdjust="spacingAndGlyphs" stroke="#f4f4f4" stroke-width="0.22">10 µm</text>
<line x1="114.1" y1="513.4" x2="122.3" y2="513.4" stroke="#ddd" stroke-width="0.8"/>
<rect x="187.7" y="461.6" width="76.2" height="54.2" fill="#0b0b0b"/>
<g filter="url(#bl)">
<circle cx="229.5" cy="500.4" r="0.56" fill="#2a9a2a" fill-opacity="0.32"/>
<circle cx="257.4" cy="492.1" r="0.50" fill="#2a9a2a" fill-opacity="0.45"/>
<circle cx="254.3" cy="508.5" r="0.41" fill="#3cc83c" fill-opacity="0.49"/>
<circle cx="193.5" cy="499.1" r="0.52" fill="#2a9a2a" fill-opacity="0.34"/>
<circle cx="225.9" cy="467.7" r="0.32" fill="#2a9a2a" fill-opacity="0.34"/>
<circle cx="230.6" cy="488.1" r="0.32" fill="#2a9a2a" fill-opacity="0.29"/>
</g>
<g filter="url(#bl2)" stroke-linecap="round"><ellipse cx="222.2" cy="486.1" rx="3.6" ry="3.4" fill="#2f8a2f"/><ellipse cx="222.2" cy="486.1" rx="2.4" ry="2.2" fill="#50c850"/><ellipse cx="229.7" cy="488.3" rx="2.6" ry="2.3" fill="#2f8a2f"/><ellipse cx="229.7" cy="488.3" rx="1.6" ry="1.4" fill="#60d060"/><circle cx="210.0" cy="489.8" r="1.2" fill="#2f8a2f"/><path d="M218.7,482.6 L214.7,480.6 M225.7,482.6 L226.7,477.6 M232.7,486.6 L237.7,482.6 M217.7,489.6 L213.7,492.6 M231.7,490.6 L234.7,493.6" stroke="#2e8a2e" stroke-width="0.7" fill="none"/><path d="M245.7,482.6 L248.7,480.6 M253.7,478.6 L255.7,482.6 M258.7,479.6 L261.7,475.6" stroke="#2e8a2e" stroke-width="0.8" fill="none"/></g>
<text x="189.7" y="467.7" font-size="6.6" fill="#2f9a3a" text-anchor="start" textLength="13.8" lengthAdjust="spacingAndGlyphs">Iba-1</text>
<text x="189.5" y="511.0" font-size="6.5" fill="#f4f4f4" text-anchor="start" textLength="16.5" lengthAdjust="spacingAndGlyphs" stroke="#f4f4f4" stroke-width="0.22">10 µm</text>
<line x1="193.0" y1="513.4" x2="201.2" y2="513.4" stroke="#ddd" stroke-width="0.8"/>
<rect x="31.0" y="518.2" width="76.2" height="54.2" fill="#0b0b0b"/>
<g filter="url(#bl)">
<circle cx="68.9" cy="533.1" r="0.51" fill="#702020" fill-opacity="0.53"/>
<circle cx="56.5" cy="547.3" r="0.50" fill="#702020" fill-opacity="0.33"/>
<circle cx="43.4" cy="562.3" r="0.40" fill="#702020" fill-opacity="0.36"/>
<circle cx="104.2" cy="536.4" r="0.49" fill="#702020" fill-opacity="0.57"/>
</g>
<text x="33.0" y="525.0" font-size="6.6" fill="#a0143a" text-anchor="start" textLength="53" lengthAdjust="spacingAndGlyphs">Phospho NFkB p65</text>
<text x="32.8" y="567.6" font-size="6.5" fill="#f4f4f4" text-anchor="start" textLength="16.5" lengthAdjust="spacingAndGlyphs" stroke="#f4f4f4" stroke-width="0.22">10 µm</text>
<line x1="36.3" y1="570.0" x2="44.5" y2="570.0" stroke="#ddd" stroke-width="0.8"/>
<rect x="108.8" y="518.2" width="76.2" height="54.2" fill="#0b0b0b"/>
<g filter="url(#bl)">
<circle cx="127.9" cy="545.4" r="0.37" fill="#702020" fill-opacity="0.60"/>
<circle cx="171.6" cy="532.6" r="0.46" fill="#702020" fill-opacity="0.44"/>
<circle cx="161.4" cy="546.5" r="0.48" fill="#702020" fill-opacity="0.41"/>
<circle cx="183.8" cy="540.3" r="0.56" fill="#702020" fill-opacity="0.31"/>
</g>
<text x="110.8" y="525.0" font-size="6.6" fill="#a0143a" text-anchor="start" textLength="53" lengthAdjust="spacingAndGlyphs">Phospho NFkB p65</text>
<text x="110.6" y="567.6" font-size="6.5" fill="#f4f4f4" text-anchor="start" textLength="16.5" lengthAdjust="spacingAndGlyphs" stroke="#f4f4f4" stroke-width="0.22">10 µm</text>
<line x1="114.1" y1="570.0" x2="122.3" y2="570.0" stroke="#ddd" stroke-width="0.8"/>
<rect x="187.7" y="518.2" width="76.2" height="54.2" fill="#0b0b0b"/>
<g filter="url(#bl)">
</g>
<g filter="url(#bl2)"><circle cx="191.7" cy="537.7" r="1.8" fill="#e02a2a"/><circle cx="222.4" cy="542.9" r="1.6" fill="#8a1818"/><circle cx="229.7" cy="545.0" r="2.0" fill="#e82828"/><circle cx="244.3" cy="562.6" r="1.3" fill="none" stroke="#c02020" stroke-width="0.8"/><circle cx="217.7" cy="551.2" r="0.7" fill="#702020"/></g>
<text x="189.7" y="525.0" font-size="6.6" fill="#a0143a" text-anchor="start" textLength="53" lengthAdjust="spacingAndGlyphs">Phospho NFkB p65</text>
<text x="189.5" y="567.6" font-size="6.5" fill="#f4f4f4" text-anchor="start" textLength="16.5" lengthAdjust="spacingAndGlyphs" stroke="#f4f4f4" stroke-width="0.22">10 µm</text>
<line x1="193.0" y1="570.0" x2="201.2" y2="570.0" stroke="#ddd" stroke-width="0.8"/>
<rect x="31.0" y="574.9" width="76.2" height="54.2" fill="#0b0b0b"/>
<g filter="url(#bl)">
</g>
<g filter="url(#bl2)" stroke-linecap="round" fill="none"><path d="M49.5,595.8 C52.0,598.4 54.0,599.9 56.3,600.3 C60.0,600.9 65.0,601.2 69.0,601.0 C72.0,600.7 75.0,597.9 78.0,597.3 L85.5,597.5" stroke="#3cb03c" stroke-width="0.9"/><path d="M67.0,601.4 L66.2,605.1 M74.5,601.6 L71.5,606.6 M76.0,601.9 L77.5,605.1 M52.0,597.9 L49.0,599.9" stroke="#2a702a" stroke-width="0.6"/><path d="M73.5,586.9 C79.0,585.9 85.0,584.9 90.7,583.1 L89.5,584.9" stroke="#4a524a" stroke-width="0.6"/><path d="M65.5,622.4 l1.2,-1.6 l1.2,1.6 l-1.2,1.2 z M66.7,620.8 l0,-1.6" stroke="#40a840" stroke-width="0.7"/></g>
<text x="33.0" y="580.8" font-size="6.6" fill="#e6e6e6" text-anchor="start" textLength="16.2" lengthAdjust="spacingAndGlyphs">merge</text>
<text x="32.8" y="624.3" font-size="6.5" fill="#f4f4f4" text-anchor="start" textLength="16.5" lengthAdjust="spacingAndGlyphs" stroke="#f4f4f4" stroke-width="0.22">10 µm</text>
<line x1="36.3" y1="626.7" x2="44.5" y2="626.7" stroke="#ddd" stroke-width="0.8"/>
<rect x="108.8" y="574.9" width="76.2" height="54.2" fill="#0b0b0b"/>
<g filter="url(#bl)">
<circle cx="150.6" cy="613.7" r="0.56" fill="#2a9a2a" fill-opacity="0.32"/>
<circle cx="178.5" cy="605.4" r="0.50" fill="#2a9a2a" fill-opacity="0.45"/>
<circle cx="175.4" cy="621.8" r="0.41" fill="#3cc83c" fill-opacity="0.49"/>
<circle cx="114.6" cy="612.4" r="0.52" fill="#2a9a2a" fill-opacity="0.34"/>
<circle cx="147.0" cy="581.0" r="0.32" fill="#2a9a2a" fill-opacity="0.34"/>
<circle cx="151.7" cy="601.4" r="0.32" fill="#2a9a2a" fill-opacity="0.29"/>
</g>
<g filter="url(#bl2)" stroke-linecap="round" fill="none"><path d="M144.8,596.9 L146.2,602.3 M142.8,601.9 L149.8,602.5 C154.8,603.4 158.8,604.4 164.8,605.3 M152.8,602.9 L153.8,605.9" stroke="#3aa03a" stroke-width="0.9"/><circle cx="146.2" cy="602.3" r="0.9" fill="#5ad05a"/><path d="M117.8,589.3 L118.8,589.9 M122.8,588.9 L124.3,589.5 M126.8,589.7 L127.8,589.1 M115.8,591.9 L116.3,594.9" stroke="#2e8a2e" stroke-width="0.7"/><path d="M130.8,621.4 L133.3,625.4 M133.3,621.4 L130.8,625.4" stroke="#2e8a2e" stroke-width="0.6"/><path d="M169.8,592.9 L170.8,595.9 M174.8,600.9 L176.8,601.4 M179.8,605.9 L180.8,607.9" stroke="#2a7a2a" stroke-width="0.6"/></g>
<text x="110.8" y="580.8" font-size="6.6" fill="#e6e6e6" text-anchor="start" textLength="16.2" lengthAdjust="spacingAndGlyphs">merge</text>
<text x="110.6" y="624.3" font-size="6.5" fill="#f4f4f4" text-anchor="start" textLength="16.5" lengthAdjust="spacingAndGlyphs" stroke="#f4f4f4" stroke-width="0.22">10 µm</text>
<line x1="114.1" y1="626.7" x2="122.3" y2="626.7" stroke="#ddd" stroke-width="0.8"/>
<rect x="187.7" y="574.9" width="76.2" height="54.2" fill="#0b0b0b"/>
<g filter="url(#bl)">
<circle cx="238.4" cy="584.0" r="0.49" fill="#3cc83c" fill-opacity="0.34"/>
<circle cx="228.1" cy="584.8" r="0.48" fill="#2a9a2a" fill-opacity="0.32"/>
<circle cx="218.1" cy="613.0" r="0.34" fill="#2a9a2a" fill-opacity="0.45"/>
<circle cx="253.2" cy="582.1" r="0.32" fill="#2a9a2a" fill-opacity="0.32"/>
<circle cx="216.9" cy="611.6" r="0.49" fill="#2a9a2a" fill-opacity="0.39"/>
<circle cx="195.0" cy="603.6" r="0.45" fill="#3cc83c" fill-opacity="0.27"/>
</g>
<g filter="url(#bl2)" stroke-linecap="round"><ellipse cx="222.2" cy="599.4" rx="3.6" ry="3.4" fill="#2f8a2f"/><ellipse cx="222.2" cy="599.4" rx="2.4" ry="2.2" fill="#7ad04a"/><ellipse cx="229.7" cy="601.6" rx="2.6" ry="2.3" fill="#2f8a2f"/><ellipse cx="229.7" cy="601.6" rx="1.6" ry="1.4" fill="#d8e040"/><circle cx="210.0" cy="603.1" r="1.2" fill="#2f8a2f"/><path d="M218.7,595.9 L214.7,593.9 M225.7,595.9 L226.7,590.9 M232.7,599.9 L237.7,595.9 M217.7,602.9 L213.7,605.9 M231.7,603.9 L234.7,606.9" stroke="#2e8a2e" stroke-width="0.7" fill="none"/><path d="M245.7,595.9 L248.7,593.9 M253.7,591.9 L255.7,595.9 M258.7,592.9 L261.7,588.9" stroke="#2e8a2e" stroke-width="0.8" fill="none"/></g><g filter="url(#bl2)"><circle cx="191.7" cy="594.4" r="1.8" fill="#e02a2a"/><circle cx="244.3" cy="619.3" r="1.3" fill="none" stroke="#c02020" stroke-width="0.8"/><circle cx="217.7" cy="607.9" r="0.7" fill="#702020"/></g>
<text x="189.7" y="580.8" font-size="6.6" fill="#e6e6e6" text-anchor="start" textLength="16.2" lengthAdjust="spacingAndGlyphs">merge</text>
<text x="189.5" y="624.3" font-size="6.5" fill="#f4f4f4" text-anchor="start" textLength="16.5" lengthAdjust="spacingAndGlyphs" stroke="#f4f4f4" stroke-width="0.22">10 µm</text>
<line x1="193.0" y1="626.7" x2="201.2" y2="626.7" stroke="#ddd" stroke-width="0.8"/>
<text x="290.0" y="322.6" font-size="10.8" fill="#000" text-anchor="start" font-weight="bold" stroke="#000" stroke-width="0.4">F</text>
<rect x="350.7" y="360.8" width="9.4" height="42.8" fill="#e6e6ee"/>
<rect x="365.2" y="390.4" width="10" height="13.2" fill="#b9c5dd" stroke="#9fb0d0" stroke-width="0.4"/>
<rect x="380.3" y="402.2" width="9.4" height="1.4" fill="#e7a0a0"/>
<path d="M355.4,360.8 L355.4,355.2 M353.9,355.2 L356.9,355.2" stroke="#333" stroke-width="0.7"/>
<path d="M370.2,390.4 L370.2,381.6 M368.7,381.6 L371.7,381.6" stroke="#8a6a40" stroke-width="0.7"/>
<circle cx="352" cy="347.6" r="1.75" fill="#e4e4e8" stroke="#7a7a7a" stroke-width="0.7"/>
<circle cx="358.6" cy="350.1" r="1.75" fill="#e4e4e8" stroke="#7a7a7a" stroke-width="0.7"/>
<circle cx="355.3" cy="360.2" r="1.75" fill="#e4e4e8" stroke="#7a7a7a" stroke-width="0.7"/>
<circle cx="355.3" cy="369" r="1.75" fill="#e4e4e8" stroke="#7a7a7a" stroke-width="0.7"/>
<circle cx="355.3" cy="377.5" r="1.75" fill="#e4e4e8" stroke="#7a7a7a" stroke-width="0.7"/>
<circle cx="370" cy="373.1" r="1.9" fill="#1a3358"/>
<circle cx="366.7" cy="399.2" r="1.9" fill="#1a3358"/>
<circle cx="373.4" cy="398.3" r="1.9" fill="#1a3358"/>
<circle cx="381.9" cy="402.6" r="1.7" fill="#a3142a"/>
<circle cx="383.4" cy="402.6" r="1.7" fill="#a3142a"/>
<circle cx="384.9" cy="402.6" r="1.7" fill="#a3142a"/>
<circle cx="386.4" cy="402.6" r="1.7" fill="#a3142a"/>
<circle cx="387.9" cy="402.6" r="1.7" fill="#a3142a"/>
<path d="M345.5,338.2 L345.5,403.5 L394.7,403.5" fill="none" stroke="#222" stroke-width="1"/>
<line x1="343.2" y1="403.6" x2="345.7" y2="403.6" stroke="#222" stroke-width="0.8"/>
<text x="339.2" y="405.7" font-size="6.2" fill="#333" text-anchor="end">0</text>
<line x1="343.2" y1="387.8" x2="345.7" y2="387.8" stroke="#222" stroke-width="0.8"/>
<text x="339.2" y="389.9" font-size="6.2" fill="#333" text-anchor="end">500</text>
<line x1="343.2" y1="372.0" x2="345.7" y2="372.0" stroke="#222" stroke-width="0.8"/>
<text x="339.2" y="374.1" font-size="6.2" fill="#333" text-anchor="end">1000</text>
<line x1="343.2" y1="356.2" x2="345.7" y2="356.2" stroke="#222" stroke-width="0.8"/>
<text x="339.2" y="358.3" font-size="6.2" fill="#333" text-anchor="end">1500</text>
<line x1="343.2" y1="340.4" x2="345.7" y2="340.4" stroke="#222" stroke-width="0.8"/>
<text x="339.2" y="342.5" font-size="6.2" fill="#333" text-anchor="end">2000</text>
<line x1="355.1" y1="337.8" x2="385.3" y2="337.8" stroke="#333" stroke-width="0.9"/>
<text x="358.9" y="335" font-size="6" fill="#222" textLength="22.6" lengthAdjust="spacingAndGlyphs"><tspan font-style="italic">P</tspan> = .004</text>
<text x="309.8" y="371" font-size="6.6" fill="#222" text-anchor="middle" font-weight="bold" textLength="49.5" lengthAdjust="spacingAndGlyphs" transform="rotate(-90 309.8 371)">Indole-3-acetic acid</text>
<text x="320.0" y="371" font-size="6.6" fill="#222" text-anchor="middle" font-weight="bold" textLength="69.4" lengthAdjust="spacingAndGlyphs" transform="rotate(-90 320.0 371)">abundance in human cortex</text>
<circle cx="305.8" cy="414.6" r="1.75" fill="#e4e4e8" stroke="#7a7a7a" stroke-width="0.7"/>
<text x="310.4" y="416.5" font-size="5.3" fill="#333" text-anchor="start" textLength="56.6" lengthAdjust="spacingAndGlyphs">Control patients (<tspan font-style="italic">n</tspan> = 5)</text>
<circle cx="305.8" cy="424.4" r="1.9" fill="#1a3358"/>
<text x="310.4" y="426.3" font-size="5.3" fill="#333" text-anchor="start" textLength="96.3" lengthAdjust="spacingAndGlyphs">Allo-HCT patients without GvHD (<tspan font-style="italic">n</tspan> = 3)</text>
<circle cx="305.8" cy="434.8" r="1.9" fill="#a3142a"/>
<text x="310.4" y="436.7" font-size="5.3" fill="#333" text-anchor="start" textLength="88.8" lengthAdjust="spacingAndGlyphs">Allo-HCT patients with GvHD (<tspan font-style="italic">n</tspan> = 5)</text>
<text x="290.1" y="459" font-size="10.8" fill="#000" text-anchor="start" font-weight="bold" stroke="#000" stroke-width="0.4">H</text>
<rect x="344" y="526.5" width="9.6" height="17.3" fill="#e2e2ea"/>
<rect x="358.9" y="510" width="9.4" height="33.8" fill="#7c8abf"/>
<rect x="373.4" y="499.5" width="9.8" height="44.3" fill="#e8887c"/>
<path d="M348.7,521 L348.7,516.3 M347.2,516.3 L350.2,516.3" stroke="#333" stroke-width="0.7"/>
<path d="M363.6,510 L363.6,503 M362.1,503 L365.1,503" stroke="#333" stroke-width="0.7"/>
<path d="M378.3,499.5 L378.3,493.9 M376.8,493.9 L379.8,493.9" stroke="#333" stroke-width="0.7"/>
<circle cx="345.2" cy="511.9" r="1.85" fill="#e4e4e8" stroke="#7a7a7a" stroke-width="0.7"/>
<circle cx="349" cy="512.9" r="1.85" fill="#e4e4e8" stroke="#7a7a7a" stroke-width="0.7"/>
<circle cx="348.7" cy="521" r="1.85" fill="#e4e4e8" stroke="#7a7a7a" stroke-width="0.7"/>
<circle cx="352.2" cy="522.9" r="1.85" fill="#e4e4e8" stroke="#7a7a7a" stroke-width="0.7"/>
<circle cx="345.2" cy="524.8" r="1.85" fill="#e4e4e8" stroke="#7a7a7a" stroke-width="0.7"/>
<circle cx="363.7" cy="503" r="2" fill="#1a3358"/>
<circle cx="363.7" cy="510" r="2" fill="#1a3358"/>
<circle cx="363.7" cy="517.5" r="2" fill="#1a3358"/>
<circle cx="378.3" cy="489.1" r="1.9" fill="#961830"/>
<circle cx="374.8" cy="500" r="1.9" fill="#961830"/>
<circle cx="377" cy="500.8" r="1.9" fill="#961830"/>
<circle cx="379.5" cy="499.6" r="1.9" fill="#961830"/>
<circle cx="381.8" cy="500.5" r="1.9" fill="#961830"/>
<circle cx="376" cy="498.8" r="1.9" fill="#961830"/>
<path d="M338.5,478.2 L338.5,543.5 L388.5,543.5" fill="none" stroke="#222" stroke-width="1"/>
<line x1="336" y1="543.8" x2="338.5" y2="543.8" stroke="#222" stroke-width="0.8"/>
<text x="333.3" y="546.0" font-size="6.5" fill="#333" text-anchor="end">0.0</text>
<line x1="336" y1="531.2" x2="338.5" y2="531.2" stroke="#222" stroke-width="0.8"/>
<text x="333.3" y="533.42" font-size="6.5" fill="#333" text-anchor="end">0.5</text>
<line x1="336" y1="518.6" x2="338.5" y2="518.6" stroke="#222" stroke-width="0.8"/>
<text x="333.3" y="520.84" font-size="6.5" fill="#333" text-anchor="end">1.0</text>
<line x1="336" y1="506.1" x2="338.5" y2="506.1" stroke="#222" stroke-width="0.8"/>
<text x="333.3" y="508.26" font-size="6.5" fill="#333" text-anchor="end">1.5</text>
<line x1="336" y1="493.5" x2="338.5" y2="493.5" stroke="#222" stroke-width="0.8"/>
<text x="333.3" y="495.68" font-size="6.5" fill="#333" text-anchor="end">2.0</text>
<line x1="336" y1="480.9" x2="338.5" y2="480.9" stroke="#222" stroke-width="0.8"/>
<text x="333.3" y="483.1" font-size="6.5" fill="#333" text-anchor="end">2.5</text>
<line x1="348.6" y1="477.8" x2="378.8" y2="477.8" stroke="#333" stroke-width="0.9"/>
<text x="352" y="475.6" font-size="6" fill="#222" textLength="23.5" lengthAdjust="spacingAndGlyphs"><tspan font-style="italic">P</tspan> = .006</text>
<text x="308.9" y="511.7" font-size="6.6" fill="#222" text-anchor="middle" font-weight="bold" textLength="76" lengthAdjust="spacingAndGlyphs" transform="rotate(-90 308.9 511.7)">Phospho NF-κB p65–expression</text>
<text x="318.8" y="511.0" font-size="6.6" fill="#222" text-anchor="middle" font-weight="bold" textLength="83" lengthAdjust="spacingAndGlyphs" transform="rotate(-90 318.8 511.0)">in Iba-1<tspan baseline-shift="super" font-size="4">+</tspan> cells (fold change MFI)</text>
<circle cx="304.2" cy="559.2" r="1.75" fill="#e4e4e8" stroke="#7a7a7a" stroke-width="0.7"/>
<text x="309.1" y="561.1" font-size="5.3" fill="#333" text-anchor="start" textLength="56.3" lengthAdjust="spacingAndGlyphs">Control patients (<tspan font-style="italic">n</tspan> = 5)</text>
<circle cx="304.2" cy="568.8" r="1.9" fill="#1a3358"/>
<text x="309.1" y="570.7" font-size="5.3" fill="#333" text-anchor="start" textLength="97" lengthAdjust="spacingAndGlyphs">Allo-HCT patients without GvHD (<tspan font-style="italic">n</tspan> = 3)</text>
<circle cx="304.2" cy="579.1" r="1.9" fill="#a3142a"/>
<text x="309.1" y="581.0" font-size="5.3" fill="#333" text-anchor="start" textLength="89.5" lengthAdjust="spacingAndGlyphs">Allo-HCT patients with GvHD (<tspan font-style="italic">n</tspan> = 5)</text>
<rect x="0.5" y="0.5" width="519" height="635" fill="none" stroke="#4a4a4a" stroke-width="1"/>
</svg>
</body></html>
